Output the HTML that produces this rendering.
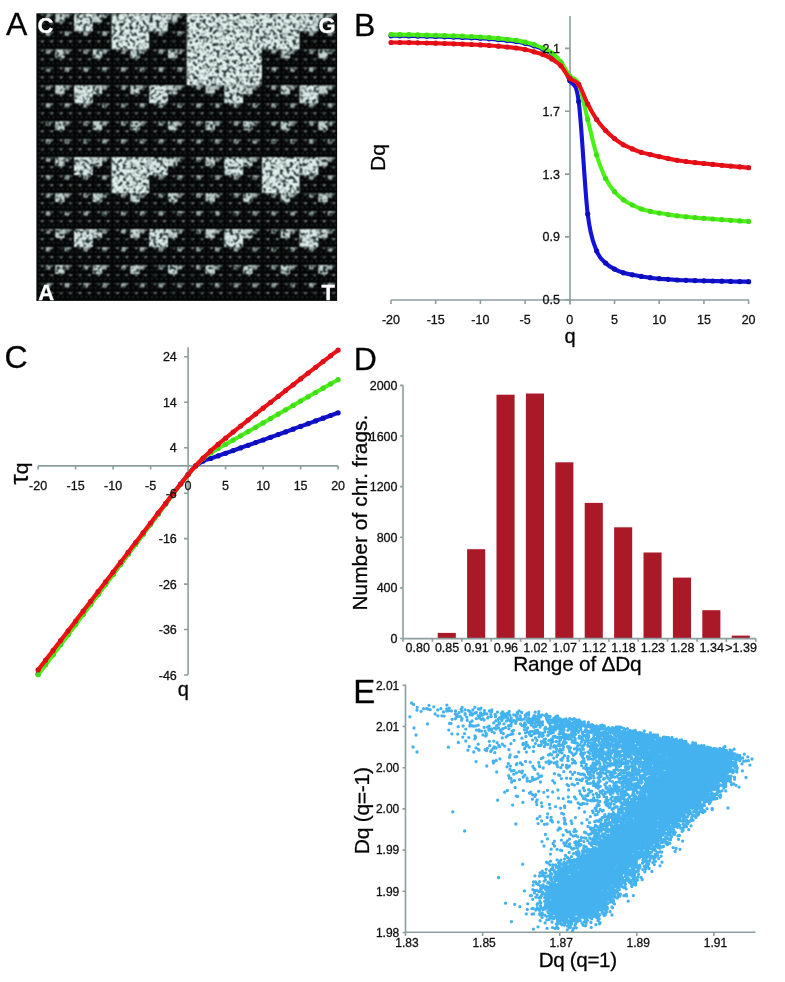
<!DOCTYPE html><html><head><meta charset="utf-8"><style>html,body{margin:0;padding:0;background:#fff;}svg{display:block}text{stroke:#111;stroke-width:.3px}.w text{stroke:#fff}</style></head><body>
<svg width="785" height="982" viewBox="0 0 785 982" style="will-change:transform" font-family="Liberation Sans, sans-serif">
<rect width="785" height="982" fill="#fff"/>
<defs>
<rect id="L0" x=".5" y="0" width=".25" height=".25"/>
<g id="L1"><use href="#L0" transform="scale(.5)"/><use href="#L0" transform="translate(.5 0) scale(.5)"/><use href="#L0" transform="translate(0 .5) scale(.5)"/><use href="#L0" transform="translate(.5 .5) scale(.5)"/></g>
<g id="L2"><use href="#L1" transform="scale(.5)"/><use href="#L1" transform="translate(.5 0) scale(.5)"/><use href="#L1" transform="translate(0 .5) scale(.5)"/><use href="#L1" transform="translate(.5 .5) scale(.5)"/></g>
<g id="L3"><use href="#L2" transform="scale(.5)"/><use href="#L2" transform="translate(.5 0) scale(.5)"/><use href="#L2" transform="translate(0 .5) scale(.5)"/><use href="#L2" transform="translate(.5 .5) scale(.5)"/></g>
<g id="L4"><use href="#L3" transform="scale(.5)"/><use href="#L3" transform="translate(.5 0) scale(.5)"/><use href="#L3" transform="translate(0 .5) scale(.5)"/><use href="#L3" transform="translate(.5 .5) scale(.5)"/></g>
<g id="L5"><use href="#L4" transform="scale(.5)"/><use href="#L4" transform="translate(.5 0) scale(.5)"/><use href="#L4" transform="translate(0 .5) scale(.5)"/><use href="#L4" transform="translate(.5 .5) scale(.5)"/></g>
<g id="L6"><use href="#L5" transform="scale(.5)"/><use href="#L5" transform="translate(.5 0) scale(.5)"/><use href="#L5" transform="translate(0 .5) scale(.5)"/><use href="#L5" transform="translate(.5 .5) scale(.5)"/></g>
<filter id="cgrblur" filterUnits="userSpaceOnUse" x="36.4" y="13.3" width="300.7" height="287.6" color-interpolation-filters="sRGB"><feTurbulence type="fractalNoise" baseFrequency="0.3" numOctaves="2" seed="7" result="t"/><feColorMatrix in="t" type="matrix" values="0 0 0 0 0 0 0 0 0 0 0 0 0 0 0 5 0 0 0 -2.4" result="mask"/><feFlood flood-color="#1c2c2c"/><feComposite in2="mask" operator="in"/><feComposite in2="SourceGraphic" operator="in" result="spk"/><feMerge><feMergeNode in="SourceGraphic"/><feMergeNode in="spk"/></feMerge><feConvolveMatrix order="3" kernelMatrix="1 2 1 2 4 2 1 2 1" divisor="16" edgeMode="none"/></filter>
</defs>
<rect x="36.4" y="13.3" width="300.7" height="287.6" fill="#050707"/>
<g filter="url(#cgrblur)">
<svg x="36.4" y="13.3" width="300.7" height="287.6" viewBox="0 0 1 1" preserveAspectRatio="none">
<use href="#L6" fill="#4a5250"/>
<use href="#L5" fill="#76807e"/>
<use href="#L4" fill="#a4b0ae"/>
<use href="#L3" fill="#c8d6d2"/>
<use href="#L2" fill="#dcebe7"/>
<use href="#L1" fill="#e2f0ec"/>
<use href="#L0" fill="#e4f2ee"/>
</svg>
</g>
<g class="w" font-weight="bold" font-size="22" fill="#fff">
<text x="37.6" y="32.8">C</text>
<text x="335.6" y="32.6" text-anchor="end">G</text>
<text x="38.2" y="300">A</text>
<text x="321.6" y="299.7">T</text>
</g>
<text x="6" y="35" font-size="32">A</text>
<text x="354" y="36" font-size="32">B</text>
<g stroke="#8c9e9e" stroke-width="1.6" fill="none">
<path d="M570 16V304.5M391 300H749"/>
<path d="M565 48.4H570M565 111.2H570M565 174.1H570M565 236.9H570M565 299.8H570M391 300V304M435.7 300V304M480.4 300V304M525.1 300V304M569.8 300V304M614.5 300V304M659.2 300V304M703.9 300V304M748.6 300V304"/>
</g>
<path d="M391 35.8C392.5 35.8 397 35.8 399.9 35.8C402.9 35.9 405.9 35.9 408.9 35.9C411.9 36 414.8 36 417.8 36.1C420.8 36.1 423.8 36.2 426.8 36.3C429.7 36.4 432.7 36.4 435.7 36.5C438.7 36.6 441.7 36.7 444.6 36.8C447.6 36.9 450.6 37 453.6 37.1C456.6 37.2 459.5 37.3 462.5 37.4C465.5 37.5 468.5 37.6 471.5 37.8C474.4 37.9 477.4 38.1 480.4 38.2C483.4 38.4 486.4 38.6 489.3 38.8C492.3 39.1 495.3 39.3 498.3 39.6C501.3 39.8 504.2 40.1 507.2 40.5C510.2 40.8 513.2 41 516.2 41.5C519.1 42 522.1 42.5 525.1 43.3C528.1 44 531.1 44.8 534 45.8C537 46.8 540 47.8 543 49.2C546 50.6 548.9 51.9 551.9 54.2C554.9 56.5 557.9 58.8 560.9 63.2C563.8 67.6 566.8 74.1 569.8 80.5C572.8 86.9 575.8 79.2 578.7 101.5C581.7 123.8 584.7 189.2 587.7 214.1C590.7 239 593.6 242.7 596.6 250.8C599.6 258.9 602.6 259.9 605.6 263C608.5 266.1 611.5 267.5 614.5 269.1C617.5 270.7 620.5 271.9 623.4 272.8C626.4 273.8 629.4 274.2 632.4 274.8C635.4 275.4 638.3 275.9 641.3 276.4C644.3 276.9 647.3 277.3 650.3 277.7C653.2 278.1 656.2 278.4 659.2 278.7C662.2 279 665.2 279.1 668.1 279.3C671.1 279.5 674.1 279.8 677.1 280C680.1 280.2 683 280.2 686 280.3C689 280.4 692 280.5 695 280.6C697.9 280.7 700.9 280.7 703.9 280.8C706.9 280.9 709.9 280.9 712.8 281C715.8 281.1 718.8 281.1 721.8 281.2C724.8 281.3 727.7 281.3 730.7 281.4C733.7 281.4 736.7 281.5 739.7 281.6C742.6 281.6 747.1 281.7 748.6 281.7" fill="none" stroke="#1212d8" stroke-width="4.1" stroke-linejoin="round"/>
<path d="M391 35.8h0M399.9 35.8h0M408.9 35.9h0M417.8 36.1h0M426.8 36.3h0M435.7 36.5h0M444.6 36.8h0M453.6 37.1h0M462.5 37.4h0M471.5 37.8h0M480.4 38.2h0M489.3 38.8h0M498.3 39.6h0M507.2 40.5h0M516.2 41.5h0M525.1 43.3h0M534 45.8h0M543 49.2h0M551.9 54.2h0M560.9 63.2h0M569.8 80.5h0M578.7 101.5h0M587.7 214.1h0M596.6 250.8h0M605.6 263h0M614.5 269.1h0M623.4 272.8h0M632.4 274.8h0M641.3 276.4h0M650.3 277.7h0M659.2 278.7h0M668.1 279.3h0M677.1 280h0M686 280.3h0M695 280.6h0M703.9 280.8h0M712.8 281h0M721.8 281.2h0M730.7 281.4h0M739.7 281.6h0M748.6 281.7h0" stroke="#0e0eb8" stroke-width="5.2" stroke-linecap="round" fill="none"/>
<path d="M391 34.6C392.5 34.6 397 34.6 399.9 34.6C402.9 34.7 405.9 34.7 408.9 34.7C411.9 34.8 414.8 34.8 417.8 34.9C420.8 34.9 423.8 35 426.8 35.1C429.7 35.2 432.7 35.2 435.7 35.3C438.7 35.4 441.7 35.5 444.6 35.6C447.6 35.7 450.6 35.8 453.6 35.9C456.6 36 459.5 36.1 462.5 36.2C465.5 36.3 468.5 36.4 471.5 36.6C474.4 36.7 477.4 36.9 480.4 37C483.4 37.2 486.4 37.4 489.3 37.6C492.3 37.9 495.3 38.1 498.3 38.4C501.3 38.6 504.2 38.9 507.2 39.3C510.2 39.6 513.2 39.8 516.2 40.3C519.1 40.8 522.1 41.3 525.1 42.1C528.1 42.8 531.1 43.6 534 44.6C537 45.6 540 46.6 543 48C546 49.4 548.9 50.7 551.9 53C554.9 55.3 557.9 58.2 560.9 62C563.8 65.8 566.8 72.3 569.8 76C572.8 79.7 575.8 76.8 578.7 84C581.7 91.2 584.7 107.6 587.7 119.4C590.7 131.2 593.6 145.2 596.6 155C599.6 164.8 602.6 172.3 605.6 178.4C608.5 184.5 611.5 188.1 614.5 191.7C617.5 195.3 620.5 197.6 623.4 199.8C626.4 202 629.4 203.5 632.4 205C635.4 206.5 638.3 207.9 641.3 209C644.3 210.1 647.3 210.7 650.3 211.4C653.2 212.1 656.2 212.6 659.2 213.1C662.2 213.6 665.2 214.1 668.1 214.5C671.1 214.9 674.1 215.4 677.1 215.8C680.1 216.2 683 216.5 686 216.8C689 217.1 692 217.3 695 217.6C697.9 217.8 700.9 218.1 703.9 218.3C706.9 218.5 709.9 218.8 712.8 219C715.8 219.2 718.8 219.5 721.8 219.7C724.8 219.9 727.7 220.1 730.7 220.3C733.7 220.5 736.7 220.7 739.7 220.9C742.6 221.1 747.1 221.3 748.6 221.4" fill="none" stroke="#4cf216" stroke-width="4.1" stroke-linejoin="round"/>
<path d="M391 34.6h0M399.9 34.6h0M408.9 34.7h0M417.8 34.9h0M426.8 35.1h0M435.7 35.3h0M444.6 35.6h0M453.6 35.9h0M462.5 36.2h0M471.5 36.6h0M480.4 37h0M489.3 37.6h0M498.3 38.4h0M507.2 39.3h0M516.2 40.3h0M525.1 42.1h0M534 44.6h0M543 48h0M551.9 53h0M560.9 62h0M569.8 76h0M578.7 84h0M587.7 119.4h0M596.6 155h0M605.6 178.4h0M614.5 191.7h0M623.4 199.8h0M632.4 205h0M641.3 209h0M650.3 211.4h0M659.2 213.1h0M668.1 214.5h0M677.1 215.8h0M686 216.8h0M695 217.6h0M703.9 218.3h0M712.8 219h0M721.8 219.7h0M730.7 220.3h0M739.7 220.9h0M748.6 221.4h0" stroke="#42dc18" stroke-width="5.2" stroke-linecap="round" fill="none"/>
<path d="M391 42.5C392.5 42.5 397 42.5 399.9 42.5C402.9 42.6 405.9 42.6 408.9 42.6C411.9 42.7 414.8 42.7 417.8 42.8C420.8 42.8 423.8 42.9 426.8 43C429.7 43.1 432.7 43.1 435.7 43.2C438.7 43.3 441.7 43.4 444.6 43.5C447.6 43.6 450.6 43.7 453.6 43.8C456.6 43.9 459.5 44 462.5 44.1C465.5 44.2 468.5 44.3 471.5 44.5C474.4 44.6 477.4 44.7 480.4 44.9C483.4 45.1 486.4 45.3 489.3 45.5C492.3 45.7 495.3 45.9 498.3 46.2C501.3 46.4 504.2 46.7 507.2 47C510.2 47.3 513.2 47.6 516.2 48C519.1 48.4 522.1 49 525.1 49.6C528.1 50.2 531.1 51 534 51.8C537 52.6 540 53.3 543 54.5C546 55.7 548.9 57.1 551.9 59C554.9 60.9 557.9 62.6 560.9 65.8C563.8 69 566.8 75.2 569.8 78.3C572.8 81.4 575.8 80.1 578.7 84.4C581.7 88.7 584.7 98.2 587.7 104C590.7 109.8 593.6 115 596.6 119.4C599.6 123.8 602.6 127.3 605.6 130.5C608.5 133.7 611.5 136.2 614.5 138.6C617.5 141 620.5 143.1 623.4 144.8C626.4 146.5 629.4 147.6 632.4 148.9C635.4 150.2 638.3 151.5 641.3 152.4C644.3 153.3 647.3 153.9 650.3 154.6C653.2 155.3 656.2 155.9 659.2 156.6C662.2 157.2 665.2 157.9 668.1 158.5C671.1 159.1 674.1 159.8 677.1 160.3C680.1 160.8 683 161.2 686 161.5C689 161.9 692 162.3 695 162.6C697.9 162.9 700.9 163.2 703.9 163.5C706.9 163.8 709.9 164.1 712.8 164.4C715.8 164.7 718.8 165 721.8 165.3C724.8 165.6 727.7 165.9 730.7 166.1C733.7 166.4 736.7 166.7 739.7 166.9C742.6 167.2 747.1 167.6 748.6 167.7" fill="none" stroke="#f01212" stroke-width="4.1" stroke-linejoin="round"/>
<path d="M391 42.5h0M399.9 42.5h0M408.9 42.6h0M417.8 42.8h0M426.8 43h0M435.7 43.2h0M444.6 43.5h0M453.6 43.8h0M462.5 44.1h0M471.5 44.5h0M480.4 44.9h0M489.3 45.5h0M498.3 46.2h0M507.2 47h0M516.2 48h0M525.1 49.6h0M534 51.8h0M543 54.5h0M551.9 59h0M560.9 65.8h0M569.8 78.3h0M578.7 84.4h0M587.7 104h0M596.6 119.4h0M605.6 130.5h0M614.5 138.6h0M623.4 144.8h0M632.4 148.9h0M641.3 152.4h0M650.3 154.6h0M659.2 156.6h0M668.1 158.5h0M677.1 160.3h0M686 161.5h0M695 162.6h0M703.9 163.5h0M712.8 164.4h0M721.8 165.3h0M730.7 166.1h0M739.7 166.9h0M748.6 167.7h0" stroke="#dc0e1c" stroke-width="5.2" stroke-linecap="round" fill="none"/>
<g font-size="12.5" fill="#111" text-anchor="end">
<text x="560" y="52.9">2.1</text>
<text x="560" y="115.7">1.7</text>
<text x="560" y="178.6">1.3</text>
<text x="560" y="241.4">0.9</text>
<text x="560" y="304.3">0.5</text>
</g>
<g font-size="12.5" fill="#111" text-anchor="middle">
<text x="391" y="324">-20</text>
<text x="435.7" y="324">-15</text>
<text x="480.4" y="324">-10</text>
<text x="525.1" y="324">-5</text>
<text x="569.8" y="324">0</text>
<text x="614.5" y="324">5</text>
<text x="659.2" y="324">10</text>
<text x="703.9" y="324">15</text>
<text x="748.6" y="324">20</text>
</g>
<text x="570" y="343" font-size="20" text-anchor="middle">q</text>
<text transform="translate(384.5 157.5) rotate(-90)" font-size="21" text-anchor="middle">Dq</text>
<text x="4.5" y="368" font-size="32">C</text>
<g stroke="#8c9e9e" stroke-width="1.6" fill="none">
<path d="M188.1 347.3V674.8M38.1 465.9H338.1M184 356.8H188.1M184 402.3H188.1M184 447.7H188.1M184 493.2H188.1M184 538.6H188.1M184 584.1H188.1M184 629.5H188.1M184 675H188.1M38.1 465.9V469.5M75.6 465.9V469.5M113.1 465.9V469.5M150.6 465.9V469.5M188.1 465.9V469.5M225.6 465.9V469.5M263.1 465.9V469.5M300.6 465.9V469.5M338.1 465.9V469.5"/>
</g>
<path d="M38.1 674C39.3 672.3 43.1 667.4 45.6 664.1C48.1 660.7 50.6 657.4 53.1 654.1C55.6 650.8 58.1 647.4 60.6 644.1C63.1 640.8 65.6 637.5 68.1 634.1C70.6 630.8 73.1 627.4 75.6 624.1C78.1 620.8 80.6 617.4 83.1 614.1C85.6 610.8 88.1 607.4 90.6 604.1C93.1 600.8 95.6 597.4 98.1 594.1C100.6 590.8 103.1 587.5 105.6 584.1C108.1 580.8 110.6 577.5 113.1 574.1C115.6 570.8 118.1 567.4 120.6 564.1C123.1 560.8 125.6 557.4 128.1 554.1C130.6 550.8 133.1 547.4 135.6 544.1C138.1 540.8 140.6 537.4 143.1 534.1C145.6 530.8 148.1 527.4 150.6 524.1C153.1 520.7 155.6 517.3 158.1 514C160.6 510.7 163.1 507.3 165.6 504C168.1 500.7 170.6 497.3 173.1 494C175.6 490.7 178.1 487.4 180.6 484.1C183.1 480.9 185.6 477.6 188.1 474.5C190.6 471.5 193.1 468.1 195.6 465.9C198.1 463.7 200.6 462.4 203.1 461.1C205.6 459.9 208.1 459.4 210.6 458.5C213.1 457.6 215.6 456.8 218.1 455.9C220.6 455 223.1 454.1 225.6 453.3C228.1 452.4 230.6 451.5 233.1 450.6C235.6 449.7 238.1 448.8 240.6 447.9C243.1 447 245.6 446.1 248.1 445.3C250.6 444.4 253.1 443.5 255.6 442.6C258.1 441.7 260.6 440.9 263.1 440C265.6 439.1 268.1 438.1 270.6 437.3C273.1 436.4 275.6 435.5 278.1 434.6C280.6 433.7 283.1 432.8 285.6 431.9C288.1 431 290.6 430.1 293.1 429.2C295.6 428.2 298.1 427.3 300.6 426.4C303.1 425.5 305.6 424.6 308.1 423.7C310.6 422.8 313.1 421.9 315.6 420.9C318.1 420 320.6 419.1 323.1 418.2C325.6 417.3 328.1 416.4 330.6 415.5C333.1 414.6 336.9 413.2 338.1 412.8" fill="none" stroke="#1212d8" stroke-width="4.1" stroke-linejoin="round"/>
<path d="M38.1 674h0M45.6 664.1h0M53.1 654.1h0M60.6 644.1h0M68.1 634.1h0M75.6 624.1h0M83.1 614.1h0M90.6 604.1h0M98.1 594.1h0M105.6 584.1h0M113.1 574.1h0M120.6 564.1h0M128.1 554.1h0M135.6 544.1h0M143.1 534.1h0M150.6 524.1h0M158.1 514h0M165.6 504h0M173.1 494h0M180.6 484.1h0M188.1 474.5h0M195.6 465.9h0M203.1 461.1h0M210.6 458.5h0M218.1 455.9h0M225.6 453.3h0M233.1 450.6h0M240.6 447.9h0M248.1 445.3h0M255.6 442.6h0M263.1 440h0M270.6 437.3h0M278.1 434.6h0M285.6 431.9h0M293.1 429.2h0M300.6 426.4h0M308.1 423.7h0M315.6 420.9h0M323.1 418.2h0M330.6 415.5h0M338.1 412.8h0" stroke="#0e0eb8" stroke-width="5.2" stroke-linecap="round" fill="none"/>
<path d="M38.1 674.7C39.3 673.1 43.1 668.1 45.6 664.8C48.1 661.4 50.6 658.1 53.1 654.8C55.6 651.4 58.1 648.1 60.6 644.7C63.1 641.4 65.6 638.1 68.1 634.7C70.6 631.4 73.1 628 75.6 624.7C78.1 621.3 80.6 618 83.1 614.6C85.6 611.3 88.1 607.9 90.6 604.6C93.1 601.2 95.6 597.9 98.1 594.6C100.6 591.2 103.1 587.9 105.6 584.5C108.1 581.2 110.6 577.9 113.1 574.5C115.6 571.2 118.1 567.8 120.6 564.5C123.1 561.1 125.6 557.8 128.1 554.4C130.6 551.1 133.1 547.7 135.6 544.4C138.1 541 140.6 537.7 143.1 534.4C145.6 531 148.1 527.6 150.6 524.3C153.1 520.9 155.6 517.5 158.1 514.2C160.6 510.8 163.1 507.5 165.6 504.1C168.1 500.8 170.6 497.5 173.1 494.1C175.6 490.8 178.1 487.5 180.6 484.2C183.1 481 185.6 477.7 188.1 474.6C190.6 471.6 193.1 468.6 195.6 465.9C198.1 463.2 200.6 460.6 203.1 458.4C205.6 456.3 208.1 454.6 210.6 453C213.1 451.3 215.6 450 218.1 448.5C220.6 447.1 223.1 445.7 225.6 444.3C228.1 442.9 230.6 441.5 233.1 440.1C235.6 438.7 238.1 437.2 240.6 435.8C243.1 434.4 245.6 433 248.1 431.6C250.6 430.2 253.1 428.7 255.6 427.3C258.1 425.8 260.6 424.3 263.1 422.9C265.6 421.4 268.1 420 270.6 418.5C273.1 417.1 275.6 415.6 278.1 414.2C280.6 412.7 283.1 411.3 285.6 409.8C288.1 408.4 290.6 406.9 293.1 405.4C295.6 404 298.1 402.5 300.6 401.1C303.1 399.6 305.6 398.2 308.1 396.8C310.6 395.3 313.1 393.9 315.6 392.5C318.1 391 320.6 389.6 323.1 388.2C325.6 386.8 328.1 385.3 330.6 383.9C333.1 382.5 336.9 380.4 338.1 379.6" fill="none" stroke="#4cf216" stroke-width="4.1" stroke-linejoin="round"/>
<path d="M38.1 674.7h0M45.6 664.8h0M53.1 654.8h0M60.6 644.7h0M68.1 634.7h0M75.6 624.7h0M83.1 614.6h0M90.6 604.6h0M98.1 594.6h0M105.6 584.5h0M113.1 574.5h0M120.6 564.5h0M128.1 554.4h0M135.6 544.4h0M143.1 534.4h0M150.6 524.3h0M158.1 514.2h0M165.6 504.1h0M173.1 494.1h0M180.6 484.2h0M188.1 474.6h0M195.6 465.9h0M203.1 458.4h0M210.6 453h0M218.1 448.5h0M225.6 444.3h0M233.1 440.1h0M240.6 435.8h0M248.1 431.6h0M255.6 427.3h0M263.1 422.9h0M270.6 418.5h0M278.1 414.2h0M285.6 409.8h0M293.1 405.4h0M300.6 401.1h0M308.1 396.8h0M315.6 392.5h0M323.1 388.2h0M330.6 383.9h0M338.1 379.6h0" stroke="#42dc18" stroke-width="5.2" stroke-linecap="round" fill="none"/>
<path d="M38.1 669.9C39.3 668.3 43.1 663.4 45.6 660.2C48.1 656.9 50.6 653.7 53.1 650.4C55.6 647.2 58.1 643.9 60.6 640.6C63.1 637.4 65.6 634.1 68.1 630.8C70.6 627.5 73.1 624.3 75.6 621C78.1 617.7 80.6 614.5 83.1 611.2C85.6 607.9 88.1 604.7 90.6 601.4C93.1 598.1 95.6 594.9 98.1 591.6C100.6 588.3 103.1 585.1 105.6 581.8C108.1 578.5 110.6 575.3 113.1 572C115.6 568.7 118.1 565.5 120.6 562.2C123.1 558.9 125.6 555.6 128.1 552.4C130.6 549.1 133.1 545.8 135.6 542.6C138.1 539.3 140.6 536.1 143.1 532.8C145.6 529.5 148.1 526.2 150.6 523C153.1 519.7 155.6 516.4 158.1 513.1C160.6 509.9 163.1 506.6 165.6 503.4C168.1 500.1 170.6 496.8 173.1 493.6C175.6 490.4 178.1 487.2 180.6 484C183.1 480.8 185.6 477.6 188.1 474.6C190.6 471.6 193.1 468.7 195.6 465.9C198.1 463.1 200.6 460.5 203.1 458C205.6 455.5 208.1 453.2 210.6 450.9C213.1 448.7 215.6 446.5 218.1 444.4C220.6 442.3 223.1 440.2 225.6 438.2C228.1 436.1 230.6 434.1 233.1 432.1C235.6 430.1 238.1 428.1 240.6 426.1C243.1 424.1 245.6 422.1 248.1 420.1C250.6 418.2 253.1 416.1 255.6 414.1C258.1 412.1 260.6 410.1 263.1 408.2C265.6 406.2 268.1 404.2 270.6 402.3C273.1 400.4 275.6 398.5 278.1 396.5C280.6 394.6 283.1 392.6 285.6 390.6C288.1 388.7 290.6 386.7 293.1 384.8C295.6 382.8 298.1 380.8 300.6 378.9C303.1 376.9 305.6 375 308.1 373.1C310.6 371.1 313.1 369.2 315.6 367.3C318.1 365.4 320.6 363.5 323.1 361.6C325.6 359.6 328.1 357.7 330.6 355.8C333.1 353.9 336.9 351.1 338.1 350.1" fill="none" stroke="#f01212" stroke-width="4.1" stroke-linejoin="round"/>
<path d="M38.1 669.9h0M45.6 660.2h0M53.1 650.4h0M60.6 640.6h0M68.1 630.8h0M75.6 621h0M83.1 611.2h0M90.6 601.4h0M98.1 591.6h0M105.6 581.8h0M113.1 572h0M120.6 562.2h0M128.1 552.4h0M135.6 542.6h0M143.1 532.8h0M150.6 523h0M158.1 513.1h0M165.6 503.4h0M173.1 493.6h0M180.6 484h0M188.1 474.6h0M195.6 465.9h0M203.1 458h0M210.6 450.9h0M218.1 444.4h0M225.6 438.2h0M233.1 432.1h0M240.6 426.1h0M248.1 420.1h0M255.6 414.1h0M263.1 408.2h0M270.6 402.3h0M278.1 396.5h0M285.6 390.6h0M293.1 384.8h0M300.6 378.9h0M308.1 373.1h0M315.6 367.3h0M323.1 361.6h0M330.6 355.8h0M338.1 350.1h0" stroke="#dc0e1c" stroke-width="5.2" stroke-linecap="round" fill="none"/>
<g font-size="12.5" fill="#111" text-anchor="end">
<text x="176.8" y="361.3">24</text>
<text x="176.8" y="406.8">14</text>
<text x="176.8" y="452.2">4</text>
<text x="176.8" y="497.7">-6</text>
<text x="176.8" y="543.1">-16</text>
<text x="176.8" y="588.6">-26</text>
<text x="176.8" y="634">-36</text>
<text x="176.8" y="679.5">-46</text>
</g>
<g font-size="12.5" fill="#111" text-anchor="middle">
<text x="38.1" y="490">-20</text>
<text x="75.6" y="490">-15</text>
<text x="113.1" y="490">-10</text>
<text x="150.6" y="490">-5</text>
<text x="188.1" y="490">0</text>
<text x="225.6" y="490">5</text>
<text x="263.1" y="490">10</text>
<text x="300.6" y="490">15</text>
<text x="338.1" y="490">20</text>
</g>
<text x="183.3" y="696" font-size="20" text-anchor="middle">q</text>
<text transform="translate(27.6 484.5) rotate(-90)" font-size="21"><tspan font-size="26">τ</tspan>q</text>
<text x="353.8" y="370" font-size="32">D</text>
<rect x="437.7" y="632.9" width="18.1" height="5.7" fill="#aa1928"/>
<rect x="467.1" y="549.2" width="18.1" height="89.4" fill="#aa1928"/>
<rect x="496.5" y="394.7" width="18.1" height="243.9" fill="#aa1928"/>
<rect x="525.9" y="393.5" width="18.1" height="245.1" fill="#aa1928"/>
<rect x="555.3" y="462.3" width="18.1" height="176.3" fill="#aa1928"/>
<rect x="584.7" y="502.9" width="18.1" height="135.7" fill="#aa1928"/>
<rect x="614.1" y="527.3" width="18.1" height="111.3" fill="#aa1928"/>
<rect x="643.5" y="552.5" width="18.1" height="86.1" fill="#aa1928"/>
<rect x="672.9" y="577.6" width="18.1" height="61" fill="#aa1928"/>
<rect x="702.3" y="610.2" width="18.1" height="28.4" fill="#aa1928"/>
<rect x="731.7" y="635.6" width="18.1" height="3" fill="#aa1928"/>
<g stroke="#8c9e9e" stroke-width="1.6" fill="none">
<path d="M403 385.2V638.6H755.8M400.1 638.5H403M400.1 587.9H403M400.1 537.3H403M400.1 486.6H403M400.1 436H403M400.1 385.4H403M403 638.6V641.8M432.4 638.6V641.8M461.8 638.6V641.8M491.2 638.6V641.8M520.6 638.6V641.8M550 638.6V641.8M579.4 638.6V641.8M608.8 638.6V641.8M638.2 638.6V641.8M667.6 638.6V641.8M697 638.6V641.8M726.4 638.6V641.8M755.8 638.6V641.8"/>
</g>
<g font-size="12.5" fill="#111" text-anchor="end">
<text x="397.5" y="643">0</text>
<text x="397.5" y="592.4">400</text>
<text x="397.5" y="541.8">800</text>
<text x="397.5" y="491.1">1200</text>
<text x="397.5" y="440.5">1600</text>
<text x="397.5" y="389.9">2000</text>
</g>
<g font-size="12.5" fill="#111" text-anchor="middle">
<text x="417.7" y="651.5">0.80</text>
<text x="447.1" y="651.5">0.85</text>
<text x="476.5" y="651.5">0.91</text>
<text x="505.9" y="651.5">0.96</text>
<text x="535.3" y="651.5">1.02</text>
<text x="564.7" y="651.5">1.07</text>
<text x="594.1" y="651.5">1.12</text>
<text x="623.5" y="651.5">1.18</text>
<text x="652.9" y="651.5">1.23</text>
<text x="682.3" y="651.5">1.28</text>
<text x="711.7" y="651.5">1.34</text>
<text x="741.1" y="651.5">&gt;1.39</text>
</g>
<text x="513.2" y="671" font-size="20.8" textLength="128.5" lengthAdjust="spacing">Range of ΔDq</text>
<text transform="translate(366.5 610.6) rotate(-90)" font-size="20.8" textLength="196" lengthAdjust="spacing">Number of chr. frags.</text>
<text x="353.3" y="702.7" font-size="33">E</text>
<path d="M689.5 780.1h0M575.1 912.3h0M721.6 754.2h0M679.5 762h0M656 811.4h0M544.8 732.1h0M604.4 872.4h0M684.4 765h0M709.8 763.9h0M580 876.9h0M655.6 746.4h0M535.7 910h0M590.7 854.5h0M679.8 790.7h0M607.9 831.5h0M611.8 738.3h0M654.9 802.1h0M648.6 828.6h0M604.1 876.4h0M647.7 819.7h0M641.6 748.8h0M575.5 875.9h0M660.2 774.6h0M577.9 913.5h0M692.9 747.1h0M623.7 728.4h0M565.2 907.3h0M569.7 905.1h0M728.3 764.7h0M598.7 905.9h0M663.1 835.1h0M628.1 851.8h0M701.7 775.6h0M664.4 830.1h0M581 895.2h0M660.7 828.6h0M616.4 862.9h0M668.7 763.7h0M658.5 812.3h0M608.8 867.9h0M565.1 903.6h0M539.8 716h0M690.1 781h0M622.4 840.8h0M685.1 798.6h0M657.1 765h0M675.4 789.7h0M591.4 885h0M655.6 820h0M584.2 877.9h0M685.2 746.6h0M665.6 810.4h0M683.4 769.2h0M613.3 812.7h0M634.3 868.1h0M701.1 756.7h0M655.8 823.8h0M571.7 878.1h0M641.7 830.7h0M685 762.1h0M615.3 788.5h0M647.6 832.5h0M642.3 756.3h0M710.4 787.1h0M564.5 806h0M667 811.5h0M699.9 790.1h0M574.5 906.2h0M581 899.8h0M594 777.9h0M646.6 758.1h0M619 831.9h0M667.9 748.7h0M677.4 782.2h0M675.4 768.6h0M610.1 885.9h0M511.2 718h0M580.9 892.5h0M604.9 897.6h0M671.9 815.9h0M635 816.8h0M605.9 739.8h0M551.7 910.3h0M604.7 873.6h0M643.7 806.3h0M706 760.5h0M563.8 895.4h0M717.6 778.5h0M735.8 762.2h0M578 886.4h0M639 824.8h0M624.8 850.4h0M637.6 834.1h0M658.5 771h0M594.2 857.7h0M596.9 840.5h0M614.9 777.2h0M622.1 830.5h0M649.7 783.2h0M614 831.5h0M564.6 859h0M694.7 807.2h0M613.9 875.1h0M592 880.9h0M577.2 907.2h0M589.8 861.9h0M710.7 777.2h0M556.3 923.8h0M565.6 894.6h0M678.8 767.1h0M618.8 800.7h0M449.6 723.4h0M623.3 859.9h0M654.3 821.2h0M665.5 792.9h0M705.3 747.7h0M565.7 910.5h0M631.5 826.6h0M609.1 845.6h0M590.2 868.6h0M597.9 879.9h0M685.6 793.7h0M677.4 796.8h0M593.9 902.9h0M661.6 801.5h0M541.6 895.5h0M680.8 775.9h0M702.9 781.6h0M704.3 769h0M730.8 766.7h0M651.8 820.7h0M624.6 863.9h0M567.8 892h0M696.3 767.2h0M697.8 769.1h0M648.8 797.2h0M696.7 789.4h0M615.5 859.4h0M671.6 812.6h0M575.3 914.1h0M704.6 773.2h0M703.4 768h0M696.9 764h0M533.5 779.7h0M595.6 913.6h0M566.7 902.9h0M557.1 762h0M702 808.2h0M567.3 840.8h0M619.3 737.9h0M702.9 798.6h0M651.6 855.8h0M653.6 781h0M669 780.7h0M686.1 795.1h0M599.4 874.9h0M590.4 727.2h0M700.7 748.7h0M697.3 778.6h0M666.8 786.1h0M630.7 750.2h0M688.9 800.4h0M666.8 799h0M568.6 801.7h0M580.2 890.2h0M629.8 775.6h0M686.2 749.8h0M687.1 766.1h0M549.3 898.6h0M679.4 835.5h0M699.2 762.3h0M674.2 747.3h0M712.5 761.8h0M643.2 795.7h0M657.2 766.9h0M569.5 839.1h0M608.1 843.7h0M604.9 736.7h0M697 759.4h0M686.5 809.3h0M606.1 852.5h0M649.7 744.9h0M667.3 742.9h0M621.3 872.9h0M601.5 870.7h0M660 807.4h0M672.5 751.6h0M658.2 841h0M597.5 729.3h0M573.4 888.9h0M646.1 821.4h0M614.7 894.5h0M625.7 880.2h0M625.5 829.8h0M712 762.7h0M596.5 889.6h0M607.3 816.8h0M675.1 767.2h0M713.7 794.2h0M694.4 802.2h0M627.3 860.2h0M693.2 756.2h0M726.2 767h0M655.6 794.7h0M621.2 853.4h0M573.6 895.2h0M639.5 758.2h0M625.3 840.7h0M594.9 729.9h0M572.1 908.3h0M654.2 744.5h0M686.7 774.6h0M651.8 828h0M574 912.9h0M707.1 777.7h0M725.7 751.7h0M644.7 823.2h0M555.4 898.2h0M665 804.3h0M677.5 747.9h0M614.1 790.8h0M652.4 760.5h0M702.9 780.4h0M672.3 768.3h0M680 778.6h0M570.8 871.6h0M619.4 886.4h0M479.2 731.1h0M575.6 900.5h0M593.5 879.9h0M640.5 752.1h0M656 800.8h0M503.3 718.2h0M671.9 800h0M679.6 783.3h0M636.2 826.2h0M675 806.9h0M606.1 855.7h0M640.2 841h0M579.2 883.7h0M474.8 738.8h0M537.8 720.2h0M639.3 852.6h0M702.1 788.6h0M646.4 830.4h0M482.9 734.9h0M563.5 888.6h0M714 771.2h0M687.7 798.2h0M674 780.5h0M596.6 894.6h0M691.1 788.9h0M620.7 885.4h0M670.4 754.2h0M576.4 866.2h0M579.5 886.7h0M722.2 767.7h0M573.6 900h0M669.5 783h0M696.7 752.3h0M648.8 835.7h0M717.1 766.5h0M595.4 893.8h0M602.6 743.9h0M693.5 752.4h0M571.6 913.2h0M672.7 810.1h0M588.5 735.4h0M622.9 781.1h0M666.2 815.4h0M684.9 790.2h0M553.7 752h0M703.8 785.3h0M694 767.4h0M572.2 901.8h0M628.4 766.9h0M563.7 880.2h0M613 738.3h0M619.7 842.4h0M681.3 803h0M572.1 869.4h0M574.3 754.6h0M623.5 826.4h0M651.7 809h0M683.5 821.6h0M568.6 789.9h0M590.9 865.8h0M623 742.2h0M668.2 789.1h0M626.1 831.3h0M653.7 829.1h0M539.9 776.3h0M627 737h0M704.2 790.4h0M577.3 876.9h0M689.2 749.8h0M621.4 860.2h0M716.7 752.8h0M680.9 790.8h0M633.6 776.9h0M638.4 854.2h0M696.9 780h0M625.9 745.1h0M619.3 742.9h0M698.6 755.7h0M614 751.4h0M652.9 803.7h0M659.7 738.4h0M657 826.6h0M616.2 729.5h0M717.8 777h0M622.2 805.5h0M627.1 825h0M582.1 886h0M663.6 761.8h0M629.1 849.7h0M698.6 814.2h0M615.9 840.9h0M674.8 771.2h0M486.3 733.4h0M615.1 855.2h0M583.2 899.5h0M652.2 788.9h0M598.3 893.9h0M706.4 755.8h0M654.3 800.6h0M599.2 854.8h0M693.6 770.7h0M650.6 818.5h0M721.4 766.5h0M678.7 748h0M690.3 806.8h0M600.2 864.7h0M620.3 863h0M607.5 881h0M666.8 771.6h0M679.1 786.3h0M702.8 769.2h0M652.7 828.7h0M731.8 751.2h0M614.6 873.7h0M572.2 725.7h0M637.7 838.4h0M655.4 805.3h0M594.9 891.3h0M687.4 813.2h0M630.4 842.4h0M669.8 808.7h0M697.9 804h0M579.6 895.5h0M619.3 835.8h0M716 794h0M619.1 735.5h0M595.8 848h0M678.5 839.3h0M669.6 773h0M683.9 756.9h0M486.4 735.2h0M673.4 814.5h0M682.4 750.9h0M664.4 752.2h0M659.6 814.1h0M625.8 860.4h0M673.4 783h0M574.7 872.2h0M593.1 886.9h0M681 810.4h0M559.7 728.9h0M626.7 853.1h0M642.9 775.3h0M599.1 735.6h0M573.6 897.6h0M563.8 884.3h0M542.2 888.2h0M683.3 750.6h0M636.9 819.8h0M671.2 756.8h0M725 774.2h0M642.4 776.3h0M617.8 881.3h0M603.7 870h0M592.2 872.2h0M633.5 832.7h0M620.7 798.3h0M641.3 847h0M661.6 753.9h0M644 771.9h0M658.3 739.1h0M616.7 825.9h0M583.3 894.9h0M653.1 748.8h0M607 848.8h0M596 886h0M695.6 744.3h0M684 759.8h0M711.9 756.4h0M557.1 908.9h0M590.9 844.2h0M566.8 883.9h0M681.9 798.2h0M572.2 742.2h0M640.4 803.8h0M551.6 898.1h0M551 913.6h0M632.1 837.2h0M622.6 837.4h0M676.6 788.1h0M567.3 831.8h0M731.5 757.7h0M606.7 885.6h0M600.3 839.1h0M585.7 891.7h0M700.4 783.7h0M605.9 745.6h0M574.2 919.6h0M594 865.2h0M575.2 894.2h0M615 879.4h0M692.8 762.4h0M673.3 804h0M654.6 808.9h0M637.8 835.2h0M600 726.6h0M584 893.4h0M685.1 753.2h0M694.9 799.3h0M700.8 768.8h0M663.7 804.1h0M576.8 911.7h0M601.6 726.6h0M589.8 875.5h0M569.7 890.4h0M637.4 853.7h0M579.3 910.5h0M641.9 856.6h0M637.2 829.1h0M711.5 752.3h0M667.2 803.3h0M586.6 855.2h0M653.4 826.3h0M571.5 881.7h0M644 758.7h0M536.8 719.4h0M618.3 833.8h0M692.3 790.1h0M563.4 899.6h0M591.9 832.7h0M665.8 843.2h0M620.3 764h0M654.1 778.4h0M580.9 844.7h0M598.9 884h0M727 761.6h0M623.2 821.4h0M631.4 758.8h0M607.8 751.5h0M562.6 911.1h0M626.1 888.9h0M663.5 777.5h0M720.4 768.8h0M720.4 754.8h0M580.8 896.4h0M663.4 765.3h0M664 775.9h0M578 876.2h0M731.1 769.4h0M558.5 921.5h0M568.4 903.3h0M624.9 746.8h0M582.1 898.2h0M589.2 883.7h0M650.9 791.6h0M640.6 831.6h0M600.4 873.6h0M616.6 844.8h0M630.9 854.7h0M611 875.6h0M669.4 768.1h0M625.1 843h0M653.5 785.4h0M659.6 795.9h0M634.1 806.2h0M642 836.9h0M591.9 852.1h0M649.2 807.7h0M629 811.6h0M707 751.2h0M569 885.8h0M686.3 743.4h0M617.8 735.6h0M660.1 739.8h0M659.3 793.5h0M615.6 838.2h0M706.4 787.7h0M604.1 851h0M462 711.3h0M656.2 813.1h0M669.9 831.3h0M681 785.8h0M607.3 874h0M587.3 901.3h0M714.9 773.8h0M608 864.7h0M643.5 738.3h0M660.2 804.7h0M538.3 884.4h0M557.3 718.9h0M650.9 748.1h0M654.5 772.3h0M669.9 799.3h0M544.8 915.1h0M557.1 890.5h0M660.7 811.4h0M589.2 879.2h0M597 875.3h0M684.8 760.4h0M669.1 823.8h0M576.3 914.2h0M604.2 740.8h0M573.7 885.9h0M603.1 883.5h0M615.3 847.5h0M583.1 876.1h0M659.9 787.5h0M557.6 910.8h0M547.5 790.3h0M725.2 778.7h0M577.3 859.9h0M516.3 716.3h0M681.8 776.1h0M628.6 802.3h0M727.5 771.1h0M593.5 861.1h0M635.5 755.1h0M671.6 782h0M700.7 771.1h0M670.3 802h0M620.4 860h0M613.7 837.7h0M706.7 757.5h0M537.9 773.9h0M669.3 800.9h0M719.9 777.7h0M574.8 731.8h0M593.4 900.2h0M670.8 811.1h0M525.5 761.4h0M560.4 915.4h0M680.2 760.8h0M679.2 776.8h0M568.2 756.5h0M705 767.9h0M596.2 869.2h0M583.7 759.7h0M636.5 855.8h0M593.6 832.9h0M654.5 823.5h0M672.8 794.5h0M718.7 758.6h0M627.8 761.1h0M666 776.9h0M677 809.9h0M588.2 898.9h0M578 895.9h0M635.4 843.9h0M607 870.8h0M599.1 915.5h0M651 788.5h0M611.1 854.6h0M603.1 766.9h0M682.4 766.9h0M646.8 818h0M644.2 800.3h0M637.6 748.7h0M608 824.3h0M663.3 810.7h0M567.4 886.9h0M641.1 823.8h0M733.2 758.6h0M641.8 839.4h0M668.9 756.4h0M564.5 888h0M715.9 751.8h0M560.8 723h0M618.3 844.5h0M706.1 759.2h0M670.9 789.9h0M584.3 895.1h0M697.7 782.9h0M695.4 750.3h0M711.1 753.8h0M653.9 760h0M590 911h0M633.5 736.4h0M695.9 755.7h0M668.1 752.5h0M723.5 761.6h0M628.7 809.2h0M666.1 783.5h0M597.1 901.9h0M739.1 787.1h0M626.5 877.5h0M588.6 901.5h0M619.5 865.6h0M663.9 801.8h0M644.9 761.6h0M676.9 803h0M713.8 784.7h0M687 771.2h0M693.4 769h0M617.6 872h0M645.9 811.5h0M698.7 765.4h0M639.1 771.5h0M705.8 783h0M602.7 755.9h0M613.3 836.1h0M597.9 874.8h0M628.3 818.9h0M636.2 816.5h0M580.2 877.9h0M590.6 916.4h0M630.3 774.7h0M653.5 824.1h0M642.4 809.9h0M581.9 910.8h0M699.1 782h0M635 800.1h0M662.7 817.4h0M644.9 815.1h0M651.3 808h0M633.4 732.9h0M567.6 916.3h0M596.7 738.3h0M608.4 818.4h0M494.1 761.8h0M620.9 751.4h0M719.7 776.7h0M637.7 814.1h0M607.6 892.3h0M722.8 775.3h0M621.7 818.7h0M570.8 905.7h0M676.9 814.3h0M600.2 872.2h0M691.5 748.8h0M654.7 840.5h0M558.4 900.1h0M638.6 839h0M612.3 828.7h0M626.9 781.4h0M585.4 881.3h0M560.9 897.9h0M592.7 850.7h0M606.1 804.8h0M577.1 892.8h0M630.7 817.6h0M614.8 881.6h0M593.5 800.8h0M636.3 804.3h0M701.8 769.5h0M643.2 812.3h0M731.6 771.7h0M644.4 766.4h0M669.9 765.8h0M579.9 875.1h0M605.2 886.1h0M630 805.7h0M716.2 762.2h0M651.5 857.5h0M603.3 729.1h0M685 766.7h0M639.1 780.9h0M579.9 906.3h0M475.6 737.5h0M628.1 772.9h0M693.7 781.4h0M561.3 913.3h0M611.7 881.5h0M573.6 721.8h0M619.3 816h0M673.5 800.1h0M647.7 751.1h0M724.5 772.3h0M561.1 899h0M582.5 881.2h0M597.3 857.2h0M656.1 763.7h0M708.8 755.6h0M536.7 732.9h0M632.2 852h0M640.6 825.5h0M671.9 738.9h0M716.9 768.5h0M588.5 889.1h0M603.8 859.2h0M650.2 770h0M595.4 888h0M592.3 898.8h0M628.1 867.2h0M578 883.1h0M586.1 877.3h0M648.2 818.7h0M708.8 764.3h0M696.8 776.7h0M661.5 783.5h0M605.5 742.2h0M618 818h0M669.7 820.5h0M660 851.9h0M536.6 909.2h0M626.8 751.8h0M527.7 713.2h0M652.7 837h0M601.9 860.9h0M654.4 774.6h0M687 799.3h0M590.4 725.3h0M636 838.5h0M633.9 870h0M644.4 813.5h0M614.6 744.6h0M639.3 828h0M624 857h0M625.5 884.1h0M642.1 820.4h0M604.2 734.3h0M599.8 895.7h0M661.5 816h0M661.3 832.4h0M622.4 735.2h0M659.8 781.7h0M674.5 750h0M691.2 757.8h0M627 834.4h0M718.3 782.6h0M590.4 883h0M662 755.5h0M658.7 832.8h0M576.2 910.4h0M578.2 900.8h0M653.7 737.9h0M670.6 821.6h0M696.8 756.6h0M599.3 879.1h0M626.2 741.4h0M560.4 875.2h0M673.3 792.5h0M661.7 800.3h0M679.8 775.5h0M564.1 916.8h0M634 830.1h0M668.1 834.8h0M534.5 892.8h0M600 855.7h0M648.6 854h0M651 773.1h0M601.8 886.1h0M498.2 719.3h0M657.5 845.2h0M550.7 873.3h0M572.5 891.8h0M716.8 763.4h0M568.1 908.4h0M643.3 762.6h0M629.8 796.6h0M563.2 878.6h0M576.2 831.3h0M622.2 879.6h0M685.8 767.4h0M461.1 709.5h0M723.2 756.9h0M696.4 771.9h0M639.9 743h0M701.5 786.4h0M601.3 869.2h0M701.1 751.9h0M616.8 819.4h0M677.2 794.4h0M598 749.9h0M533 725.8h0M660.4 830.1h0M667.1 749.9h0M583.4 774.2h0M655.7 828.5h0M533.6 716.9h0M696.1 785.1h0M639.8 836.7h0M634.4 852.1h0M674.3 817.7h0M693 749.9h0M690.9 773h0M693 795.4h0M606.2 768.7h0M584.5 874.8h0M467.3 720.3h0M551.3 915.3h0M567.2 912.3h0M716.3 781.2h0M734.5 777.2h0M659.5 806.2h0M632.7 768.7h0M652.3 832.8h0M704.1 798h0M717.2 782.3h0M590.8 838.8h0M665.6 824.4h0M592.8 843.5h0M575.6 897h0M599.7 863.7h0M689 763.9h0M719.9 751.5h0M539 736.8h0M610.1 851.8h0M664.2 800.8h0M679.3 768.6h0M645.4 784h0M649.3 820.1h0M722.8 766.7h0M595.9 896.6h0M662.3 794.4h0M599.2 901.6h0M566 922.3h0M690.7 804.1h0M586.6 907.4h0M713.1 763.9h0M675.3 808.2h0M643.8 823.9h0M657.9 779h0M702.4 757.6h0M667.2 817.6h0M619.6 874.3h0M697.5 757.5h0M534.1 715.6h0M552.5 927.6h0M568.1 890.9h0M550.8 903.5h0M659.4 764.1h0M616.7 872.7h0M631.5 829h0M621.9 851.6h0M581.8 908.3h0M541.3 758.7h0M633.8 812.5h0M553.4 907.8h0M670.6 804.3h0M650.4 828h0M630.2 852h0M633.3 792.4h0M577.9 897.5h0M710 752.5h0M696 775.4h0M583.6 798.5h0M656.4 797.8h0M578.3 881.1h0M623 838.6h0M563.9 722h0M692.9 757.7h0M629.8 732.1h0M595 867.6h0M651.2 742.2h0M563.7 733.3h0M616.1 833.6h0M663.9 825.7h0M587.1 882.2h0M564.7 913.2h0M533.4 929.1h0M609 895.5h0M572.9 884.2h0M652.1 768.9h0M552.8 726.8h0M728.4 777.3h0M676.1 782.5h0M602.5 899.3h0M617.7 835.4h0M604.7 745.5h0M562.4 724.8h0M646.1 808.3h0M633.2 801.6h0M562 914.9h0M633.3 850.3h0M662.6 797h0M634 748h0M608.3 747.9h0M602.8 866.5h0M647 739.9h0M697.2 750.2h0M621.3 845.1h0M679.9 781h0M564.2 922.4h0M700.4 781.2h0M578.3 889.2h0M562.7 897.2h0M621.3 858.5h0M607 856.4h0M562.8 737h0M571.3 847.9h0M607.3 908.9h0M691.9 779.4h0M657.5 802h0M652.4 802.6h0M612.4 866h0M609.2 892.6h0M687.7 774.4h0M652.9 808.3h0M602.8 877.7h0M738.8 757.4h0M564.9 873h0M593.6 863.1h0M687.4 783.4h0M705.2 753.3h0M599.8 884.9h0M632.8 747.5h0M582 877.2h0M668.4 796.7h0M610.6 745h0M666 759.1h0M713.7 776.7h0M670.8 792.1h0M615.7 839.5h0M641.9 803.3h0M616.1 763.6h0M606.1 868.1h0M699.1 767.9h0M568 894.3h0M686.4 747.9h0M558.1 888h0M596.2 891.1h0M693.5 743.5h0M611.7 731.1h0M645.3 853.8h0M649.3 832.1h0M704.1 778.6h0M695.4 758.2h0M714.6 780.7h0M569.9 909.8h0M571.1 900.1h0M491.9 749.9h0M639.4 829.8h0M553.7 895.7h0M622.3 811.6h0M722.3 758.9h0M551.8 883.9h0M625.3 861.4h0M586.8 872.7h0M711.5 761.5h0M668.4 786.6h0M696.6 809.5h0M601.2 888.7h0M610.5 866.8h0M569 911.6h0M561.2 903.6h0M623.5 848.1h0M594.3 879.1h0M674.3 793h0M683.7 763.1h0M721.6 759.8h0M706.3 774.6h0M690.3 799h0M651.5 749.5h0M589.3 885h0M538 778.1h0M702.6 786.9h0M574.1 859.7h0M701 782.5h0M646.8 799h0M650.7 765.7h0M569.2 902.1h0M548.9 740.4h0M728.6 752.7h0M672.4 781.1h0M658.2 852.3h0M656 780.1h0M618.7 870.4h0M706.5 766.2h0M608.6 874.1h0M582 895.2h0M629 740.3h0M619.4 780.2h0M594.3 896.6h0M655.5 850.7h0M562.4 893.4h0M562.8 908.4h0M644.2 866.3h0M611.9 772.9h0M681.6 811.6h0M652.8 786.5h0M591.7 859.9h0M693.1 753.4h0M573.1 875.3h0M621.1 733.9h0M653.2 792.9h0M664.1 768.9h0M563.7 911.3h0M695.4 769.6h0M609 876.4h0M558.9 883.4h0M618.6 854.6h0M615 826h0M662.8 833.1h0M613 893.4h0M670.3 813.1h0M697.7 785.3h0M645.6 798h0M544.8 906.8h0M639.1 769.7h0M568 760.7h0M716 758.4h0M661.9 814.7h0M628.1 842.9h0M600.5 893.1h0M652.3 755.6h0M657.1 819h0M582.3 912h0M581.9 869.5h0M643.1 743.7h0M569.6 877.1h0M626 823h0M623.9 819.1h0M709.4 785.8h0M593.2 890.9h0M650 780.7h0M556.1 876.3h0M632.3 849.3h0M615.4 871.9h0M601.7 874.2h0M595.3 884.3h0M641 851.1h0M646.3 822.4h0M556.8 723.4h0M735.7 768.1h0M668.7 827.2h0M612.7 882.9h0M615.4 733h0M643.7 847h0M687.1 795.9h0M652 843.1h0M561.8 884.1h0M592.4 877.7h0M669.6 798.1h0M652.1 821.8h0M612.7 834.6h0M587.5 890h0M716.3 774.5h0M678.6 816.2h0M599.6 729.5h0M635.6 741.4h0M574.4 892.6h0M694.6 761.2h0M458.3 742.5h0M669.1 793.4h0M695.9 788.4h0M559.1 909.1h0M640.1 832.9h0M675.8 787.1h0M627.4 859h0M599.4 827.7h0M582 907.1h0M660.2 791h0M595.2 726.6h0M718.7 771.5h0M603.8 884.9h0M547.8 862.9h0M535.2 712.2h0M656.3 757.6h0M599 731.2h0M648.6 763h0M616.3 816.3h0M636.4 843.3h0M600.9 863h0M571 916.3h0M616.3 768.5h0M691.1 795.1h0M565.9 917.6h0M682.3 757.3h0M698.4 751.1h0M644.6 752.9h0M660.2 832.1h0M639.9 746.1h0M604.2 853.1h0M536.5 883.5h0M609.2 859.5h0M652.9 800.3h0M687.7 762.4h0M585.9 896.6h0M665.2 812.8h0M624.6 818.1h0M631.5 855.7h0M623.9 776.3h0M712.3 793.7h0M613.5 763.6h0M599 832.3h0M707.8 779h0M666.3 765.6h0M627.6 868.7h0M599.3 869.3h0M658.9 774.8h0M585.8 895.2h0M649.5 812h0M582.8 874.2h0M566.5 765.1h0M662.3 808.3h0M633.6 742h0M677 777.1h0M712.2 771h0M561.3 724.5h0M590.5 900.5h0M684.4 783.7h0M618.8 826.6h0M573.5 891.5h0M673.2 795.5h0M682.8 788.5h0M628 844.7h0M634.3 801.8h0M501.2 732.3h0M640.9 812h0M674.7 751.4h0M724.9 775.4h0M683.6 790.7h0M615.2 865.2h0M618.5 733h0M535.4 716.2h0M582.8 860.5h0M645.8 856.7h0M713.5 750.9h0M584.8 873.1h0M630.9 786.6h0M519.5 719.4h0M619.4 849.2h0M630.4 773.1h0M610.9 790.4h0M567.2 909.2h0M646.3 846.1h0M702.2 778.7h0M661.4 819.9h0M580.2 898.6h0M567 898.2h0M631.4 832.5h0M563.5 894.4h0M577.7 903.2h0M647 826.2h0M630 839.7h0M532.7 740.2h0M689.8 753.6h0M707 768.6h0M719.2 769.7h0M673.8 819.2h0M585.4 886.7h0M673.7 776.2h0M635.9 747.8h0M642.2 745.4h0M575.6 722.4h0M648.4 839.3h0M650.1 745.9h0M608.1 884.1h0M683.5 776.7h0M666.1 791.4h0M677.8 778.4h0M573 907.3h0M699.2 775.9h0M668.9 790.2h0M688.6 761.9h0M696.2 797.7h0M569.3 915.3h0M609.3 841.3h0M664.3 808h0M558.3 897.1h0M459 712.7h0M583 903.2h0M612.7 773.6h0M619.3 856.4h0M560.5 727.1h0M716.3 760.9h0M626.1 805.1h0M684.2 750h0M597 867.4h0M589 857.4h0M629.9 735.3h0M606.4 900.9h0M591.5 903.8h0M565 845.6h0M571.6 723.3h0M694.2 745.9h0M660.9 765.6h0M625.7 740h0M574.3 876.2h0M639.5 806.3h0M661.8 785.5h0M580.2 871.2h0M664.7 780.2h0M582.8 867.7h0M610.2 879h0M657.6 757.9h0M696 811.9h0M652.3 825.7h0M657.8 800h0M562.4 900.3h0M686.8 803.2h0M636.9 740.9h0M687.9 787.5h0M708.9 759h0M603.4 872.7h0M670.7 784.4h0M584.4 905.6h0M579.3 840.6h0M726.8 755.9h0M571.6 907.1h0M638.4 757.7h0M615.4 857.6h0M683.1 815.2h0M552.2 901h0M549.4 892.6h0M685.5 785.7h0M656 810.2h0M627.6 812.5h0M667.6 774.8h0M690.2 789.3h0M703.1 783.6h0M707.7 755h0M737.1 759.3h0M645.6 792.2h0M675.3 794.1h0M582 913.7h0M671.1 775.5h0M555 891.8h0M688.2 793.9h0M671.1 760.2h0M585 878.5h0M605.6 869.1h0M713 766.7h0M559.5 901.3h0M605.2 857.5h0M598.6 899.5h0M702.1 760.7h0M689.9 795.1h0M660.8 782h0M675.9 820.3h0M703.6 753.5h0M519.4 771.5h0M584.2 837.9h0M645.1 775.5h0M635.5 821h0M690.6 785.5h0M674.4 778.1h0M596.3 844.2h0M609.8 747.5h0M644.9 811.9h0M608.1 733.5h0M591.9 875.9h0M594 889.4h0M592.7 726.5h0M702.1 799.2h0M634.5 835.2h0M580.8 881.8h0M610.7 898.7h0M578.8 867h0M695.9 774h0M650.4 830.4h0M596.1 887.1h0M638.1 857.3h0M693.5 786.5h0M665.9 760.8h0M580.6 879.8h0M599 856.9h0M633.9 858.2h0M654.6 798.4h0M647.6 801.2h0M647.6 835.1h0M626.5 840h0M685.5 776.4h0M715.3 783.7h0M555.5 914h0M553.7 747.1h0M672.5 778.8h0M559.6 894.2h0M711.6 785.9h0M591.5 879.5h0M636.6 777.6h0M657.1 853.4h0M599.8 738.4h0M591.8 911.6h0M574.3 888.2h0M598.1 920.7h0M623.8 861.1h0M660.8 836.5h0M602.8 844.8h0M598.8 881.2h0M653.3 787.7h0M673.4 739.6h0M664.7 822.3h0M658 843.4h0M666.9 767.1h0M656.4 790h0M618.9 731h0M687.3 781.1h0M653.7 839.3h0M617.8 825.5h0M569.1 747h0M580.7 883.9h0M596.6 739.9h0M561.7 875.8h0M469.2 746.4h0M681.5 745.5h0M551.3 740.2h0M624.1 801.7h0M704.4 781.6h0M599.5 876.3h0M578.4 872.7h0M687.9 823.7h0M649.7 805.8h0M674.2 795.2h0M676.9 791.9h0M630.9 836.1h0M648.5 748.8h0M634.2 836.2h0M682.8 767.9h0M708.8 797.2h0M693 787.8h0M690.7 779.3h0M631.8 822.5h0M579.8 897.3h0M614.7 860.5h0M646.4 804.7h0M710.2 769.3h0M647.3 849.6h0M580.8 887.9h0M578.3 885.3h0M630.5 853.3h0M682 790.3h0M597.8 894.7h0M611 837.8h0M659.4 745.2h0M562 887.3h0M697.1 781h0M582.8 906.1h0M656.9 823.4h0M651.3 735.4h0M619.1 766.5h0M709.1 776.7h0M426.6 708.7h0M630.9 860h0M640 776.5h0M631 834h0M720.6 794.8h0M510.2 754.9h0M653.2 753.1h0M575.4 902.4h0M628.3 805.2h0M657.5 810.8h0M607.7 855.4h0M666.1 806.3h0M586.1 860.5h0M663.5 799.9h0M617.8 728.2h0M700 799.7h0M581 910.2h0M668.6 760.6h0M561.7 730.4h0M551.9 873.9h0M634.3 828.2h0M674.9 752.4h0M603.7 761.1h0M677.1 757.7h0M628.1 779.5h0M571.9 894.4h0M648.2 821.6h0M627.5 732h0M595 746.8h0M597.7 881.8h0M569.4 898.2h0M674.6 743.5h0M630 754.9h0M688.2 760.1h0M661.7 822.9h0M630.4 825.4h0M591 908.2h0M648.2 841.1h0M598.3 867h0M731.3 762.4h0M553.6 894.3h0M703.6 770.8h0M668.6 750.7h0M600.5 860.6h0M682.5 794.9h0M683.8 802.3h0M580.2 920.7h0M571.4 895.6h0M639.7 811.7h0M651.9 871.5h0M636.8 849.4h0M696.6 753.7h0M690.8 776.4h0M711.4 792.5h0M636.9 841.3h0M670.3 827.8h0M581.7 884.1h0M690.5 778.3h0M603.2 835h0M583.7 886.6h0M688.5 766.4h0M621 741.6h0M604.1 844.5h0M633.6 861.4h0M728.6 765.7h0M639.9 835.6h0M589.1 881.7h0M653.2 830.5h0M663.6 809.3h0M567 907.6h0M646.3 782.6h0M633.3 744.3h0M588.9 877.2h0M660.1 768h0M553.3 908.9h0M634.2 845h0M667.7 812.7h0M701.1 778.9h0M538.6 717.5h0M675.1 815.3h0M676.5 801.2h0M682.4 746.4h0M661.3 798.1h0M669.9 843.3h0M679 779.3h0M631.9 821h0M595.9 898h0M619.6 885.1h0M593.2 856.3h0M708.7 766.2h0M623 763.6h0M723.2 770.2h0M649.2 817.7h0M544.6 887.2h0M548.5 906.1h0M732.5 756.9h0M692.1 771.6h0M643.6 842.3h0M619.9 829.5h0M596.5 888.2h0M594.2 843.6h0M611.9 887h0M593.6 901.7h0M573.2 869.6h0M705.9 758.2h0M601.3 867.1h0M608 859.5h0M624.5 869.3h0M622.6 809.4h0M581.7 915h0M566.1 906.7h0M644.7 737h0M703.3 764.3h0M726.8 768.8h0M655.9 741.9h0M596.7 760.9h0M611.3 842.3h0M615 863h0M575.2 738.9h0M626.5 766.8h0M647.9 803.5h0M726.7 780.6h0M626.4 734.1h0M719.3 779.4h0M645.7 740.4h0M699.1 757.5h0M598.2 903.2h0M637.7 739.1h0M666.8 748.5h0M648.8 747.7h0M566.6 899.7h0M686.1 790.6h0M588.9 910.2h0M637.6 802.8h0M684.5 786.9h0M723.9 765.2h0M632.4 827.2h0M589.1 900.5h0M626.6 813.7h0M688.3 775.6h0M620.2 731.3h0M588.3 759h0M560.9 874h0M570.7 868.2h0M631.1 866.3h0M506.5 721h0M663.9 762.9h0M556.7 885h0M655.3 832.1h0M608.1 837.8h0M628.8 839.2h0M697.9 792.5h0M658.7 845.5h0M659.9 766.8h0M675.8 774.9h0M574.8 829.4h0M719.9 772.9h0M598.6 855.6h0M694.5 774.6h0M701.1 780.1h0M625.9 855.6h0M585.5 900.5h0M571.6 733.4h0M719.3 785.6h0M628.1 857.3h0M585.3 730.1h0M693.4 777h0M605.1 905.8h0M624.7 845.8h0M557.3 889.6h0M670.4 758.9h0M604.9 846.8h0M647 761.7h0M646.4 756.2h0M586.9 888.7h0M683.5 819.4h0M600.8 868.1h0M608.7 871.4h0M713.9 752.2h0M628.7 775.2h0M616.3 879.5h0M547 905.8h0M713.3 779.6h0M665.4 751.6h0M590.3 917.6h0M680.6 815.4h0M547 897.6h0M593.7 725.9h0M554.4 893.5h0M667.3 780.3h0M663.4 824.2h0M725.9 762.7h0M631.9 746h0M578.7 916.8h0M648.8 814.9h0M575.9 730.3h0M703.4 751.3h0M669.2 758.8h0M493.5 747.8h0M692.5 770h0M583.7 882.9h0M644.4 832.9h0M634.5 842.9h0M595.1 865h0M650.5 797.9h0M649.7 773.9h0M648.1 774.1h0M598.2 896.6h0M686.5 769h0M562.5 873.9h0M603.8 856.8h0M705.7 781.4h0M580.2 894.2h0M678.4 806.7h0M642.9 838.9h0M667.5 809.9h0M628 828.3h0M572.6 896.8h0M575.6 882.1h0M681.7 752.2h0M600.6 887h0M708.3 793.5h0M662.9 750.9h0M688.2 744.7h0M647.2 836.1h0M587.3 732.7h0M617 792.3h0M593.1 782.4h0M692 767.1h0M558.5 879.4h0M634.9 824.1h0M651.5 813.6h0M580.4 907.6h0M574 727.6h0M643.2 815.1h0M698.3 777.2h0M593.3 905.5h0M693.1 803h0M553.2 911.5h0M531.5 719h0M671.5 817.4h0M651.8 851.9h0M655.4 807.5h0M717.2 770.1h0M588.1 865.8h0M629.6 789.3h0M613.1 899.8h0M643.2 748.1h0M702.7 773.6h0M552.3 882h0M615.1 890.6h0M663.5 846.5h0M655.7 841.9h0M651.7 840h0M570.9 890.5h0M682.9 827.8h0M571 903.4h0M568.4 736.2h0M612.1 777.1h0M671.9 790.9h0M603.2 769.6h0M629.6 733.7h0M678.9 803.3h0M685.8 778.5h0M556.9 901.7h0M579.3 873.3h0M700.8 754.7h0M634.1 794.1h0M539.9 816.3h0M631.1 838.6h0M590 890.3h0M678.3 751.8h0M632.5 772.2h0M675 761h0M670.7 809.5h0M550.4 878.6h0M655.3 764.6h0M694.9 806h0M564.5 743.6h0M569.8 903.9h0M727.3 760.3h0M690.9 782.6h0M607.6 872.1h0M674 766.4h0M651.7 818.3h0M668.2 754.9h0M565.4 889.9h0M709.7 748.8h0M648 856.5h0M611.7 814.5h0M662.5 793.5h0M628.7 875.1h0M617 745.9h0M582.3 862.9h0M657.3 807h0M670.6 745.1h0M709.2 783.1h0M718.3 759.8h0M621.6 755.7h0M604 893.2h0M630.2 826.6h0M607.8 735.2h0M669.8 814.9h0M638.4 801.7h0M672.8 805.4h0M559.8 775.4h0M609.2 880.4h0M637.8 807h0M622.4 848h0M626.2 841.3h0M730.3 777h0M690.4 797.8h0M589.3 849.4h0M666.4 754.3h0M683.1 824.1h0M621 879.5h0M580.3 793.9h0M598 888.7h0M560.2 919h0M612.4 858.1h0M684.9 796.2h0M637.2 733h0M572.2 865.5h0M628.2 743.5h0M625.8 858.9h0M670.7 743.1h0M610 858.8h0M681.6 739.8h0M709.5 747.7h0M642.2 770.3h0M553.5 727.8h0M661.8 756.5h0M634.2 808.4h0M565.2 901.1h0M637.8 830.9h0M684.2 812.4h0M581.6 893.7h0M577.1 888.5h0M693.8 776h0M692 765h0M674.1 801.5h0M619.2 753.8h0M649.7 789.1h0M689.1 746.2h0M564.6 881.5h0M602.4 847h0M691.1 760.5h0M611.8 867.9h0M549.6 908.2h0M690.2 811.4h0M679.1 804.9h0M703.1 788.1h0M667.4 764.7h0M603.4 862.6h0M611.3 864.3h0M633.3 824.8h0M636.4 862.9h0M693.4 791.6h0M625.4 770h0M646.1 838.7h0M698.6 791.2h0M707.8 770.2h0M705.7 767h0M654.7 785.1h0M674.6 812h0M613.9 884.7h0M737.2 768.2h0M681.4 774.4h0M555.5 884.6h0M668.8 775.9h0M669.1 818.3h0M657.3 787.5h0M693 772.9h0M644.4 843.8h0M694 758.4h0M699.9 752h0M665.3 764.9h0M597.3 869.3h0M604.3 882.1h0M659.4 756.4h0M604.4 874.7h0M740.7 758h0M618.5 838.8h0M550.2 748.1h0M567.5 872h0M675.4 797.6h0M648.6 777.7h0M707.9 761.2h0M653.9 793.8h0M624.7 852.4h0M574.6 723.9h0M619.8 825.3h0M571.9 897.9h0M579.9 909h0M589.3 855.3h0M579.1 898.9h0M530.5 731.4h0M696.7 792.6h0M594.3 874.7h0M722 763.6h0M625.8 809.6h0M649.1 755.7h0M612.6 820.8h0M610.9 743.6h0M650.2 753.4h0M629 865.4h0M624.9 854.8h0M629.2 843.9h0M706.1 762.8h0M684.7 810.3h0M612.9 873.4h0M675.6 803.1h0M688.1 821.8h0M614.1 804.1h0M587.6 884.2h0M691.2 793.3h0M579.7 915.4h0M614 783.3h0M661 778.1h0M646.8 843h0M696.7 769h0M682.8 778.2h0M588.2 793.8h0M606.6 873h0M588.2 895.7h0M497.4 712.1h0M609.9 874.1h0M660.7 764.3h0M673.1 847.6h0M621.2 837.8h0M617.3 732.5h0M656.5 835.1h0M606.1 788h0M728.2 762h0M625.5 822h0M661.7 745.7h0M643.5 833.4h0M588.6 891.1h0M605.3 826h0M685.3 788.6h0M698.8 801.3h0M695.5 782.3h0M587.2 868.7h0M546.8 719.6h0M580.8 840.3h0M616.5 854.3h0M680 818.3h0M648.4 808.8h0M679.1 753.7h0M585.6 880h0M628.3 837.8h0M643.4 821.9h0M636.9 823.5h0M561.2 733.8h0M717.9 752.2h0M521.7 712.5h0M653.5 815h0M673.9 798.4h0M647.1 828.7h0M698.1 786.6h0M576 886.1h0M535.7 721h0M576.1 889.2h0M623.4 813.6h0M624.4 858.1h0M598.8 887.4h0M644.5 741.3h0M588 917.1h0M590.5 861h0M619.9 871.2h0M632.1 868.3h0M691.7 755.4h0M476.4 718.6h0M714.9 770.1h0M532.7 731.7h0M579 808.1h0M706 773h0M687.5 772.4h0M692.2 801.6h0M713.5 755.2h0M670.6 838.7h0M596.6 908.4h0M665.8 774.1h0M632.7 858.6h0M704.7 783.6h0M600.7 841.9h0M677.6 804.8h0M687.4 756.8h0M599.5 866.7h0M581.2 878.1h0M729.5 760.6h0M661.9 828.6h0M608.1 875h0M551.7 911.4h0M561.7 892.1h0M742.4 770.9h0M671.1 777.6h0M631.7 754h0M610.2 733h0M537.7 903.6h0M564.6 905.6h0M604.9 865.1h0M731.8 765.8h0M558.4 905.7h0M571.9 874.7h0M632.7 841.8h0M632.7 838.5h0M616.9 824.3h0M658.5 791.7h0M590.1 864.9h0M652.8 835h0M672.4 787.3h0M626.1 849.9h0M613.3 857.2h0M568 905.9h0M555.5 909.3h0M713.4 789.6h0M642.1 835.8h0M592.8 841.4h0M573.2 918.3h0M616.3 883.5h0M731.2 776.2h0M616.9 870.5h0M691.4 753h0M629.6 817.7h0M520.2 716h0M591.1 750.5h0M606.9 745.1h0M639.5 735h0M599.7 867.8h0M670.8 831.9h0M451.9 733.8h0M520.5 763h0M576.9 899.7h0M695.8 763.4h0M623.5 747.1h0M623.6 849.6h0M588 894.6h0M649.7 825.7h0M585.9 897.9h0M635.5 762.4h0M584.4 774.9h0M662.8 784.4h0M639.4 823.2h0M675.5 753.3h0M730.4 753.7h0M718.1 775h0M668.5 798.2h0M680.4 800.8h0M485 731.1h0M527.2 781h0M698.7 778.5h0M601 880h0M598.1 781.8h0M679.8 772h0M687.3 753.8h0M613.2 747.4h0M693.7 793.8h0M698.5 788.9h0M587.2 857.4h0M617.3 857.8h0M618.6 859.6h0M669.8 789.2h0M649.4 813h0M602.4 732.6h0M706.3 770.9h0M560.2 896.5h0M664.4 787.9h0M583.9 898.7h0M560.9 767.7h0M611.3 822.6h0M528.7 715.2h0M552.1 892.8h0M668.4 779.7h0M686.8 797.1h0M683.7 804.4h0M567.4 926h0M607.3 835.7h0M572.2 883.4h0M625.9 819h0M566.5 885.9h0M704.1 796.9h0M649.1 735.1h0M577 896.1h0M530.6 735.5h0M582.8 883.8h0M712.6 783.5h0M620.5 867.4h0M631.7 801.6h0M697.3 799h0M565 915.8h0M713.8 765.1h0M594.6 731.2h0M584.7 918.1h0M582.7 852.4h0M612.1 816.2h0M705.2 796.6h0M653.4 842.9h0M611.7 871.1h0M694 751.3h0M583.5 745.4h0M636.6 846.2h0M572.4 882.2h0M591.6 890.8h0M610.6 750.8h0M709.9 772.6h0M678.1 777.1h0M647.6 824h0M619.6 838.3h0M603.4 753.4h0M574.4 870.3h0M637.5 792h0M618.7 850.4h0M612.7 853.5h0M552.8 780.7h0M511 724.4h0M448.8 730.1h0M707.3 785.2h0M575.2 909.5h0M628.1 747.6h0M572.2 892.9h0M660 801.4h0M644 818.9h0M627.8 861.7h0M681.3 784.2h0M687.9 769.1h0M606 770.2h0M555.7 865h0M721.3 750.9h0M653.8 783.8h0M647.8 743h0M692.5 763.6h0M660.4 818.6h0M653.2 814.1h0M588 875.5h0M704.9 764.3h0M699 800.3h0M680.2 774h0M595.7 727.4h0M556.3 741.5h0M676.2 779.5h0M576.4 870h0M684.3 742.5h0M711.7 765.6h0M645 848.5h0M658.8 824h0M653.9 747.3h0M564.9 911.8h0M667.7 805.5h0M623.1 853.2h0M633.1 738.6h0M622.7 740.6h0M652.7 750.4h0M622.3 883.3h0M560.8 906h0M691.6 803.3h0M596.4 793.4h0M602.1 850.8h0M538.9 715h0M598.9 861.1h0M587.3 756.7h0M672.1 763.5h0M545.4 744.3h0M668.3 787.7h0M689.4 757h0M641 813.7h0M672.7 743.4h0M569.8 922.5h0M618.7 883.2h0M626.4 833.6h0M604.8 871.1h0M586.2 906h0M631.7 844.8h0M658.3 818.8h0M677.9 784.4h0M692.4 761h0M536.6 890.4h0M640.9 806.9h0M616.4 756.9h0M610 865.1h0M677.3 807.3h0M669 762.7h0M633.8 826h0M654.2 819.7h0M666.8 805h0M519.4 733.6h0M546.3 886.3h0M655.7 833.9h0M567.3 846.1h0M694.4 779.1h0M607 860.1h0M668.2 795.2h0M545.9 901.7h0M646.3 820h0M679.6 797.3h0M621.8 855.8h0M610.6 872.8h0M609.2 863.2h0M714.7 761.4h0M601.1 864.1h0M664.6 811.9h0M550.5 906.8h0M710.9 748.1h0M635.2 850.9h0M704.5 765.6h0M701.8 776.6h0M671.9 795.3h0M590.4 783.4h0M575.3 891.3h0M559.7 876h0M730 749.8h0M710.7 750.3h0M627.3 870.5h0M554.1 877h0M654.3 749.8h0M614 847.6h0M628.2 872.8h0M623.7 887.5h0M641.8 826.7h0M555.9 899.8h0M701.7 753.6h0M731.9 752.9h0M677.5 761.8h0M641.1 828.4h0M629.2 847.2h0M665.7 797.3h0M642.3 855.5h0M641.4 794.7h0M710.6 773.7h0M674 744.7h0M584.2 881.7h0M667.7 791.8h0M652.3 745.2h0M675.8 762.1h0M576.8 720.2h0M563.6 877h0M640.6 761.7h0M651.4 751h0M598.6 774h0M601.5 865.9h0M674 809h0M584 907.2h0M660.7 803.7h0M656.2 791.5h0M571.9 823.5h0M598.7 882.3h0M642.9 841.5h0M644.4 756.1h0M566.2 892.1h0M593.6 853.1h0M562 752.9h0M606 862h0M558.4 918.8h0M496.6 725.6h0M549.1 903.3h0M634.2 745h0M649.8 736.6h0M585.1 917h0M558 830h0M658.6 836h0M595.9 875.1h0M679 746.6h0M558.6 862.8h0M699.7 755.1h0M594.5 898.8h0M604 880h0M715.3 779.7h0M551.7 820.5h0M423.5 708.7h0M691.5 768h0M586 777.5h0M562 889.3h0M641.5 739.4h0M566.4 724.3h0M583.3 866.1h0M570.8 884.8h0M724.6 753.9h0M638.1 846.1h0M631.6 788.8h0M674.9 786.6h0M609 732.7h0M522.9 802.4h0M639.7 848.9h0M554 904.3h0M566.2 842.9h0M642.3 740.1h0M577.9 855.5h0M650.3 741.6h0M679.9 743.4h0M573.1 730.2h0M543.1 884.8h0M574.3 848.3h0M584 870.3h0M641.2 783h0M654.4 818.7h0M674.2 764.4h0M609.8 881.4h0M621.5 828.4h0M593.3 867.5h0M669.4 788.2h0M573.2 727h0M687.2 746.8h0M616.2 790.2h0M643.5 857.9h0M554.1 912.3h0M655.1 761.9h0M665.5 756.4h0M610 824.6h0M689.7 782.2h0M671 787.3h0M587.1 886.2h0M618 751.3h0M590.1 904.2h0M701.3 772.1h0M545.7 894.2h0M655.5 816.5h0M625.5 824.9h0M703.4 760.5h0M665.6 768.5h0M596.9 883.6h0M649.9 763.5h0M628 853.8h0M604.2 892h0M623.5 829.9h0M633.3 865.3h0M576.6 869h0M696.8 762.4h0M599.4 768.5h0M689.3 791.1h0M513.5 730.5h0M610.2 775.1h0M630 850.7h0M561.1 909.7h0M640.2 799.1h0M624.8 831.6h0M650.5 804.7h0M679.7 764.3h0M627.2 865.6h0M677.1 805.9h0M638.9 817.6h0M623.6 868.5h0M587.7 877.2h0M617.8 893h0M691.8 744.8h0M721.2 777.2h0M650.4 802.7h0M568.7 884.4h0M726.1 769.6h0M721.1 761h0M610.1 844.5h0M662.6 805.6h0M715.9 750.8h0M605 877h0M646.4 840.6h0M602.6 868.3h0M662.2 811.1h0M565 904.7h0M637.7 815.5h0M622.8 833.8h0M634.2 837.3h0M540.5 897.9h0M627.5 842h0M683.1 807.7h0M618 755.6h0M529.4 747.3h0M550.5 861.2h0M701.7 773.4h0M551.2 893.3h0M698.1 775.3h0M652.5 740.7h0M695.3 766.8h0M656.4 807.7h0M619.9 817.7h0M600.3 904h0M722.9 751.7h0M540.7 888.9h0M599.5 758.9h0M669.1 811.9h0M593.6 892.8h0M592.3 858.7h0M564.8 820h0M657.7 817.5h0M617.1 874.5h0M658.5 815.3h0M714.7 759.9h0M547.5 838.9h0M724.4 768.6h0M650.8 819.9h0M687.4 750.8h0M642.8 736.6h0M691.1 754.4h0M657.7 744.9h0M597.7 911.8h0M742 763.9h0M671.4 740.6h0M649 802h0M589.3 895.1h0M691.8 819h0M598.1 891.7h0M560.5 893.1h0M559.9 877.4h0M667.7 765.9h0M688.8 779.2h0M562.7 869.2h0M658.2 803h0M631.7 843.1h0M569.6 751.6h0M620.2 736.1h0M684.7 792.4h0M608.5 835h0M655.5 786.5h0M612 775.3h0M639.3 858.1h0M713.9 763.1h0M711.5 795.2h0M592.3 888.8h0M683.8 786h0M658.8 822.6h0M673.7 774.2h0M641.9 735.7h0M563.3 892.7h0M599.1 761.9h0M527.5 745.2h0M575 879h0M608.3 899.5h0M574.1 864.2h0M549.1 901.2h0M623.4 858.4h0M668.1 778.3h0M629.8 859.7h0M550.7 890.1h0M557.5 716h0M708.2 801.5h0M590.7 870.1h0M571.3 909h0M717.9 765.1h0M574.6 733h0M623.6 828.8h0M583.8 852.1h0M576.4 880.2h0M566.6 896.4h0M619.6 839.5h0M606.7 877.1h0M735.8 761h0M659.1 759.6h0M643.3 739.4h0M616.7 730.4h0M661 821.3h0M677.2 825.2h0M578.6 887.2h0M563.3 742.6h0M574.4 785.1h0M581.8 904.9h0M646.1 859.8h0M686.2 788h0M631.6 740.4h0M634.3 862.1h0M709.1 754.4h0M615.2 866.6h0M576 883.2h0M692.9 774.4h0M583 872.8h0M614.4 771.7h0M648 852.8h0M670.1 757.1h0M681.9 809.2h0M596.8 745h0M667.1 760.4h0M677.2 764.8h0M713.5 775h0M611.6 849.9h0M691.2 770.6h0M587.9 908.8h0M638.2 828.5h0M676.2 751.7h0M636.5 814.8h0M602 879h0M685.9 744.7h0M563.6 904.7h0M676.6 795.2h0M509.1 714.3h0M625 820.6h0M588.4 903.1h0M674.9 819.6h0M633.4 842.6h0M640.3 794.5h0M639.6 856.6h0M557.3 892.1h0M659.7 779.1h0M613.5 845.9h0M663 802.4h0M657.5 762.3h0M627.5 875h0M604.4 737.6h0M661.2 766.6h0M608.5 848.9h0M729 757.4h0M736.9 772h0M661.8 790.6h0M610.2 789.3h0M640.5 771.5h0M567.1 784.7h0M689.2 808.8h0M643.5 837.7h0M660 777h0M699.9 778.9h0M597.3 794.9h0M661.1 796.1h0M588.5 742.6h0M600.9 906.7h0M659.7 797.4h0M597.1 751.3h0M682.3 792.5h0M573.6 896.4h0M601 896.3h0M570.2 892.9h0M556.1 896.5h0M598.1 848.8h0M567.9 910.9h0M680.5 804.5h0M573 909.6h0M557 764.9h0M623.6 863.8h0M694.6 787.1h0M648.1 813.4h0M720.2 763.1h0M550.4 914.8h0M659.1 799.8h0M639.1 810.8h0M658.1 793.4h0M513.7 714.8h0M617.2 851.2h0M650 848.1h0M657.4 831.5h0M514 770.4h0M571.6 719.3h0M576.3 898.3h0M697.8 796.8h0M660.4 802.7h0M661 773.3h0M687.7 780.2h0M687.8 792.3h0M677 746.3h0M568.7 727.7h0M716.5 756.1h0M650.9 816.6h0M564.2 908.3h0M643.4 843.7h0M642.9 808.7h0M587.4 920.3h0M676.8 741.9h0M658.8 805.4h0M623.9 780.4h0M635.2 731.9h0M601.9 872.4h0M524.9 775.2h0M606.7 893.3h0M622.1 864.9h0M676.5 768.8h0M678.4 757.7h0M556 751.8h0M676.6 799.5h0M644.8 825.5h0M622.2 795.1h0M478.2 744.2h0M561.4 778.6h0M659.9 752.6h0M559.5 904.6h0M605.7 878.8h0M566.2 914.8h0M594 827.8h0M685.7 787.1h0M671.2 780.7h0M628.5 833.7h0M632.8 809.2h0M545.1 922.9h0M669.4 803h0M677.9 835.8h0M647.3 810.6h0M566.3 767h0M583.5 854.6h0M617.4 863.4h0M610.8 884h0M651.5 803.6h0M607 853.5h0M545.9 903.5h0M702.3 806.3h0M571.4 892.1h0M491.4 711.7h0M663.8 782.1h0M701.9 759h0M581.3 885.3h0M679.5 771h0M637 741.9h0M698.4 812.2h0M507.3 790.5h0M658.3 754.1h0M616.8 742.3h0M664.1 828.6h0M616.4 731.8h0M727.8 780.9h0M602.2 741.2h0M654.7 829.9h0M695.5 810.4h0M578.6 893.6h0M670.5 805.4h0M636.1 830.4h0M556.2 916.2h0M661.1 856.2h0M577.5 890.6h0M662.9 815.7h0M552 922h0M547.3 894.5h0M686.3 789.6h0M583.5 915.3h0M635 779.7h0M568.4 880.1h0M663.6 796.2h0M625 886.4h0M638.9 804.4h0M708.2 748.9h0M667.3 738.4h0M590.2 731h0M607 747.7h0M656 818h0M560.2 886.7h0M698.3 805.7h0M618.5 812h0M656.3 735.7h0M577.3 848.1h0M668.1 806.9h0M592.5 849.2h0M682.7 803.7h0M639.3 815.3h0M572.5 911h0M618 793.9h0M571.7 889.6h0M565.1 891.3h0M636.3 749.6h0M656.2 771h0M673.4 824.4h0M561.3 719.8h0M627.5 833.5h0M610.9 858.3h0M699.7 768.8h0M580.7 754.1h0M646.9 856.5h0M669.9 746.7h0M699.5 779.9h0M591.4 897.9h0M654 832.4h0M575.6 873.3h0M628.5 822.5h0M675.5 757.8h0M684.7 769.2h0M685.7 797.4h0M674.1 759.8h0M553.1 903.2h0M647.6 797.7h0M659.9 848.2h0M596 854.5h0M540.1 727h0M640.7 778.4h0M674.7 784.5h0M708.1 775.7h0M679.8 750.7h0M566.5 738.8h0M672.8 750.3h0M694.6 764.8h0M618.7 778.3h0M585.9 888.2h0M598.2 862.8h0M719.4 767.9h0M607.8 778.2h0M574.1 878.4h0M560.6 921.4h0M587.7 914.9h0M656.3 845h0M525.8 717.2h0M598.5 738.6h0M622.6 817.6h0M575 905.2h0M651.2 835.4h0M558.3 822.1h0M672.1 776.4h0M694.7 777.9h0M553.4 897.2h0M585.1 889.7h0M613.4 849.6h0M675.3 792.8h0M696.5 765.9h0M553.9 719.8h0M701.4 767.8h0M700.1 760.1h0M697.7 762h0M606.5 912h0M613.4 894.6h0M570.3 925.9h0M608.6 850.5h0M569.5 725.1h0M498.8 745.4h0M674.5 834.4h0M687.6 790.7h0M613.8 871.3h0M632.5 735.2h0M674.2 813.8h0M601.3 909.8h0M688.3 771.1h0M697.8 761h0M615.3 745.8h0M679.9 811.1h0M653.9 810.9h0M597.7 842.5h0M465.8 741h0M603.2 852.5h0M698.3 798h0M545.2 909.1h0M590 867.1h0M598.6 751.2h0M567.5 726.3h0M594 873.1h0M651.4 752.1h0M621 770.1h0M553.6 918.7h0M611.9 896.7h0M643.5 765.7h0M699 748.2h0M620.5 819.2h0M578.2 902.3h0M666.2 833.7h0M669.6 784.3h0M609.9 731.3h0M685.6 812.1h0M558.6 886.4h0M585.4 799h0M702.3 762.5h0M684.3 767.7h0M654.8 806.6h0M612.1 839h0M557.2 894.5h0M722.7 754.4h0M562.5 913.9h0M631.1 846.6h0M574 862.7h0M491.8 728.8h0M577.4 730.4h0M690.7 764.6h0M620.1 883.7h0M654.6 804h0M618.4 861.3h0M604.6 738.9h0M622.1 839.8h0M655 782.2h0M693 768h0M635.6 842.5h0M747.8 756.8h0M517.6 796.5h0M592.6 869.5h0M556.4 906.4h0M576.1 893.8h0M585.9 867h0M666.1 809.5h0M671.7 805.6h0M618 895.7h0M562.9 731.4h0M607.3 771.5h0M602.5 875.1h0M715.1 754.3h0M661.5 824.1h0M559.8 881.9h0M681.1 769h0M645.9 763.5h0M576.2 843.1h0M568.8 867h0M623.9 895.7h0M637.4 793h0M620.9 825.2h0M704.3 760.1h0M582.6 882.5h0M598.6 863.9h0M647.3 839.9h0M638.2 826.5h0M589 886.9h0M718.4 781.1h0M643.6 828.1h0M699.8 792.2h0M580.7 873.4h0M606.2 841.8h0M596.1 879.2h0M680.5 765.8h0M524 719.1h0M614.9 851.3h0M663.6 826.7h0M634 786.4h0M696.1 778.3h0M597.7 726.7h0M557.4 914.9h0M587.2 912.6h0M682.7 796.8h0M566.3 904.6h0M694 747.1h0M720.1 767.1h0M681.9 760.1h0M674.3 788.1h0M682.9 784.9h0M600.3 877.4h0M628.7 820.3h0M684.3 820.5h0M699.1 749.6h0M673.3 817.4h0M482.9 718.6h0M673.1 790.5h0M684.7 771.1h0M687.4 747.8h0M618.8 841.7h0M581.6 765.6h0M611.3 856.4h0M678.4 744.8h0M606.4 863.5h0M616 858.6h0M671.8 811.2h0M676.5 818.1h0M541.3 741.6h0M602.5 882.4h0M568.6 921h0M562.8 906h0M669.6 741.6h0M629.5 853.8h0M574.4 868.6h0M681.2 789.3h0M588.9 906.1h0M565.3 908.3h0M585.8 901.5h0M589.8 753.6h0M675.1 780.2h0M703 750.3h0M584.8 731.4h0M610 847.4h0M711 759.9h0M648.4 861.5h0M686.3 780.6h0M609.8 729.7h0M595.7 859.8h0M645.8 817.7h0M667.2 793.7h0M599.7 891.9h0M738.6 758.8h0M701.4 792.8h0M681.7 777.9h0M670.9 798.5h0M530 720.5h0M580.1 861.4h0M692.6 748.6h0M652.3 776.6h0M600.4 857.5h0M618.4 847.2h0M572.6 915h0M677.8 774.2h0M614.2 728.1h0M628.7 830h0M636.1 810.8h0M569 887.3h0M603.7 837.5h0M620.9 865.9h0M606.3 839.7h0M588.1 882.5h0M631.8 809h0M601.8 751.7h0M690.1 751.9h0M580.9 858.4h0M555.9 895.1h0M573.6 903.7h0M726.4 750.4h0M709.3 761.2h0M594.4 870.9h0M602.8 834h0M624.8 730.8h0M650.1 858.9h0M640.5 842h0M583.3 896h0M595.6 757.4h0M670.5 839.8h0M604.7 759.7h0M662.5 842.5h0M661 813.1h0M599.5 844.4h0M633 805.6h0M716.4 749h0M668.6 831.7h0M596.3 830.1h0M711.3 770.4h0M615.6 738.7h0M575 918.4h0M671.9 746.1h0M608 841.4h0M651.3 781.5h0M650.1 823.9h0M660.5 769.1h0M588.5 911.7h0M505.6 727.6h0M609.2 737.7h0M637.1 813.1h0M675.8 756.5h0M646.5 743.1h0M613.6 860.2h0M701.8 796.2h0M667.5 820.3h0M677.9 749.3h0M615.4 854.2h0M614.3 858.1h0M656 772.9h0M542.8 894h0M640.5 826.7h0M687.7 777.2h0M678 742h0M573.9 902.8h0M650 785.7h0M645 758.9h0M612.2 825.6h0M609.2 807.4h0M646 770.2h0M634.5 751.4h0M661.1 839.9h0M698 747.5h0M689.4 774.4h0M625.7 873.2h0M650.1 771.7h0M618.5 774.6h0M706.9 761.8h0M674.9 825.2h0M669.7 764.7h0M604.7 884.1h0M601.6 897.8h0M597.1 814.6h0M670.2 779.8h0M585.9 883h0M686.3 753.3h0M677.7 819.4h0M707.8 772.5h0M680.8 828.2h0M689.3 821.7h0M608.4 877.3h0M609.3 748.4h0M645.3 835.6h0M576.2 887.9h0M634.8 877.8h0M633.1 839.5h0M669.9 778.6h0M572 784.2h0M664.3 773.6h0M495.7 715.6h0M640.4 839.9h0M570.3 747.7h0M604 855.7h0M637.2 824.6h0M602.6 912.9h0M687.3 761.3h0M589.2 871.2h0M604.9 829.4h0M581.9 879.7h0M645.8 778.3h0M642.8 860.2h0M659.5 815.6h0M684.7 781.7h0M638.1 782.3h0M595.8 756.3h0M528.7 712.7h0M577.7 868.4h0M604 889.8h0M640.8 737.3h0M571.9 886.9h0M660.2 816.9h0M659 776.9h0M537.4 721.1h0M628 769.3h0M581.5 867.7h0M681.1 796.5h0M538 926.8h0M580.5 727.9h0M664.4 742.9h0M664.3 821.2h0M508.3 763.7h0M609 852.1h0M629 845.1h0M665.9 741.2h0M476.1 761.6h0M643.8 808.2h0M609.7 740h0M507.3 713.5h0M579.4 878.9h0M670.5 806.8h0M679.5 815.7h0M555.7 890.4h0M636.3 772.3h0M709.5 780.2h0M532.8 766.3h0M675.4 741.8h0M679.6 795.2h0M645.7 800.1h0M686.7 806.6h0M708.9 762.6h0M676.4 766.4h0M709 752.9h0M629.2 828.8h0M640.6 753.6h0M597.6 914h0M693.4 764.4h0M634.6 810.7h0M592.9 883h0M675.1 813h0M641.7 833.8h0M659.9 761.2h0M698.2 748.8h0M555.8 716.7h0M634.8 758.9h0M570.4 887.1h0M611.5 862.4h0M602.7 735.4h0M590 858.1h0M596.6 906.5h0M550.7 917.2h0M622.6 828.2h0M623.1 755.1h0M684.6 763.7h0M660.6 833.7h0M602.9 750.8h0M585.8 875.9h0M705.4 776.9h0M647.2 783.5h0M717.2 751.5h0M695 794.1h0M611.9 892.8h0M564.1 869.9h0M657 812.2h0M656.3 777.5h0M614.5 876.7h0M565.6 881h0M712 768.3h0M620.6 849.2h0M636.4 737.2h0M695.3 753h0M609.7 831.1h0M535.5 730.5h0M568 889.3h0M658.6 813.4h0M534.4 733.5h0M602.7 900.7h0M638.3 823.1h0M582.9 722.4h0M604.6 762.1h0M700.1 765.6h0M600 744.7h0M657.6 748.4h0M666.7 778.7h0M671.4 744.4h0M701.4 764.1h0M608.5 858.6h0M561 889h0M647.1 816.3h0M698.9 783.3h0M670.4 773.9h0M618.8 828.5h0M488.3 717.1h0M683.8 745.9h0M604.1 841.9h0M623.6 846.9h0M607.8 893.9h0M614.5 903.9h0M607.8 863.1h0M716.6 764.8h0M618.3 789.2h0M700.8 791.9h0M595.7 915.5h0M589 864.4h0M712.5 758.5h0M583.1 891.6h0M499.5 746.7h0M643.8 831.8h0M669.7 828.8h0M718.6 768.7h0M630.8 849.1h0M704.7 758h0M577.1 894.3h0M625.5 838.5h0M563.6 891.6h0M558.5 913.6h0M703.2 776.8h0M683.2 773.5h0M673.7 789.7h0M602.8 825.7h0M724.2 756.5h0M661.6 762.8h0M646.1 829.1h0M684.3 803.5h0M635.9 818.8h0M595.8 754.5h0M666.2 800.7h0M544.6 897.6h0M592.3 886h0M620 739.7h0M590.3 746.6h0M585.3 871.9h0M637.9 755.8h0M587.1 736.8h0M685 784.5h0M660.4 759.7h0M606.8 824.8h0M666.7 789.3h0M589.3 897h0M684.2 794.8h0M604.3 887.5h0M605.9 874.3h0M717.6 762.5h0M592.5 884.2h0M653.8 791h0M472.6 713.8h0M630.6 843.8h0M708.7 768.9h0M658.6 809h0M629.5 761.2h0M655.1 769.3h0M568.4 925.8h0M618.7 864.4h0M689.3 776.4h0M666.8 763h0M631.6 841.1h0M664.2 746.5h0M715.5 753h0M615.3 773.1h0M683 810.5h0M637.9 820.2h0M661.2 758.9h0M706.7 776.4h0M688.7 810.7h0M660.6 809.2h0M656.6 782h0M642.5 863.2h0M509.2 711.4h0M745.9 760.9h0M634.2 739.5h0M560.2 888.4h0M675.3 777.1h0M604.1 794.4h0M664.7 775.1h0M590.8 769.4h0M597.9 730.6h0M540.7 891.7h0M607.9 885.4h0M559.4 737.1h0M629 813.2h0M567.8 861.1h0M508 735.3h0M725.7 783.4h0M587.8 752.1h0M685.2 774.8h0M596.7 892.8h0M539.7 913.7h0M566.4 875.5h0M683.8 809.1h0M725.4 755.7h0M639.4 813.1h0M554.3 888h0M704.6 750.5h0M572.3 876h0M594.3 855.6h0M631.4 775.5h0M700.5 795.5h0M582.2 896.7h0M554.4 773.7h0M480.6 713h0M617.8 730h0M693.6 811.6h0M722.2 771.4h0M596 734.6h0M677.2 786.4h0M657.5 855.5h0M578.6 879.7h0M697.2 754.7h0M722.6 760.3h0M595.7 877.7h0M589.5 898.5h0M579.4 845.8h0M662.2 846.8h0M680.3 782.1h0M593.5 747.5h0M679.2 789.4h0M564.6 725.9h0M652.4 743.4h0M579.2 858h0M644.1 854.4h0M619.3 761.9h0M604.1 901.5h0M633.1 806.7h0M679 761h0M539.7 766.7h0M704.3 792.2h0M681.3 757.6h0M549.4 888.6h0M550.1 883.6h0M550.4 731.8h0M586 769h0M616.2 728h0M604.3 869.1h0M687 748.9h0M556.8 722h0M626.1 868.8h0M582.4 917.1h0M662.7 767.1h0M668.3 770.9h0M571.7 880.4h0M685.8 802.7h0M640.4 816.8h0M641.5 805.6h0M690.1 784.1h0M692.4 750.7h0M652 785.9h0M602.5 759.9h0M652.4 782.4h0M725.7 759.1h0M616.7 761.3h0M629.2 881.9h0M605.2 822h0M564.4 925h0M703 812.5h0M560.7 907.6h0M728.2 768.4h0M564.8 883.5h0M500.3 730.3h0M696.8 801.1h0M624.6 786.9h0M674 772.9h0M618.1 836.6h0M584 903.5h0M568 720.8h0M579.3 855.9h0M633.8 798.2h0M581 911.5h0M565.6 900.1h0M568.4 914.4h0M654.3 736.4h0M620.1 782.3h0M606 871.3h0M549.7 917.1h0M698.7 764.1h0M672 806.8h0M584.1 867.8h0M635.5 761.2h0M640.2 747.1h0M569.3 896.5h0M589.5 843.2h0M687.1 820.4h0M583.7 767.9h0M664.7 817.4h0M616 797.3h0M665.8 805.2h0M510 769.3h0M560.2 872.3h0M697.1 787.7h0M567.2 880.2h0M548.1 899.8h0M642.1 816.7h0M711.9 774.2h0M634.6 838.9h0M670.6 750.2h0M630.3 833.2h0M636.2 745.8h0M681.7 804.1h0M555.9 728.4h0M619.4 833.3h0M618.6 848.5h0M579.2 853.5h0M631.7 757.6h0M631.3 735.3h0M626.2 894.4h0M668.6 777h0M635.3 767.4h0M467.9 750.2h0M622.7 731.4h0M675.3 781.4h0M540.6 732.8h0M579.5 866.3h0M523 744.8h0M683.1 758.4h0M565.7 823.9h0M613.7 852.6h0M586.3 917.9h0M644.1 753.7h0M667.1 806.4h0M661.9 782h0M588.1 862h0M658.6 788.4h0M573.3 860.5h0M558.8 868.7h0M647.9 778.5h0M688.4 767.8h0M696.2 799.1h0M552.2 886.7h0M682.9 783.6h0M616.6 785.6h0M654.2 766.2h0M553.6 889.9h0M580.6 901.6h0M629.3 861.3h0M549.1 875.9h0M673.5 823.3h0M706.3 769.5h0M603.1 876.3h0M662.1 770.4h0M645.3 750.5h0M607.2 869.1h0M695.5 773.1h0M726 760.4h0M611.2 836.6h0M494.5 748.1h0M640.9 843.3h0M691 751.2h0M599.9 888.9h0M686.7 752.3h0M585.7 727.4h0M590.9 887.2h0M575.8 835.4h0M648.9 787.2h0M670 781.6h0M631.7 818.8h0M584.9 725.9h0M660.3 827.2h0M683.6 747.1h0M670.5 783.2h0M596.9 859.9h0M598.6 877.6h0M622 747.7h0M647.4 812.1h0M639.2 766.8h0M564.2 862.3h0M592.8 768.8h0M566.7 919.7h0M659.3 828.7h0M651.8 845.1h0M655.3 837.4h0M591.8 745.3h0M680.4 770.4h0M604.1 912.8h0M602.6 909.3h0M575.2 740.5h0M589.2 905.1h0M539.2 909.4h0M595.5 903.3h0M588.1 738.3h0M671.1 751.4h0M695.8 780.7h0M612.7 827.7h0M547.7 876.2h0M655.3 831.1h0M639.4 787.6h0M633.3 833.8h0M702.6 792.1h0M636.6 809.6h0M564.6 919.2h0M457.7 734.1h0M640.8 809.2h0M539.5 876h0M661.2 842.6h0M715.2 748.9h0M674.3 804.7h0M688.5 748.2h0M581.4 837.5h0M711.6 787.9h0M568.2 898h0M623.5 808.2h0M620.9 821.6h0M607.3 866.4h0M449.3 708.1h0M689.2 759.3h0M606.5 864.7h0M644.4 744.6h0M579.8 748.9h0M638.9 772.9h0M713.5 780.7h0M656.1 793.6h0M548.6 722.5h0M608.2 829.1h0M690.7 774.9h0M679.6 752.6h0M606.7 831.3h0M647.9 831.4h0M712.9 778.5h0M668.4 802.2h0M628.5 825.2h0M669.7 785.5h0M588.4 870.3h0M695.2 759.7h0M610 845.9h0M571 724.6h0M621.7 834.5h0M659.8 809.9h0M658.2 797h0M659.2 783.1h0M708.9 773.9h0M576.6 779.4h0M608.3 739.3h0M556.1 911.7h0M544.8 729.4h0M692.9 784.3h0M590.7 871.5h0M713.4 782.3h0M633 793.8h0M672.7 758.1h0M716.6 770.9h0M579.5 859.1h0M651.8 823.9h0M595.9 852.1h0M503.6 715.9h0M569.6 846.7h0M676.9 756.4h0M705.3 795.4h0M706.4 778.4h0M542.5 733.5h0M631.7 874h0M533.9 727.3h0M635.3 803.3h0M638.2 829.6h0M616.3 746.8h0M726.2 774.9h0M555.5 910.8h0M704.2 803h0M581 891.3h0M604.2 758.1h0M525.3 715h0M704.9 811.3h0M692.1 785h0M595.7 882.2h0M584.1 884.8h0M673.1 807.6h0M636.5 858.8h0M560.7 869.7h0M733.8 783.9h0M631.5 852.8h0M558.1 717.6h0M569.2 893.6h0M623.8 733.4h0M708.1 784.4h0M721.8 749.5h0M634.9 830.6h0M606.3 882.1h0M679.9 741.4h0M622.5 772.9h0M597 898.4h0M660.4 822.9h0M651.3 792.8h0M643.9 789.2h0M612.5 907.8h0M643.9 810.6h0M576.1 852.3h0M662.5 788.6h0M607.3 842.7h0M625.9 865.7h0M561.6 911.8h0M598.4 834.8h0M584.4 858.4h0M673.2 811.1h0M595.3 872.8h0M696.7 746h0M574.5 882.3h0M719.9 758.5h0M640 846.7h0M696.2 783.6h0M593.7 737.4h0M578.3 844.5h0M582.5 889.9h0M623.5 745.1h0M557.1 859.8h0M723 753.2h0M590.9 748.8h0M726.2 764.9h0M669.6 804.9h0M671.6 836.4h0M650.8 801.1h0M625.7 862.4h0M556.1 904.8h0M665.1 819.9h0M648.5 815.9h0M634.9 855.9h0M666.7 825.8h0M539.6 881.6h0M593.4 872.3h0M597.4 732.4h0M704.1 762.2h0M559.3 745.7h0M657.7 808.7h0M646.6 780.5h0M678.2 791.7h0M681.5 813.9h0M648.7 768.6h0M612.5 843.3h0M700.8 776.4h0M688.2 803.4h0M615.6 864h0M571.4 888.2h0M652.8 810.2h0M611.6 834.1h0M588.4 885.5h0M612.6 880.2h0M594.2 885.4h0M666.7 787.7h0M651.4 799.7h0M645.4 810.6h0M634.4 875.6h0M635.1 853.3h0M564.4 736.7h0M679.3 754.8h0M705.7 789.1h0M644.9 829.4h0M724.1 759.9h0M596.7 870.8h0M657.2 836.1h0M695.5 789.9h0M628 763.8h0M639.1 796.3h0M636.9 805.8h0M594 753.4h0M592.1 861.5h0M705.2 779h0M707.5 749.8h0M686.1 800h0M661.2 794.7h0M637.6 798.7h0M609.5 866.2h0M599.2 796.8h0M687.5 809.7h0M594.9 892.6h0M643.8 803.6h0M670.5 793.4h0M567.4 921.3h0M586.9 726.3h0M654.8 813.9h0M630.9 863.9h0M705.9 752.2h0M727.4 763.7h0M638.2 812h0M630.8 845.6h0M667.5 756.3h0M671.4 771.1h0M574.5 761.1h0M616.8 886.2h0M602.1 911.9h0M599.4 852.5h0M587.1 895.3h0M682.3 787.4h0M565.8 887.7h0M639.2 798.8h0M704.8 771.4h0M581.6 722.8h0M663.9 744.3h0M597.4 739.4h0M575 907.6h0M707.2 773.5h0M692.6 778.5h0M564 897.5h0M630.7 766.2h0M605.4 732.1h0M586.3 893h0M688.5 783.5h0M674.7 803.5h0M630.6 734.3h0M626.7 866.7h0M625.9 812.8h0M620.4 873.6h0M656.2 799.4h0M621.3 874.5h0M729.3 770.8h0M583.3 856.7h0M568.4 909.5h0M676 798.5h0M563 918.5h0M613.3 878.8h0M730.1 763.3h0M694.7 771.4h0M597 900.5h0M632.1 737h0M667.1 795.3h0M694.8 803.6h0M701.3 766.7h0M576.6 918.4h0M682.5 813.5h0M660.3 789.5h0M592.4 906.6h0M572.6 899.5h0M629.6 827.7h0M559 733.9h0M572.6 774.4h0M655.3 821.3h0M679.7 758.7h0M558.5 721h0M682.6 763.1h0M621.4 850.2h0M582.1 865.6h0M699.2 753.4h0M646.4 833.2h0M607.3 788.5h0M675.8 755h0M628.7 832.1h0M651.5 810.9h0M660.8 814.5h0M561.9 867.9h0M565.8 876.5h0M668.9 804h0M696.2 802.6h0M706.8 753.5h0M703.7 786.4h0M577 885.3h0M706.6 793.2h0M566.9 891.2h0M510.5 720.1h0M566.9 894.9h0M617.6 860.1h0M641 815.8h0M595.9 836.5h0M624.1 835.7h0M511 725.9h0M700.1 757.8h0M610.5 892.7h0M606.1 856.9h0M642.2 879.7h0M626.6 858.1h0M716.5 776.1h0M658 737.4h0M689.9 791.9h0M470 725h0M608.2 744h0M624.5 799.3h0M491.9 709.9h0M701.5 804.6h0M566.1 901.8h0M659.3 780.3h0M699 759.2h0M684.8 758.2h0M638.9 792.6h0M588.1 897.9h0M665.9 781.4h0M605.9 730.3h0M602 876.7h0M644.9 765h0M699.3 806.4h0M622.4 759.4h0M556.3 875h0M609.9 792.3h0M646.5 857.9h0M690.7 796.3h0M544.2 881.1h0M724.4 750.1h0M733.8 766.1h0M657 789.2h0M611.8 764.3h0M692.8 742.6h0M559.9 892.2h0M699.8 785.4h0M590.4 872.5h0M605.2 823.2h0M655.9 827.4h0M576.8 908.6h0M542.5 724.8h0M635.1 819.5h0M593.2 763h0M591 893.3h0M517.1 717.3h0M688.9 793h0M596.4 728.3h0M665 776.3h0M690.6 758.8h0M705.5 787.2h0M656 774.1h0M558.6 870.8h0M593 875.2h0M661.8 852.1h0M702.8 755.4h0M680.4 805.8h0M547.8 719.8h0M600.4 772h0M590.3 894.5h0M551.7 729h0M682.3 769.3h0M605.9 733.2h0M563.6 919.5h0M648 785.3h0M601.4 770h0M657.9 743.7h0M689 812h0M622.6 776.7h0M590.1 884h0M624.6 849.2h0M712.4 760.3h0M577.9 905h0M713 751.8h0M517.6 713.7h0M635.3 845.6h0M725.5 771.3h0M609.2 837.9h0M640.3 852.3h0M577.2 873.4h0M676 785.4h0M712.1 749.3h0M659.6 746.9h0M692.8 780.4h0M686.8 782.6h0M589.5 908.3h0M605.5 792.2h0M606.1 800h0M620.4 773.2h0M534 768.3h0M685.9 741.5h0M579.9 864.1h0M611.3 874.3h0M570.2 894.5h0M675.9 791.7h0M697.3 803h0M624.7 841.8h0M672.1 784.5h0M641.1 877.4h0M544.1 742.5h0M552.3 890.2h0M701.2 758.2h0M683.7 818.4h0M655 812.5h0M632.2 784.4h0M641.7 840.5h0M567.5 876.3h0M669.2 745.9h0M615.8 873.5h0M551.5 730.4h0M660.3 751.5h0M629.2 772.6h0M642.8 844.8h0M663.9 783.6h0M649.1 741.9h0M608.7 771.6h0M711.3 755.6h0M567.4 862.8h0M683.7 793.7h0M677.4 750.8h0M658.3 786.1h0M706.7 764.1h0M711.4 783.7h0M479.1 730h0M601.5 791.4h0M555.9 721h0M652.6 783.6h0M593.1 912.7h0M709.1 750.3h0M641.5 850.2h0M612.5 781.6h0M575.2 864.8h0M718.5 780h0M629.4 743.3h0M684.7 756.1h0M605.1 880h0M655.6 754.4h0M523.2 743.5h0M636.1 733.6h0M532.4 799.2h0M576.6 867.6h0M669.9 817.8h0M642.4 829.5h0M619.9 845.1h0M682.2 805.1h0M707.2 800.6h0M653.4 773.2h0M635 833.2h0M577.5 917.9h0M598.5 853.2h0M600.2 752.3h0M621.1 795.2h0M576.3 874.8h0M627.4 800.9h0M635 813.2h0M683.3 765.5h0M644.4 816.1h0M609.6 763.8h0M564.6 896.4h0M619.6 882.4h0M647.8 771.2h0M649.6 861.1h0M640.6 791.7h0M532.6 722.5h0M625.2 766.6h0M562.6 902.5h0M586.8 900.1h0M485.7 736h0M489.4 711h0M662.8 787.2h0M662.9 825.3h0M705.1 749.3h0M556.3 880.3h0M579.2 891.9h0M717.6 758.7h0M716.5 788h0M651.8 777.9h0M667 769.5h0M591.5 870.7h0M676.9 784.1h0M609.6 839.1h0M628 840.7h0M646.1 768.4h0M648.6 765.2h0M587 769.7h0M566.3 893.7h0M590.3 828h0M650.5 787.3h0M570.8 802h0M569.3 927.6h0M655.8 775.8h0M595.7 909.8h0M700.8 750.2h0M567.2 873.1h0M710.6 774.7h0M560.1 910.3h0M699.6 756.5h0M583.8 900.7h0M561.9 890.3h0M568.1 885.4h0M590.4 850h0M675.9 746.7h0M564.9 886.7h0M699.9 747.2h0M617.8 840.2h0M632.1 865.1h0M721.1 756.6h0M646.1 741.8h0M677.6 767.1h0M595.4 825.4h0M546.4 892.7h0M590.8 876.3h0M695.6 743.2h0M568 888h0M681.4 764.7h0M650.7 794.5h0M567.9 899.3h0M662.6 768.6h0M599.8 850.3h0M575.4 719.8h0M645.3 832.3h0M653.9 807.4h0M557.8 766.8h0M566.4 726.2h0M695.9 747.7h0M688.1 789.7h0M637.4 867.5h0M691.7 762.5h0M721.7 752.7h0M562.8 758h0M588.6 904.2h0M555.1 746.6h0M603.8 866h0M569.3 858.6h0M588.4 879.7h0M597.2 800.3h0M574.7 734.7h0M694.8 795.8h0M569.6 843.9h0M730.4 759.8h0M417.2 707.3h0M720.2 756.1h0M645.2 747.6h0M604.6 896.2h0M577 722.2h0M593.1 896.5h0M689.4 785.7h0M642.8 869.6h0M665.9 785.2h0M607.3 857.9h0M629.3 870.4h0M560.4 739.8h0M651.7 767.5h0M552.9 864.8h0M633.1 803.5h0M674.4 755.3h0M701.5 783.9h0M709.2 781.2h0M653.4 820.6h0M563.6 865.3h0M607.5 850.4h0M693.4 754.4h0M575.6 724.2h0M702.3 765.6h0M601 883.6h0M625.8 835.3h0M669.2 791.2h0M614 877.6h0M599.7 882h0M625.7 842.1h0M650.4 732.9h0M687.1 793.4h0M651.1 762.8h0M588.8 736.7h0M648 829.8h0M577.4 919.2h0M570.5 889.5h0M635.9 739.3h0M622.8 835.6h0M737.6 756.2h0M685.8 777.4h0M561.6 863.9h0M703.6 756.4h0M675.2 790.8h0M641.8 741.6h0M622.7 815.4h0M686.7 802.1h0M642.5 807.4h0M579.2 720h0M484.4 710.6h0M595.2 738.7h0M672.4 779.8h0M638.3 787.5h0M601.4 745.4h0M678.1 810.3h0M653 791.7h0M624.8 777h0M615.5 731h0M665.3 745.9h0M654.4 780.1h0M679.8 740.2h0M625.6 851.7h0M663.1 829.2h0M437.7 709.9h0M560.3 902.5h0M719.9 748.5h0M601.4 878h0M642.2 737.6h0M583.7 908.2h0M602.8 885.3h0M591.6 726h0M678.1 763.6h0M552.7 792h0M572.4 895.7h0M633.8 788.9h0M608.4 882.7h0M625.9 749h0M708.9 790.6h0M586.7 894.3h0M610.9 840.1h0M635.3 827.4h0M621.3 847.6h0M548.1 902.9h0M686 766h0M574.9 889.2h0M650.2 792.7h0M727.4 779.7h0M612.1 737.3h0M563.7 914.2h0M661.1 806.4h0M730.2 758.4h0M530.7 792.2h0M463.1 726h0M604.4 860.2h0M594.6 830.1h0M572.5 849.2h0M589.4 725.1h0M681.4 781.6h0M613.7 785.8h0M635.7 806.4h0M567 917.5h0M583.5 888.8h0M676.8 811.3h0M539.6 745.7h0M686.9 804.4h0M656.3 778.6h0M610.8 772.2h0M559.3 884.8h0M681.3 753.5h0M651.7 815.8h0M635.7 831.5h0M619.6 851.8h0M535 769.4h0M689.4 814.1h0M572.5 759.3h0M600.7 734.2h0M560.5 895.4h0M701 761.6h0M553.9 721.2h0M596.1 820.8h0M680 767h0M599.4 880.2h0M596.7 878.1h0M640.7 845.3h0M647.2 852.1h0M689 807h0M657.5 754.9h0M650.2 809h0M540.5 906h0M603 892.3h0M657.8 760.5h0M667.1 745h0M603.9 861.5h0M614.9 787h0M653 833.6h0M662.4 831.6h0M527.5 728h0M665.3 807.8h0M641 801.4h0M611.5 894.2h0M634.7 814.8h0M691.7 817.3h0M602.3 725.1h0M557.1 900.3h0M636.8 738.6h0M472.2 715.1h0M538.8 762.5h0M558.2 903h0M670 777.3h0M619.9 754.5h0M650.2 811.1h0M581.7 889.2h0M559 910.3h0M576.2 872.3h0M607.5 896h0M676.1 745.2h0M645.8 809.6h0M599 753.6h0M624.9 847.3h0M592.6 839.1h0M610.7 804h0M560 889.5h0M697.9 766.6h0M577.7 836.8h0M631.6 875.9h0M614.7 761.1h0M700.8 789.6h0M578.5 908.3h0M653.8 805.5h0M677.4 755.5h0M623.5 870.6h0M612.9 776.2h0M629.8 863.7h0M623 744.2h0M589.9 851.2h0M599.9 896.8h0M526.4 752.1h0M493.4 762.9h0M562.6 903.8h0M619.2 889.7h0M602.3 901.6h0M693.3 805.5h0M592.9 895h0M688.3 785.2h0M531.2 725h0M585.3 907.6h0M573.5 882.6h0M596.6 881.4h0M635.4 746.7h0M585.9 910.6h0M578.4 918.7h0M694.1 808.1h0M693.7 785.4h0M577.5 858.9h0M628.2 835h0M594 913.3h0M590.6 902.9h0M672.8 798h0M708.8 799.1h0M584.7 910.1h0M600.6 886h0M556.5 887.7h0M618.9 813.8h0M660.8 770.4h0M692.8 765.9h0M604.8 816.5h0M512.4 721.7h0M695.8 761.3h0M618.8 876.8h0M688.7 829.7h0M618 885.3h0M685.2 817.5h0M660.8 761.7h0M639.9 775.3h0M634.9 864.8h0M597.7 885.9h0M712.1 775.6h0M619.2 852.7h0M621.2 735.4h0M661.4 791.7h0M672.8 802.1h0M571.2 883.5h0M617.4 753.9h0M673.2 765h0M552.5 895.3h0M620 846.6h0M639.4 753.4h0M595 906.8h0M620.4 855.3h0M665.7 836.9h0M582.9 755.1h0M552.7 917.1h0M593.5 785.4h0M579.8 726.9h0M599.8 841.6h0M429 705.3h0M594.2 850.4h0M545.4 834.4h0M681 793.9h0M599.2 873h0M683.3 780.7h0M685.9 759.5h0M665.3 795h0M601.2 820.3h0M609.4 862h0M568.3 878.9h0M581.7 887h0M688.8 772.1h0M597.6 852.1h0M675.5 772.4h0M693.6 790h0M510.9 743.7h0M616.2 841.9h0M524.4 726.7h0M634.9 826.3h0M585.9 838.2h0M704.7 755h0M667.8 792.9h0M632.9 836.2h0M678.1 812.2h0M719.2 764h0M624.5 865.9h0M671.3 794.4h0M597.8 820.9h0M608.7 860.8h0M540.5 782h0M669.3 795.1h0M701.8 782h0M678.8 824.5h0M616 801.7h0M681.5 772h0M619.5 790.4h0M549.2 915.7h0M678.3 780.7h0M694.7 790.8h0M618.2 873h0M684.8 773h0M586.2 729.4h0M582.7 887.7h0M654.1 757.1h0M479.4 718h0M733.3 764.9h0M700.1 807.1h0M590.7 899.3h0M703.2 800h0M559 888.6h0M704.4 805.6h0M708.9 771h0M570.4 918.1h0M580.8 905.4h0M735.9 756.9h0M647.4 782.5h0M653.5 802.4h0M641.3 775.9h0M607.2 828.9h0M599.3 776.1h0M594.7 838.2h0M626.3 870.4h0M626.3 846.2h0M574.3 898.8h0M638.2 742.5h0M723.7 747.6h0M699.8 786.6h0M612 906.9h0M575.6 734.2h0M621.1 803h0M658.9 781.2h0M730.5 761h0M657.4 805.7h0M620.4 894.1h0M665.2 840.2h0M682.7 841.1h0M621.6 827.1h0M698.2 771.6h0M612.8 750.2h0M602.5 864.9h0M613 891.5h0M657.5 735h0M649.7 840h0M662.3 743h0M473.8 752h0M627.7 846.4h0M584.2 916.4h0M734.1 749.2h0M662.1 779.8h0M594.4 900.1h0M653.7 817.9h0M587 819.7h0M659.5 794.6h0M582.3 900.7h0M541.7 776h0M599.8 749.5h0M413.6 704.5h0M558.7 915.4h0M577.8 724.3h0M640.4 738.6h0M651.7 837.4h0M614.9 819h0M718.2 788.3h0M680.2 746.9h0M584.9 863.3h0M592.2 842.5h0M636.5 864.6h0M720.8 765.2h0M613.4 814.7h0M576.9 878.7h0M683.2 791.7h0M543 757.6h0M550.8 720h0M647.3 838.5h0M655.6 743.4h0M558.1 901.6h0M562.5 915.9h0M702.1 756.2h0M672.9 770.1h0M548.1 718.2h0M649 737.8h0M540.5 716.9h0M664.5 777.6h0M597.6 796.9h0M538.5 724.4h0M591.5 845.3h0M589.6 880.3h0M548.9 761h0M598.4 897.6h0M617.8 843.2h0M503.3 733.7h0M536.3 801.9h0M640.9 788.7h0M584.6 744.3h0M504.7 792.2h0M622.9 846h0M567.7 746.4h0M631.1 813.7h0M602.7 869.6h0M654.3 864.6h0M655.8 804.1h0M722.5 761.8h0M596.4 865h0M645.8 831.2h0M578.3 725.2h0M630.8 821.9h0M671.3 763h0M494.8 752.7h0M570.4 901.4h0M637.1 851.1h0M542.3 875.7h0M551.6 754.8h0M709.5 756.4h0M561.8 901.2h0M670.7 767.6h0M709.5 765.5h0M573.3 913.9h0M569.2 852.4h0M700 761.6h0M607.4 846.1h0M697.7 763.1h0M698.2 756.6h0M658 777.7h0M605.1 909.7h0M577.3 743.2h0M590.7 833.9h0M642.5 798.1h0M653.8 846.9h0M596.9 873.5h0M675.4 823.4h0M593.2 745.2h0M533.4 751.4h0M683.3 741.6h0M606.7 858.9h0M680.4 755.8h0M638.7 834.3h0M579.8 744.8h0M606.1 758.3h0M663.5 798.4h0M607.6 729.9h0M561.7 879h0M631.7 848h0M627.5 838.9h0M573.7 742.4h0M622.6 877.9h0M566.9 888.9h0M620.4 756.5h0M610.8 728.9h0M693.1 797.1h0M584.4 790.6h0M669 815.6h0M630.4 830.4h0M510.7 734.4h0M642.4 817.7h0M644.5 734.5h0M636.6 785.9h0M626.2 811.5h0M657.2 822.1h0M610.5 869.6h0M575.9 877.9h0M619.4 847.8h0M688.2 781.9h0M557.8 909.7h0M496.1 729h0M430.2 709.7h0M680.8 787.4h0M545.7 898h0M608.9 896.9h0M636.4 763.7h0M550.9 884.7h0M620.5 797.3h0M587.3 904.1h0M630.5 871.7h0M534.9 796.4h0M559.6 878.6h0M607.3 741.5h0M611.8 859h0M584.2 761.5h0M642.6 832.8h0M605.2 833.7h0M598 876h0M668.1 759.3h0M644 793.9h0M600.6 900.8h0M669.9 834.5h0M646.1 843.9h0M647.9 865.3h0M630 834.6h0M676.7 749.6h0M553.8 891h0M710.6 762.7h0M597.2 887.3h0M708.1 780.8h0M650.6 760.3h0M409.9 716.8h0M722.6 778.4h0M542.9 909.5h0M595.6 732.3h0M539.5 734.5h0M592.8 755.6h0M590.1 874.2h0M634.7 825.1h0M629.1 749.3h0M554.7 878.4h0M581.4 917.2h0M545.4 742.2h0M707.5 765.5h0M686.8 758.7h0M581.3 762.5h0M569.8 900.3h0M581.8 755.4h0M665 815.1h0M631.7 886.5h0M617.4 798.7h0M548 888.1h0M675.4 765.9h0M661.5 771.8h0M683.2 806h0M682.4 771.3h0M597.6 878.8h0M679.1 800.9h0M597 915.7h0M691.3 800.9h0M627.9 807.4h0M684 752.1h0M596.2 841.9h0M550.3 909.6h0M622.6 745.4h0M595.2 870.3h0M554.3 898.9h0M679.3 784.6h0M679.5 802.1h0M636.3 807.3h0M635.3 730.3h0M612.8 888.4h0M610.7 841.1h0M593.6 894.1h0M608.2 853.8h0M605.5 793.2h0M498.9 722.5h0M525.7 724.7h0M591.3 850.6h0M671.7 828.5h0M646.9 774.1h0M607.3 758.3h0M605.6 904.4h0M547.4 890.3h0M649.9 827h0M551.4 722.9h0M612 792.1h0M435.1 714h0M548.2 912.6h0M633 746.5h0M658 795.7h0M650 845.6h0M686.3 756.2h0M626.7 785.1h0M637.8 779.8h0M613.6 863.6h0M612.6 847.9h0M627.1 822.3h0M641.1 747.6h0M639.6 865.2h0M635.1 734.6h0M569 901h0M647.2 789.5h0M622.8 732.7h0M734.5 758.9h0M603.2 727.8h0M585.3 921.5h0M654.5 770.7h0M663.7 748.1h0M628.3 860.8h0M620.5 876.3h0M650 777.3h0M602.5 880.3h0M621.8 876.1h0M582.4 870.9h0M493.2 761.1h0M567.5 857.5h0M659.2 763h0M580.2 903.5h0M639.2 819h0M658.8 752h0M610.1 773.6h0M617.1 763.8h0M614.3 822.8h0M631.5 827.8h0M720.6 752.1h0M704.4 763.2h0M642.7 749.8h0M666.8 776.2h0M717.2 779.9h0M692.5 775.4h0M720.4 759.8h0M576.7 854.4h0M588.3 871.9h0M685 748.6h0M612.5 830h0M582.7 725.8h0M567.3 929.8h0M717.5 749.9h0M541.6 820.9h0M715.9 765.8h0M674.2 791.4h0M639.7 820h0M645.7 790.9h0M698 770.3h0M564.7 898.8h0M727.2 765h0M593.8 742.7h0M676 783.6h0M574.8 772.3h0M627.5 863.9h0M697.8 784h0M594.3 741.3h0M607.1 776.2h0M638.8 748.6h0M575.8 729.2h0M561.9 924.8h0M661 847h0M654 859.5h0M680.1 799.2h0M596.4 748.7h0M638.4 833.2h0M650.1 837.3h0M622 871.6h0M598.8 821.3h0M585.1 884.7h0M607.3 739.8h0M621.7 727.6h0M616.8 852.9h0M616.6 832.4h0M582.3 857.4h0M649.1 743.9h0M713.3 786.8h0M715.9 777.6h0M601.3 876h0M552.6 913.9h0M592.6 750.3h0M608.3 866.6h0M637.3 852.6h0M685.1 780.4h0M598.4 755h0M592.6 910.9h0M580.4 912.5h0M592.5 916.7h0M674.7 758.8h0M646.3 802h0M692.3 806.3h0M645.9 789.7h0M599.5 754.7h0M722.6 765.3h0M680.1 808.2h0M623.4 866.1h0M704.4 766.8h0M636.5 820.8h0M681 807.7h0M694.3 797.9h0M686 761.6h0M703.4 749.3h0M612 801.1h0M552.2 720.9h0M668.8 825.6h0M653.9 776.4h0M688.5 807.9h0M660.5 838h0M525.3 732.8h0M680.9 758.9h0M629.2 755.8h0M583.3 736h0M593.1 812.6h0M663.4 780.5h0M639.6 797.8h0M612.8 859.2h0M551.2 762.2h0M653.4 795.7h0M683.5 800h0M633.7 740.8h0M563.5 747.1h0M710.9 779.5h0M588.9 779.2h0M472.9 710h0M629.1 816.4h0M585 913h0M693.4 779.5h0M657.6 784.7h0M617 752.3h0M692.7 759h0M570.5 878.4h0M558.7 744.1h0M534.9 875.8h0M608.8 894h0M615 797.8h0M698.3 779.5h0M580 888.8h0M702.3 748.2h0M554.2 909.6h0M615.2 829.6h0M623.7 734.5h0M586.2 912.1h0M581 913.5h0M715.6 775.4h0M719.7 749.8h0M569.3 889h0M569 870.2h0M551 908.5h0M696.8 795.3h0M611.9 739.3h0M556.1 762.7h0M572.8 920.4h0M546.6 715.5h0M496.1 748h0M588 858.8h0M602.3 843.8h0M558.7 774.9h0M588.3 859.8h0M547.9 735.4h0M595.5 856.4h0M696.7 813.9h0M646.5 819h0M671.3 796.6h0M676.1 848.5h0M595.8 905.7h0M604.4 854.6h0M608.9 765.2h0M499.7 717.8h0M504 713.6h0M569.9 866.7h0M597.9 854.8h0M617.3 887.4h0M633.4 848.8h0M671.6 797.8h0M576.2 725.9h0M583.1 925.3h0M727.8 753.8h0M548.8 896.5h0M571.1 821h0M643.1 801.1h0M667.1 822.7h0M624 770.5h0M538.9 891.5h0M613.3 881.8h0M649.5 794.2h0M617.3 877.6h0M581.9 872.1h0M713.1 773.9h0M561.3 902.6h0M673.3 787.2h0M542.3 736.3h0M685.7 762.8h0M679.8 825.5h0M653.9 769.1h0M643.6 777.9h0M571.4 910h0M712.6 754.1h0M648.7 759.6h0M591.7 855.4h0M682.6 754.5h0M610.8 798.7h0M613.4 740.9h0M566.5 884.8h0M624.1 779.1h0M635.9 735.9h0M664 740.6h0M601 728.9h0M618.2 734h0M594.6 878h0M630.1 737.7h0M633.2 884h0M624.2 772.1h0M656.3 766.4h0M475.7 725.9h0M662.4 775h0M665.1 738.4h0M560.8 720.9h0M665.1 739.8h0M648.8 800.6h0M632.4 764h0M671.3 807.7h0M526 736.4h0M641.6 799.5h0M718.9 751.6h0M601 843h0M655.6 839.4h0M532.5 780h0M606.6 883.2h0M523.2 777h0M594.8 866.3h0M617.5 838.1h0M703.3 747.6h0M685.9 754.6h0M569.4 872.8h0M585.3 858h0M711.7 767h0M584.4 753h0M524.4 890.9h0M703.3 759.2h0M569.9 860.1h0M570.7 882.6h0M554.6 882.2h0M668.6 784.2h0M651.9 839h0M672.6 748.8h0M504.7 746.1h0M578.6 915.3h0M697.8 808.1h0M551.3 888.3h0M651.3 774.7h0M721.1 771.7h0M584.6 891.8h0M562 880.1h0M569.8 917.1h0M649.2 842.3h0M717 794.5h0M558.4 898.3h0M632.5 859.9h0M673.6 768.9h0M564.5 872h0M639.6 751h0M569.7 891.8h0M724.8 765.9h0M670.6 818.9h0M672.3 772.5h0M590.3 775.8h0M572.5 890.4h0M575.3 920.8h0M591.5 882.9h0M569.7 718.6h0M609.7 890.2h0M591.6 892.1h0M708.5 767.7h0M484.4 713h0M588.4 892.3h0M638.5 842.9h0M679.8 788.6h0M648.5 864.2h0M570.9 834.4h0M698 753.8h0M564.5 921.2h0M490.7 751.4h0M683.7 798.3h0M715 767.8h0M554.7 900.8h0M604.7 878.1h0M579.7 790.9h0M655.5 751.1h0M611.6 826.5h0M725 762h0M611.9 790.7h0M690.8 750h0M585.8 904.6h0M584.8 887.9h0M610.2 807h0M586.5 738.2h0M573.6 887.2h0M733.6 754.9h0M700.5 774.1h0M579.8 917.9h0M578.5 731.1h0M586.8 902.4h0M637.7 848.1h0M678.5 813.7h0M602 891.9h0M542.3 871.1h0M659.9 819.9h0M709.6 775.8h0M624.3 752h0M608.3 887.3h0M574 916.6h0M625.3 808.3h0M586.2 741h0M719.1 773.6h0M571.5 872.4h0M566.7 866.6h0M593.6 887.9h0M645.5 840.2h0M640.8 819.1h0M681.7 800.2h0M677.5 744.4h0M672.5 756.3h0M546.1 762.2h0M632.3 845.7h0M691 791.9h0M622.7 862.6h0M678.3 826h0M710.8 751.4h0M664.9 782.3h0M685.2 808h0M516.5 772.8h0M626.4 867.6h0M714.2 777.7h0M577.1 900.7h0M667.6 754h0M605.9 890.7h0M658.2 747.4h0M662.6 764h0M667.9 772.7h0M581.6 804.5h0M659.7 785.9h0M609.9 902.2h0M553 887.5h0M581 876.6h0M648.5 848.4h0M641.9 733.2h0M606.1 845.3h0M692.9 799.4h0M590.7 829.2h0M644.4 827.1h0M672.9 822.4h0M643.6 797.3h0M648.2 822.7h0M712.2 764.7h0M588 826.4h0M524.5 748.6h0M698.4 795.9h0M553.2 904.9h0M623 856.3h0M582.2 902.1h0M692.1 804.7h0M596.9 876.5h0M637 774.6h0M577.9 871.7h0M569.1 882.8h0M684.5 801.6h0M592.4 904.4h0M644.6 787.8h0M568.8 735.1h0M610.1 836.8h0M588.3 726.5h0M568.8 739h0M590 852.7h0M633.9 840.5h0M563.8 923.5h0M730.1 780.8h0M515.1 756.8h0M650.9 821.6h0M636.1 852h0M650.9 806.6h0M599.3 870.7h0M664.2 813.9h0M717 754.4h0M700.3 772h0M583 911.1h0M612.1 835.7h0M610.1 878h0M648.3 766.9h0M579.3 868.2h0M620.1 861.8h0M598 756.7h0M596.7 866h0M669.6 839.3h0M705.4 785.5h0M527.5 732.1h0M695.4 748.8h0M657.4 815.6h0M651.8 757.1h0M579.6 736.1h0M586.6 915h0M588.9 856.4h0M723.8 785.4h0M646.3 815.3h0M600 890.2h0M666.3 780.2h0M652.2 774.2h0M557.1 897.4h0M619.1 799.5h0M660 865.8h0M665.8 802.6h0M582.7 893.3h0M608.9 728.8h0M604.8 866.3h0M574.1 865.5h0M547.2 908h0M623 842.1h0M627.6 735.1h0M599.4 923.8h0M640.7 742.1h0M546.3 900.5h0M522.2 764.7h0M654.3 755.3h0M718.4 766.1h0M639.6 843.6h0M591.8 893.9h0M626.9 856.9h0M689.1 801.7h0M653.4 739.9h0M609.9 867.7h0M592.7 764.7h0M590.8 863.5h0M558.1 880.6h0M601.9 884.5h0M644.3 853h0M650.7 844.3h0M640.4 745.2h0M676.3 793.7h0M575.7 911.4h0M696.9 805.1h0M587 879.9h0M682 806.3h0M653.2 751.5h0M667 821.4h0M715.5 772.8h0M607.5 851.9h0M469.9 726.1h0M606.7 908.1h0M552.8 867.1h0M611 859.7h0M562.3 870.4h0M545.6 727.3h0M582.8 880.1h0M690.2 761.5h0M723.8 782h0M572.2 921.6h0M599.5 894.5h0M588.6 834.6h0M728.1 755.2h0M584.9 896.1h0M639.9 780.2h0M702.6 766.7h0M585.3 874.1h0M535.4 723.6h0M705.4 798.9h0M630.4 824h0M562.9 885h0M637.8 877.2h0M663.6 757.9h0M587.8 863.3h0M688.2 757.6h0M585.1 851.6h0M574.3 911.1h0M502.3 737.9h0M613.8 770.5h0M729.3 776.1h0M585.6 869.5h0M577.4 910.9h0M540.6 745.5h0M593.4 859.1h0M726.8 777.3h0M603.4 894.1h0M665.1 754.3h0M624.2 837.8h0M654.7 797.3h0M460.4 716.6h0M599.7 898.3h0M620.3 850.8h0M603 790.3h0M569.4 766h0M574.6 873.8h0M544.6 901.3h0M554.6 846h0M683.9 784.6h0M566.2 873.1h0M636.3 854.7h0M740.2 759.3h0M663.3 818.7h0M684.3 775.8h0M615.3 800.7h0M626.9 847.8h0M624.5 816.7h0M685.6 771.9h0M630.7 819h0M702.3 746.2h0M661.2 743.4h0M559.6 914.4h0M578.5 906.4h0M649.6 766.1h0M643.4 734.9h0M613.5 889.8h0M584.1 735.4h0M593.7 876.2h0M643.5 786.7h0M630.6 746.4h0M584.6 812h0M672 737.4h0M573.4 755.3h0M616.6 849.1h0M658.4 807.5h0M679.7 812.3h0M536.1 726.4h0M636.7 751.7h0M625.6 815.1h0M440.9 708.7h0M530.1 781.4h0M721.5 769.6h0M664.9 798.2h0M562.7 920.7h0M642.4 734.4h0M592 739.4h0M593.6 729.9h0M656.8 747.4h0M652.6 806.4h0M631.5 831.4h0M635.3 822.4h0M569.4 906.3h0M673.1 784.9h0M659 773.3h0M658.1 756.5h0M688.3 799.1h0M597.6 736.8h0M723.4 776.6h0M640.3 853.6h0M648.8 780.2h0M617.8 813.9h0M519.2 710.9h0M719.4 761.3h0M611 887.7h0M585.5 903.4h0M602.6 768.2h0M604.3 915.4h0M547.4 896.6h0M623.7 851.7h0M596 883.2h0M649.6 816h0M581.4 915.9h0M666.7 829.6h0M622.2 736.7h0M694.4 769.8h0M488.9 730.1h0M660.3 793.1h0M592.5 866.5h0M550.7 820.3h0M650.2 767.6h0M587 870.3h0M570.6 863.6h0M713.7 769.2h0M714.4 756.3h0M589.4 756.6h0M656.5 744.6h0M602.1 842.3h0M619 888.1h0M556.6 893.1h0M569.6 832h0M669.4 810.8h0M571.5 896.6h0M542.2 912.9h0M606 735.8h0M564.2 740.8h0M621 869.9h0M568.8 721.9h0M639.7 732.5h0M686 810.4h0M668.1 811.3h0M592.4 864.6h0M568 871.1h0M637.3 880.2h0M650.3 757.5h0M603.3 863.6h0M614.7 741.2h0M649.9 803.5h0M695 776.1h0M691.3 784.4h0M686.6 786h0M576.4 906.2h0M611.3 832.4h0M587 891.9h0M461.5 720.2h0M612.2 861.2h0M651.8 739.2h0M622.5 738.8h0M615 840.2h0M646.4 752.1h0M556.3 866.3h0M671.5 748h0M649.1 746.4h0M687.2 785.1h0M561.3 840.1h0M448.7 710.8h0M595.8 862.2h0M615.3 843.8h0M582.6 761.2h0M540.1 920.7h0M694 815.6h0M609.7 898.3h0M624.6 738h0M693.2 814.9h0M630.8 882.5h0M702.8 794.7h0M601.8 851.8h0M670 763.3h0M646.9 834.1h0M609.1 856.2h0M610.7 763.3h0M641.6 796.5h0M586.9 909.6h0M569.5 880.5h0M584 803.6h0M560.2 868h0M678.9 755.7h0M674.6 822.6h0M596 787.1h0M663.6 839.5h0M636.6 753.5h0M672.5 808.4h0M665.1 758.1h0M667.7 842.3h0M677.3 788.7h0M720.8 773.6h0M577.4 750.2h0M587.7 873.9h0M556.7 899h0M691.1 825.8h0M687.7 816.4h0M684 779.1h0M671.5 758.6h0M684.3 815.1h0M632.3 816.7h0M598.6 836.3h0M649.1 754.2h0M645.5 847.3h0M640.4 759.5h0M653.6 812.4h0M464.5 733.6h0M629.1 797.8h0M575 925.3h0M560.9 860.1h0M562.2 896.3h0M617.3 776.3h0M478.2 725.2h0M591.2 740.2h0M538.6 716.1h0M654.3 763.7h0M685.5 783h0M710.7 756.9h0M712.5 799h0M643.8 746h0M632.4 856.4h0M602.3 827.8h0M693.8 759.5h0M671.7 809.6h0M535.5 881.9h0M609.5 854.4h0M673.9 830.4h0M684.8 824.8h0M601.5 757.4h0M479 750.2h0M674.7 782.4h0M615.4 821.9h0M612.7 867h0M695.4 756.8h0M571.9 884.8h0M688 763.8h0M636.2 871.8h0M676.8 823h0M593.6 797.9h0M699.8 764.4h0M652.2 795.2h0M529.5 734.2h0M587.1 852.5h0M633.2 837.5h0M503.2 728.7h0M603.4 888.3h0M723.3 768.3h0M699.2 770.4h0M649 752.1h0M595.2 814.9h0M701.6 794.1h0M621.6 835.8h0M616 891.8h0M676.5 753.3h0M652.9 816.7h0M593.1 754.1h0M593.3 851.9h0M612.2 751.1h0M728.6 758.8h0M562.7 917h0M679.5 820.8h0M678.3 759.2h0M586.9 849.8h0M614.4 834.3h0M607.1 907.1h0M744.3 754.2h0M575.7 860.1h0M594.3 882.7h0M637 783.3h0M700 797h0M721.2 762.3h0M633 815.8h0M592.1 867.9h0M567.4 882.4h0M598 829.7h0M709.1 757.4h0M693.9 756.8h0M707.1 795.6h0M642.4 804.3h0M618.6 863.1h0M610.4 835.7h0M602.8 740.1h0M633.7 874.3h0M645.1 834h0M617.2 806.8h0M550.4 726.1h0M607.1 737.8h0M623.2 784.8h0M619.8 896.2h0M470.2 714.8h0M499.9 758.8h0M573.5 853.6h0M633.6 834.8h0M704 779.7h0M655.8 767.7h0M620.2 841.3h0M637.3 842.5h0M596.2 730.6h0M643.8 792.8h0M707.7 799.6h0M629.6 821.2h0M593.4 847.6h0M643.1 819.4h0M685.3 764.6h0M543.9 739.7h0M537.1 894.8h0M685.6 768.5h0M572.5 917.4h0M608.5 872.8h0M656.8 830.6h0M603.2 726h0M595.9 763h0M604.5 904.7h0M603.2 913.9h0M688.8 795.9h0M634.3 855.1h0M736.4 757.9h0M686.7 817h0M627.6 831.2h0M688.8 753h0M666.4 813.1h0M703.8 775.2h0M603 829.3h0M635.5 847.9h0M595.9 876.2h0M580.5 774.3h0M703.2 778.3h0M562.4 764.9h0M736.1 785.3h0M539.9 908.6h0M632.4 770.6h0M515.4 715.1h0M597.8 865.8h0M601.1 750h0M591.1 873.8h0M624.8 814.4h0M549 919.4h0M673.1 762.3h0M596.1 747.1h0M616.5 846.9h0M667.6 800.6h0M604.1 796.4h0M591.8 918.9h0M474.9 735.8h0M559.6 912h0M612.8 837.2h0M735.8 763.9h0M593.5 870.4h0M688.6 773.4h0M539 720h0M681.7 742.6h0M600.6 854.8h0M559.4 725.4h0M562.4 881.3h0M596.3 884.6h0M568.1 868h0M578.1 851.2h0M712.6 772.9h0M631.9 742h0M646.2 737.5h0M666.4 772.9h0M636.8 827.3h0M630.7 857.7h0M650.8 825.1h0M494.6 728.1h0M656.8 739.9h0M606.7 797.4h0M621.9 785.2h0M660.1 784.5h0M664.9 790.2h0M678.1 795.9h0M654.5 734.9h0M584.8 899.7h0M587.4 848.8h0M613.8 758.7h0M627.8 871.7h0M709.9 782.1h0M611.3 773.7h0M613.1 821.9h0M649.1 868.5h0M589.7 758.8h0M630.5 782.4h0M597 805.7h0M490.1 729.2h0M645.4 780.2h0M567.1 734.8h0M646 866.2h0M582.7 748.4h0M605.7 902.3h0M719.8 753.8h0M689.9 770.3h0M668.7 739.7h0M688.6 777.9h0M582.8 734.1h0M601.5 747.5h0M542.5 893h0M602.4 888.4h0M665.6 799.6h0M560.6 912.5h0M589.7 837.8h0M662.6 739h0M603.9 903.1h0M651.8 794.1h0M622.4 823.6h0M682.9 760.3h0M573.7 879.5h0M700.5 798.4h0M552.3 908h0M610.6 870.8h0M532 914.1h0M675.2 816.5h0M717.5 790.9h0M670.7 795.7h0M556.8 903.6h0M672.1 783.5h0M686.8 764h0M682.1 801.5h0M703.4 810.3h0M605.8 830.4h0M605.4 859.3h0M619 868.3h0M661.2 740.4h0M580.2 885.5h0M557.9 877.6h0M560.6 850.2h0M687.7 779.1h0M656.3 838.6h0M701.4 762.7h0M683.2 774.8h0M628.4 849h0M667.8 747.2h0M590.6 800.5h0M527.1 720.3h0M541.3 744.5h0M586.2 923.2h0M608.5 819.8h0M572.5 731.3h0M667 737.4h0M650.2 852.7h0M668.4 839h0M546.4 714.2h0M685.9 801.5h0M697.6 767.8h0M602.1 853.9h0M611.3 891.6h0M711.2 771.8h0M508.7 775.7h0M511.5 921.7h0M624.7 867.5h0M677.8 775.4h0M647.4 763.8h0M613 840.4h0M613.5 862h0M641.8 853.3h0M697 791h0M701.3 777.6h0M588.3 854.5h0M614.1 870.2h0M614.9 884.1h0M446.7 711.1h0M612.7 872.5h0M585.6 735.9h0M618.9 759h0M681.3 792.1h0M565.9 734.8h0M600.5 825.4h0M577.4 746.3h0M578.9 890.3h0M636.2 732.4h0M683.6 761.5h0M667.3 802.1h0M647.8 804.7h0M699.6 802.9h0M726.8 751.9h0M571.5 735.7h0M633.3 855.7h0M646.3 760.6h0M614 734.1h0M698.2 773.2h0M574.6 900.8h0M621.5 832.4h0M725.8 773.6h0M551.5 895.9h0M616.7 843h0M560 917.3h0M628.8 778.8h0M594.7 821.7h0M605.3 848.9h0M594.7 853.2h0M648.6 789.9h0M722.3 774h0M615.4 830.8h0M611.6 847.6h0M589.8 915h0M615.7 807h0M559.3 741.4h0M600.7 845.9h0M664.2 754.9h0M631.8 734.2h0M620.4 833.4h0M662.4 795.5h0M582.6 851h0M630.7 744.5h0M613 732.2h0M646.9 765.3h0M601.7 895.3h0M607.5 763.1h0M621.9 777.8h0M670.4 835.4h0M669.5 819.5h0M602.6 859.1h0M606.4 887.4h0M683.2 744.1h0M589.6 892.7h0M638.4 751.1h0M688.9 789.1h0M636.6 769.3h0M648.7 791.3h0M603.7 886.5h0M560.7 876.4h0M633.7 754.3h0M563 898.6h0M621.4 861.6h0M608.5 727.7h0M636.1 861.6h0M607.8 746.6h0M659.7 740.9h0M592.3 772h0M552.5 869.6h0M557.1 871.9h0M706.8 780.5h0M644.6 739.5h0M668.9 757.4h0M710.4 789.9h0M654.6 825.4h0M565.4 878.4h0M608.9 870.1h0M718 767h0M599.2 728.3h0M685.1 799.8h0M612.5 729.7h0M689.7 766.2h0M649.4 829.9h0M568.9 766.9h0M637.9 754.4h0M564.8 822.5h0M624.4 758.6h0M682.4 748h0M636.1 825.1h0M559.9 883.8h0M666.4 807.4h0M665.4 761.8h0M634.3 774.6h0M593.6 781.3h0M606.1 786.6h0M614.2 800.6h0M604 732.4h0M630.3 880.7h0M617 827h0M508.9 728.8h0M486.5 750.7h0M641.2 802.5h0M557.7 737.7h0M602.1 834.8h0M692.8 789.1h0M456.6 716.9h0M659.7 744h0M674.2 797.3h0M595.5 830.9h0M628.7 780.8h0M565 892.3h0M723.4 763.9h0M585 870.4h0M441.9 715.8h0M597.7 786.2h0M577.6 862.8h0M718.3 786.9h0M546.2 869.3h0M667.9 783h0M612 848.9h0M630.4 837.8h0M524.7 723h0M576.1 903.2h0M615.7 835.4h0M722 790.8h0M628.5 757h0M528.7 718.3h0M720 775.3h0M645.3 803.3h0M540.3 722h0M732.8 762.2h0M667.5 790.4h0M666.4 820.4h0M629.1 840.7h0M587.9 853.5h0M615.8 760.5h0M627.9 737.8h0M653.1 825.1h0M595.5 752.2h0M682.7 781.8h0M562.5 727.8h0M626.2 776.1h0M675.1 759.7h0M749.9 765.1h0M629.3 751.3h0M616.8 769.5h0M571.6 923.9h0M631.8 850.9h0M533.7 746.7h0M645.2 820.2h0M593.1 794.6h0M611.5 901.3h0M462.1 707.4h0M567.9 730.3h0M647.6 752.3h0M610.9 830.4h0M596.4 895.6h0M635.1 783.8h0M671.5 764.4h0M681.6 767.7h0M663.7 806h0M658.3 763.6h0M716.5 772.3h0M548.5 731.9h0M723.2 762.8h0M642.2 824h0M603.3 742.8h0M579 737.9h0M684 789.6h0M667.3 818.8h0M575.3 870.8h0M571.6 856.6h0M665.1 789h0M589.4 872.8h0M665.2 766.5h0M641.8 746.6h0M583.7 758.6h0M645.8 827.6h0M553.2 910.5h0M589.5 822.7h0M572.1 736.5h0M630.5 815.7h0M625.4 780.4h0M554.3 885.3h0M656.6 846.7h0M677.9 745.9h0M584.7 868.6h0M605.3 767.6h0M570.6 897.6h0M646.8 788.4h0M633.4 877.8h0M574.5 797h0M564.5 823.5h0M655 847.8h0M652.8 798.8h0M578.3 878.1h0M714.9 763.6h0M614.9 735.4h0M568.6 907.5h0M583.6 890.5h0M642.9 825.7h0M691.7 746.1h0M468.4 710.3h0M591 906.1h0M646.4 824.1h0M704.4 788.9h0M509.9 715.2h0M620.5 727.2h0M618.6 809.3h0M566.1 830.3h0M653.5 849.6h0M624.7 839.6h0M647.2 862.4h0M638.6 840.9h0M631 783.4h0M548.2 891.9h0M630 736.6h0M587.8 745.2h0M571.8 753h0M626.1 777.3h0M651 833.5h0M655.4 760.9h0M610.5 849.2h0M631.9 870.1h0M687.4 754.9h0M611.3 828.9h0M560.1 731.3h0M563.5 863.5h0M643.5 836h0M684.5 741.3h0M566.1 865.5h0M613.2 809h0M564.5 876.4h0M711 763.8h0M639.4 754.5h0M722.6 772.8h0M626.3 802.9h0M599.1 778.9h0M628.8 878.7h0M546.1 728.9h0M610.1 911.7h0M657.3 751.9h0M572.8 871.9h0M620.2 801.5h0M627.7 855.3h0M654.1 827.5h0M547.8 744.3h0M638.5 866.6h0M537.1 904.5h0M572.2 877.1h0M667.9 814.9h0M684.8 806.8h0M569.7 722.2h0M605.7 773.7h0M689.1 755.1h0M559.1 719.2h0M616.9 821.8h0M555.2 894.3h0M543.2 735.5h0M653 779.6h0M703.6 752.4h0M644.8 804.4h0M678.7 808.2h0M631.7 824.9h0M622.9 798.4h0M683.3 755.9h0M634.2 872.1h0M634.5 737h0M565.5 897.3h0M697.7 815.2h0M644.2 749.8h0M746 777.5h0M662.1 749.9h0M600.1 819.3h0M645.1 799.3h0M581.7 780.7h0M617.6 841.7h0M614.1 854.4h0M710.5 799.3h0M643.1 744.9h0M618.3 857.4h0M674.5 775.1h0M552.9 898.9h0M687.8 812h0M549.8 870.7h0M633.7 760.9h0M583.6 910.1h0M653.5 775.2h0M597 917.8h0M554.7 889.6h0M608.8 815.8h0M665.8 826.2h0M615.6 869.8h0M615 756.6h0M664.5 750.8h0M604.7 845.8h0M578.9 911.4h0M625.2 753.8h0M606.4 854.3h0M614.9 749.9h0M709.8 759.8h0M628.3 814.6h0M608.9 755.8h0M710.6 758.9h0M654.7 838.2h0M600.7 725.6h0M609 843.2h0M701 787.4h0M665.8 775.6h0M595.8 840.2h0M546.7 916.3h0M657.5 782.7h0M656.7 814h0M631.7 810.7h0M550.1 716.5h0M605.5 820.1h0M661 749.6h0M572.8 868.2h0M682.1 831.4h0M642.3 822.7h0M638.3 805.4h0M655.4 861.3h0M649.9 740.1h0M644.3 770.3h0M622.9 819.9h0M659.2 769.2h0M612.1 732.8h0M605.3 851.6h0M643.5 848.3h0M675.1 851.5h0M623 843.6h0M623.8 796.1h0M719 762.3h0M538.6 745.4h0M724.2 777.2h0M711.4 757.7h0M571.1 898.8h0M526.6 714h0M706.6 748.8h0M662.4 804.2h0M661.2 780.6h0M698.1 794.2h0M593.4 915.5h0M600.2 828.8h0M591.5 732.4h0M704.1 745.6h0M614.4 730.2h0M606.2 849.6h0M573.1 904.9h0M594.1 837.2h0M544.4 824.3h0M610.2 850.2h0M714.9 757.8h0M680.8 783.1h0M683.6 787.7h0M642.4 789.7h0M627.1 755.9h0M592.5 800.1h0M581.7 874.1h0M635.9 840.8h0M644.6 807.4h0M630.8 739.1h0M587.5 800.3h0M622.4 791.5h0M587.1 865.8h0M670.5 739.4h0M651.4 822.7h0M517 763.6h0M656.5 738h0M506.3 714.1h0M614.4 739.9h0M645.9 759.5h0M547.1 824h0M489.7 745.7h0M636.9 859.7h0M570.9 920.5h0M743.7 761.2h0M663.1 813.7h0M699.1 787.5h0M646.1 850.9h0M648.7 851.8h0M608.5 753.3h0M582.1 923.3h0M582.1 732.4h0M574 890.5h0M509.4 757.3h0M603.1 895.1h0M574.6 897h0M624 880.6h0M644.1 840.3h0M686.3 792h0M695.8 817.5h0M603.5 759.1h0M631.5 799.6h0M636 756.4h0M712.2 809.7h0M624.3 864.8h0M659.8 845.7h0M682.1 779h0M708.2 753.6h0M588.7 789.7h0M727 773.7h0M563.6 814.1h0M714.4 753.3h0M581.3 875.2h0M681.9 783.1h0M605.6 753.5h0M676.7 774.3h0M647.6 786.8h0M635.3 809.1h0M660.3 798.6h0M446.9 705.1h0M603.3 843.3h0M687.2 794.7h0M617.7 868.3h0M592 854.3h0M557.5 921h0M649.9 799.9h0M678 793.1h0M645.8 785.5h0M472.1 721h0M658 826h0M592 913.3h0M563 875.3h0M532.8 889.6h0M645 767.6h0M554.9 905h0M602.5 857.9h0M607.9 862h0M654.8 787.5h0M498.5 727.8h0M523.3 790.6h0M574.4 737.4h0M655.7 792.4h0M594.2 909.2h0M586.9 871.3h0M641.9 814.8h0M634.9 881.8h0M597.7 906h0M600.4 748.2h0M466.9 717.3h0M602.1 817.6h0M653.5 796.9h0M654.9 756.5h0M583.8 762.4h0M608.3 736.1h0M512.1 780.8h0M615.8 739.7h0M704.6 774.5h0M514.1 740.3h0M695.4 804.4h0M654.5 815.6h0M583.2 897.5h0M473.5 726.2h0M657.8 838.6h0M676.3 759.8h0M712.8 797.6h0M602.6 849.3h0M620.7 791.6h0M481.4 731.1h0M598.1 858.9h0M596.8 853.6h0M601.4 829.8h0M567.3 901h0M594.2 883.9h0M579.4 899.9h0M591.7 791.1h0M530.2 762.2h0M610.9 886.7h0M657.2 753.3h0M520.5 723.8h0M575.4 817.6h0M606.3 827.1h0M501.4 716.3h0M635.8 835.9h0M593.9 735h0M566.2 722.6h0M554.8 901.9h0M573.2 836.2h0M673.2 741.9h0M582 774.1h0M632.4 814.8h0M475.1 713.2h0M645.8 749.5h0M694.2 800.1h0M551.2 869.4h0M581 751.4h0M560.3 750.4h0M646.6 786.7h0M593.9 897.6h0M640.5 854.9h0M647.7 792h0M514.5 780.6h0M731.5 763.5h0M491.3 716.7h0M630.3 812.4h0M559.3 750.9h0M595.1 890h0M595.5 740.5h0M574.4 748.9h0M653.1 756.4h0M628.9 836h0M692.6 815.9h0M604.5 858.4h0M520.5 718.6h0M633.3 773.5h0M617.2 890.8h0M596.1 810.5h0M597.6 838.5h0M515.2 787.5h0M526.2 742.5h0M576.7 897.3h0M547.4 893.1h0M648.8 784.6h0M673.5 793.8h0M631.3 751.5h0M609.8 786.1h0M590.9 922.5h0M680.6 798h0M658.1 847.5h0M579.6 881.5h0M557.3 924.2h0M633.3 869.1h0M681.4 748.6h0M665.2 786.1h0M566.1 742.6h0M662.9 782.7h0M720.5 784.9h0M476.4 730.1h0M578.8 852h0M554.4 841.2h0M694.8 785.1h0M636.9 787.7h0M666.8 746.7h0M730 767.5h0M602.6 908.1h0M691.5 777.7h0M733.8 771.4h0M618.2 851.6h0M598.6 843.9h0M665.1 748h0M673.7 753.7h0M624.5 791.4h0M695.9 786.2h0M462.8 737.1h0M657 796.5h0M677.5 771.9h0M580.3 872.4h0M554.4 762.9h0M691.8 772.7h0M532.3 777.3h0M665.2 759.9h0M646.3 865h0M665.5 749.6h0M582.3 736.8h0M585.4 919.2h0M506.7 715.1h0M564 727.5h0M734.9 766.2h0M607.5 791.9h0M665.7 811.7h0M622.5 857.2h0M662.6 776.2h0M693.7 772h0M578.1 899.5h0M699.9 794.4h0M427.9 709h0M620.2 733.1h0M513.8 774.2h0M732.4 755.8h0M565.8 898.5h0M701.1 811.6h0M598 907.3h0M535.3 743.6h0M569.7 869.2h0M653.3 735h0M626 747.8h0M656.9 741.3h0M695.3 745.9h0M676.7 743.5h0M557.8 908h0M623.3 803.2h0M660.7 744.4h0M605.9 848h0M609.8 780.8h0M601 840.5h0M683.2 749.5h0M580.9 864.3h0M591.1 901.5h0M596.4 726h0M702.9 789.5h0M639.6 868.1h0M605.6 837.3h0M646.2 753.4h0M667.2 751h0M648.6 753.1h0M590.2 791.9h0M707 808.6h0M600.3 733.1h0M565.9 870.6h0M608.7 790.2h0M616 886.9h0M623.9 844.5h0M581.4 866.5h0M569.8 861.8h0M628 873.8h0M556.7 726.4h0M673.1 812.8h0M612.4 727.7h0M599.3 909.7h0M666.9 824.3h0M640.1 828.8h0M676.4 767.5h0M634.2 735.6h0M674.3 757.5h0M433.8 706.8h0M708.9 794.3h0M634.4 866.8h0M547.8 721.5h0M637.3 785h0M563.1 887.2h0M689.3 760.4h0M614.2 844.3h0M704.7 775.7h0M634.1 827.1h0M613.7 892.2h0M698.2 780.6h0M652 772h0M649.5 855.7h0M621.9 880.8h0M620.4 835.7h0M575.5 923.9h0M566 920.9h0M507.8 720h0M625.9 874.5h0M575.7 895.8h0M628.3 739.6h0M550.5 854.1h0M635.7 796.3h0M556.8 756.3h0M606.9 822.8h0M537.2 907.7h0M560.4 923.6h0M667 797.3h0M651.4 740.3h0M510.4 766.1h0M543.7 908.3h0M626 752.9h0M648.5 739.1h0M611.2 845.6h0M698.9 754.5h0M619.2 787.4h0M666.2 794.7h0M624.5 757.6h0M672.5 831.8h0M551.1 817.3h0M623.2 882.4h0M650.6 768.9h0M704.8 786.4h0M627.2 823.9h0M604.5 765.6h0M604.2 864.5h0M698.5 790.1h0M558.4 876.3h0M591.5 889.7h0M671.4 822.7h0M560.3 749.2h0M592.6 873.8h0M646.1 855.7h0M556.6 749.1h0M636.6 848.4h0M580.9 729.8h0M607.3 825.7h0M602.4 855.2h0M586.2 868.2h0M502.1 729.2h0M623.4 839.6h0M588.1 723.7h0M573.7 734.8h0M602.6 848.1h0M517.3 712.5h0M560.9 890.2h0M700.1 788.2h0M589.4 772.6h0M590.7 743.3h0M618.8 739.4h0M613.6 850.7h0M670.5 770.5h0M703.9 795.2h0M575 884h0M655.9 824.8h0M660 742h0M641.6 792.2h0M673.2 833.5h0M658 749.5h0M601.8 754h0M465.1 709.9h0M721.1 779.2h0M576.3 927.8h0M654.8 835.9h0M609 814.1h0M606.4 802.4h0M600.4 768.6h0M633.5 860h0M706.4 797.2h0M694.6 811.1h0M543.2 768h0M710.1 771h0M639.3 821.4h0M742.7 757.9h0M654.8 796.1h0M678.6 765.9h0M600.2 786.4h0M681.8 780.2h0M678.6 750.5h0M665.1 783.4h0M654.4 822.4h0M626.9 837.6h0M637.2 757.9h0M661.9 835h0M558.1 928.4h0M733 769.8h0M660.7 800.7h0M554.7 917.3h0M557.1 849.4h0M595.8 904.3h0M465.1 713.6h0M710.3 755.7h0M585.3 865.5h0M537.2 799.8h0M521.9 772.8h0M610.8 788.4h0M643.5 776.1h0M672.9 801.1h0M527.1 778.2h0M644.6 857.4h0M598 803.6h0M630.7 802.1h0M565.8 883.1h0M635.5 885.1h0M605.9 760.2h0M625.3 871.2h0M630.4 751.9h0M590.7 855.7h0M550 808.2h0M598.5 741h0M619.9 828.4h0M690.8 813.3h0M541 907.5h0M600.4 902.5h0M618.6 752.8h0M553 741.8h0M639.5 786.2h0M658.8 758.3h0M658.6 761.8h0M615.2 783.8h0M627.5 836h0M596.6 834.3h0M601.2 823.4h0M672.1 788.8h0M619.4 877.7h0M657.6 750.7h0M725.7 779.8h0M673.8 778.9h0M648.3 825.9h0M623.3 790.9h0M710.1 778.9h0M691.9 769.2h0M651 759h0M492 731.4h0M646.7 803.6h0M705.5 757.3h0M610.1 888.6h0M637.3 803.9h0M547 928.4h0M646.6 847.6h0M604.7 843.1h0M636.3 790.8h0M696.1 764.9h0M562.8 883.8h0M644.1 769.1h0M662.2 830.1h0M710.4 766.4h0M687.5 800.2h0M642.5 811.6h0M624.4 763h0M549.5 910.4h0M621.3 857.2h0M571.5 917.2h0M588.1 778.1h0M626.7 826.8h0M578.6 874.5h0M618.2 866.5h0M561.8 760.3h0M568.6 876.1h0M715.1 786.7h0M643.3 752.7h0M680 793.6h0M611.7 745h0M602.9 733.8h0M603.4 747.5h0M465.8 729.1h0M699.3 771.9h0M620.3 809.5h0M656.9 792.7h0M573.3 898.7h0M553.5 884.3h0M651.1 811.9h0M592 729.7h0M579.2 904.3h0M633.3 844.6h0M671.1 786.2h0M713.3 772.2h0M660.7 748.1h0M641.4 744.6h0M620.9 829.3h0M563 749.6h0M644 743.2h0M632.2 749.8h0M625.5 844.1h0M630.8 804h0M612.1 741.7h0M636 879.9h0M630.8 748.2h0M647.5 844.9h0M611.1 852.7h0M600.1 781.3h0M638.3 816.6h0M670.2 826.7h0M618.1 845.7h0M652.8 842h0M594.5 910.2h0M719.6 796.2h0M556.5 867.6h0M614.9 820.7h0M476.3 712.5h0M571.8 739.8h0M641.3 793.7h0M659.2 830.3h0M632.6 795.2h0M627.1 789.7h0M586.9 896.8h0M499.6 723.3h0M691.7 756.8h0M545.7 895.9h0M623 750.2h0M598.7 908.1h0M710.3 767.7h0M563.8 843h0M670.6 830.3h0M716.3 784.3h0M694.4 754.2h0M598 734.6h0M634.7 884.5h0M576.3 901.5h0M583.7 902.1h0M696.8 770.2h0M675.6 810.6h0M542.4 885.6h0M648.6 794.9h0M623.5 850.7h0M657.7 804.4h0M622.4 825.5h0M665 791.4h0M634.7 760h0M599.8 801.5h0M677.4 820.9h0M585.5 893.7h0M668.6 737.7h0M625.7 756.7h0M604.4 778.4h0M663.3 790.2h0M580.1 737.9h0M590.8 877.4h0M629 874h0M645.5 734.8h0M676 826.6h0M600.2 809.5h0M540.7 724.2h0M594.2 759h0M559.2 865.7h0M748.3 760.7h0M544 846h0M546.5 888.5h0M621.1 842.9h0M536.9 740.4h0M645.3 742.5h0M582.2 856.3h0M660.8 825.6h0M647.2 769.6h0M699.4 774h0M603.6 836.3h0M599.2 918.7h0M638.4 797.9h0M603.6 779.3h0M576 892.1h0M656.1 829.7h0M654.7 828.8h0M566.9 890h0M575.8 742.9h0M609.5 875.2h0M535.9 897.2h0M620.4 778.7h0M539.6 910.4h0M637 736h0M551.8 879.3h0M669.9 749.1h0M619.6 834.7h0M677 770.4h0M608.1 856.4h0M642.1 767.3h0M534.7 718.2h0M689.2 751.4h0M623.8 824.9h0M615.1 874.9h0M564.1 730.1h0M551.1 880.2h0M618 875h0M612 870.1h0M673.7 827.3h0M600.4 792.5h0M692 782.6h0M734.7 753.8h0M590.1 749.9h0M636 834.1h0M554.9 908.4h0M600.8 755.8h0M609.8 883.7h0M540.1 872.8h0M561.5 897.1h0M564.7 807.6h0M553.3 736.6h0M715.6 769.4h0M620.9 840.4h0M628.5 745.9h0M537.2 818.7h0M592.3 751.3h0M671.4 802.3h0M623.7 814.7h0M698.7 746h0M570.3 927.4h0M446.8 709h0M611.3 890.2h0M724.4 760.9h0M617.7 849.3h0M594.6 733h0M649.3 833.2h0M662.7 741h0M605.4 899.3h0M616.7 840.2h0M629.2 852.8h0M582.5 757.1h0M607.4 836.7h0M470.2 722.3h0M709.4 803.5h0M679.5 744.9h0M691.9 797.2h0M641 764.3h0M562 722.2h0M635.8 770.2h0M638.8 741.3h0M718.5 756h0M607.4 819h0M546 907.8h0M531.9 908.6h0M657.8 825h0M724.1 767.1h0M527.3 909.5h0M713.9 758.4h0M516.7 756.6h0M575.3 867.8h0M652 830.3h0M615.9 849.9h0M613.2 764.9h0M639.1 739.2h0M570.6 911.2h0M732.1 754.2h0M589.7 889h0M707.3 788.2h0M543.4 873.2h0M553.4 732.6h0M609.7 887h0M548.1 895.4h0M710.8 801.3h0M593.2 914.4h0M582.8 753.7h0M633.1 763.3h0M591.6 857.8h0M629 768.2h0M628.8 735.4h0M599.5 904.8h0M607.6 766h0M549 734.3h0M642.9 840.2h0M581.9 746.1h0M529.1 722.6h0M564.8 865.4h0M554.6 783h0M673.6 816.1h0M522.4 771.1h0M662.2 758.3h0M599.7 906.2h0M606.4 755h0M725.8 790.9h0M647.4 749.4h0M712.2 808.3h0M643.2 826.9h0M642.9 852.3h0M575.6 861.7h0M553.1 843.5h0M614.2 866.2h0M604.3 767.6h0M691.8 759.5h0M470.4 712.3h0M671.9 766.9h0M678.4 794.5h0M594.6 749.4h0M676.6 740.7h0M626.5 836.1h0M667.7 762.3h0M688.3 786.6h0M615 790h0M647.2 809h0M628.1 794.6h0M592.1 724.7h0M636.4 844.7h0M547.7 813.9h0M678.2 788.2h0M643.9 757.6h0M604.7 746.6h0M590.4 891.4h0M625.4 736.8h0M675.6 750.7h0M696.7 807.8h0M668.5 773.6h0M554.4 871.5h0M636.6 835h0M578.4 773.4h0M593.6 839.8h0M650.8 755.9h0M583.4 871.7h0M586.4 885h0M632 834.4h0M501.8 720.5h0M718.2 753.5h0M679.5 760h0M557.2 721h0M624 798.1h0M683.4 772.4h0M699.4 805.3h0M624.7 825.6h0M632 880.5h0M602.7 846h0M692.3 791.6h0M550.5 891.7h0M531.4 895.6h0M485.1 749.7h0M639.7 809.6h0M642.1 781.8h0M688.2 805h0M656 750h0M657 840.9h0M603 794.2h0M708.9 788.9h0M679.4 769.8h0M644.7 778.2h0M592.2 908.9h0M614.6 814.4h0M509.4 778.2h0M638.4 808.7h0M672.4 773.6h0M680 849.3h0M595.9 924.7h0M560.9 916.7h0M585.1 912h0M587.7 840.7h0M562.8 910.1h0M669.9 751.2h0M650.8 743.4h0M595 895.1h0M695 780h0M569.4 908.1h0M720.4 797.3h0M680.2 777.2h0M585 742.3h0M661.8 807.1h0M647.2 736.8h0M627.9 826.3h0M673.8 785.8h0M652.6 812.6h0M673 760.2h0M593 765.7h0M662.5 809.7h0M634 878.8h0M555.5 806.6h0M618.6 816.8h0M664.8 832.7h0M715.1 789h0M665.2 778.6h0M531.6 720.3h0M583.6 904.5h0M682.8 742.5h0M560.6 808.1h0M626 760.4h0M639.4 738.2h0M591.5 895.8h0M664.6 737.1h0M653.7 856.9h0M733.1 753.6h0M592.4 759.2h0M538 722.1h0M645.4 796.1h0M564.3 874.3h0M597.4 850.5h0M705.7 801.5h0M626.9 762.8h0M611.4 877.5h0M673.6 771.6h0M599.2 886.4h0M547.2 817.4h0M671 814.4h0M587 803.8h0M544.3 893.9h0M534.2 719.5h0M603.2 810.5h0M645 746.1h0M600.9 905.2h0M628.4 785.7h0M695.3 797.1h0M652.6 758.7h0M571.2 876.4h0M596.7 863.1h0M641.5 835h0M538.1 732h0M553.8 758.1h0M647 747.4h0M597.1 826.4h0M603.6 898.7h0M664.1 756.3h0M674.6 821.5h0M617.2 855.8h0M694 783.1h0M576.6 748.4h0M701.4 745.7h0M608 740.6h0M549.9 864.8h0M512.8 733.9h0M549.3 886.8h0M601.3 900h0M538.1 823.6h0M661.4 810.4h0M625.7 795h0M692.6 798h0M628.9 858.7h0M614.3 827.4h0M671.5 793.2h0M563.2 798.6h0M572.6 930.7h0M554.1 870.2h0M693.8 796h0M619.6 880.8h0M569.8 914.4h0M705.4 793.7h0M574.2 718.6h0M658.1 830.4h0M594.3 886.8h0M625.1 729.4h0M663.3 795h0M474.9 707.3h0M585.5 909.6h0M729.9 751.9h0M639.9 866.9h0M577.6 727.5h0M456.6 714.4h0M609.3 736.6h0M671.9 801.1h0M625.6 827.7h0M677.3 773.2h0M602.2 739.1h0M634.6 849.2h0M588.2 746.2h0M571.4 860.6h0M632.3 829.9h0M603.8 839.9h0M610.8 896.1h0M687.9 808.8h0M639.9 818.1h0M526.7 729.3h0M674.1 832.6h0M656.4 801.7h0M643.1 816.3h0M478.4 709h0M618.6 747.2h0M593.6 746.4h0M598.2 910.1h0M713.4 788.3h0M601.1 836.1h0M655 776.4h0M695.9 795.9h0M651.1 744.6h0M571.9 918.7h0M707.5 760.2h0M691.2 780.9h0M590.8 767.7h0M596.6 764.3h0M652 805.2h0M612.5 833.3h0M605.9 860.6h0M681.4 763.2h0M591.2 927.4h0M581.5 903h0M583 877.5h0M586 730.9h0M550.3 754h0M577.1 881.4h0M669.7 797.1h0M664 816.7h0M631.6 774.1h0M608.7 879.3h0M583.3 787.9h0M601.1 776.4h0M706.5 799.3h0M605.3 915h0M699.3 766.6h0M656.4 808.8h0M588.8 893.9h0M617.8 820.1h0M719.8 765.9h0M592.4 897.8h0M626.1 793.2h0M651 809.9h0M549.4 804.4h0M555.7 885.9h0M722.8 779.7h0M659.3 802.8h0M622.7 786.2h0M683.7 753.6h0M595.3 912.3h0M635.4 802.2h0M610 882.5h0M669.5 760.9h0M573.4 901.6h0M458.2 726.7h0M617.9 744.5h0M635.2 859.7h0M563.5 734.5h0M683.7 811.3h0M495.4 716.8h0M570.6 778.5h0M590.5 774.8h0M710.1 784.1h0M713.8 760.8h0M584.1 846h0M639.2 765.5h0M627.6 744.6h0M483.9 714.3h0M590.3 816.6h0M599.9 763.7h0M627.7 816.8h0M648.4 836.7h0M535.7 794.6h0M531.3 721.3h0M622.4 866h0M652 780.2h0M578.5 909.4h0M538.6 791.3h0M706.5 771.9h0M570.4 771.8h0M675.9 778.2h0M730.8 782.1h0M631.7 762.7h0M690.4 768.5h0M635 754h0M664.4 784.9h0M552.4 738.6h0M604.9 814.6h0M571 879.6h0M644.9 797.2h0M716.5 767.3h0M581.8 892.1h0M613.9 867.4h0M538.7 714h0M691.5 799.6h0M624.9 782.5h0M631.5 778h0M711.9 751.3h0M496.2 760.4h0M624.5 859.2h0M624.2 832.8h0M497.6 800.2h0M660.6 757.3h0M561.7 813.3h0M665.9 828.9h0M625.7 743.3h0M625.7 857.2h0M679.2 792.6h0M508.6 725.7h0M542 806.4h0M723.9 758.9h0M574.9 886.5h0M654.3 817.1h0M462.1 718.6h0M612.5 850.3h0M542.2 714.9h0M541.5 802.9h0M613.2 744.8h0M560.6 864.5h0M578.1 803h0M563 901.2h0M586.2 847h0M630.1 822.6h0M596.5 770.1h0M653.1 836h0M680.9 741.7h0M630.3 730.4h0M621.7 782.7h0M469.7 711.5h0M663.5 737.2h0M548.3 882.1h0M633.8 749.1h0M702.6 770.6h0M592.8 743.4h0M677.1 785.3h0M645.1 795h0M737.1 754.9h0M672.6 825.1h0M603.1 772.9h0M579.2 722.4h0M637.7 759.5h0M607.2 844.2h0M629.5 784.9h0M638.7 855.4h0M609 758.4h0M516.3 721.2h0M582 864.4h0M599.8 914.7h0M634.4 733.8h0M577.6 783.5h0M683 801h0M661.5 741.6h0M726 776.1h0M648.6 806.2h0M628.2 784.1h0M660.7 786.2h0M655.9 843.5h0M465.1 714.8h0M571.6 866.6h0M635.2 871.6h0M458.1 716.2h0M547.9 796.8h0M641.1 776.9h0M535.4 737.8h0M576.2 904.8h0M632.8 862.9h0M559.5 861.6h0M529.5 793.2h0M573.3 866.7h0M703.9 772.4h0M603.2 905.5h0M589.5 869.7h0M620.6 761.3h0M625.7 790.6h0M634.9 841.4h0M642.1 743.5h0M615.1 861.8h0M632 765.6h0M649.1 786.1h0M620.8 745.7h0M600 765.7h0M667.3 782.1h0M644.8 871.8h0M716.9 785.7h0M601.1 831.1h0M608.1 889.1h0M651.1 746.5h0M596.1 833.2h0M601.3 859.6h0M532.7 899.3h0M646.6 806.5h0M643 849.3h0M659.5 812.1h0M667.4 768.2h0M706.8 782.6h0M516.3 796.1h0M647.1 850.7h0M610.7 843.6h0M558.5 798.2h0M627.4 753h0M534.5 890.5h0M700.1 801.8h0M658.5 740.2h0M577.9 864h0M640.5 829.9h0M632.2 748.5h0M728.4 769.6h0M647.2 734.6h0M493.8 741.1h0M584.7 876.2h0M495.9 720.8h0M635.6 769.2h0M586.4 874h0M658.6 858.5h0M580.3 721.5h0M677 790.8h0M678.2 799.9h0M522 725.6h0M641.2 844.4h0M665.9 821.3h0M620.9 807h0M618.6 781.9h0M596 850h0M602.3 811h0M625.4 876.5h0M707.4 767.1h0M650.8 841.6h0M519.5 779.6h0M609.6 753h0M672.3 792h0M476 747.8h0M690.3 756h0M552.5 896.4h0M601.8 856.1h0M678.7 798.5h0M551.1 742.9h0M664.2 758.9h0M670.4 772.3h0M615.4 846.1h0M714.2 748.4h0M545.4 880.1h0M734.4 765h0M632.9 872.5h0M690.2 748h0M681 779.2h0M609.6 822.4h0M629.7 838.5h0M586 765.7h0M716.9 798.5h0M530.6 722.6h0M486.8 766h0M594.2 841.6h0M633.9 822.8h0M597.1 897.1h0M561.4 885.2h0M726.2 772h0M545.3 904.6h0M539.3 765.6h0M609.5 759.5h0M621.4 808.8h0M650.1 735.5h0M480.1 709.2h0M489.1 726.2h0M639.7 855.5h0M596.2 857.2h0M487.7 717.9h0M536.8 804.6h0M552.3 739.9h0M614.8 755.6h0M627.8 806.1h0M563 723.6h0M692 787.3h0M739.8 760.7h0M599 846h0M558.5 892.3h0M612.2 809.5h0M629.3 779.9h0M532.5 794.6h0M664 815.3h0M639.6 750h0M575.1 903.4h0M565.6 721.5h0M675.8 814.2h0M600.1 859.5h0M585.7 795.8h0M621.4 883.7h0M560.9 744.9h0M633.3 751.3h0M724.9 785.7h0M616.9 837.1h0M592.5 879h0M703.3 804.5h0M675.5 739.6h0M664.3 772.5h0M451.4 710.9h0M569.9 895.7h0M567.7 902.4h0M723.9 752.2h0M557.8 728.1h0M629.4 862.3h0M686.2 751.1h0M600.4 750.9h0M628 749.5h0M613.5 901h0M689.5 802.8h0M567.2 723.3h0M621.3 868.3h0M587.4 771.5h0M711.7 777.1h0M558 884.1h0M634.7 738h0M655.5 753.3h0M633.4 778.8h0M583.2 739.7h0M626.5 808.6h0M644.8 773.3h0M657.9 746.1h0M598.7 859.8h0M594.5 758h0M611.7 753.1h0M670.9 788.9h0M679 809.5h0M563.9 912.4h0M626.2 732.7h0M650.9 848.6h0M566.8 874.4h0M583.3 749.2h0M689.4 793.9h0M625.7 764h0M702.1 752.6h0M506.2 736.9h0M616.5 743.3h0M637.1 837h0M607.7 903.6h0M616.8 861h0M564.6 902.1h0M584.9 860.9h0M627.4 728.6h0M734 763.1h0M620.6 765.6h0M725.8 786.4h0M686 757.2h0M519.9 906.7h0M621.3 799.1h0M598.6 892.8h0M636.7 822.1h0M451 723.5h0M672.2 814.3h0M678.8 743.1h0M671.2 768.9h0M548.7 904.9h0M624.6 882.7h0M604.4 742.1h0M589.1 912.7h0M625.9 864.1h0M709.6 777.8h0M596.2 807.7h0M593.6 738.5h0M582.7 778.9h0M590.8 843.1h0M622.3 788.8h0M620.2 864.1h0M540.5 886h0M616.4 726.9h0M613.9 807.8h0M623.5 748.2h0M715.4 756.1h0M597.8 762.8h0M721.7 755.4h0M634.2 846.5h0M623.9 773.2h0M565.5 855.4h0M699.9 809.1h0M604.7 891h0M716.7 759.8h0M606.7 782.7h0M659.5 776h0M548.3 898.1h0M510.9 778.4h0M568.5 785.7h0M561.8 726.7h0M554.6 896.8h0M526.3 913.9h0M661.5 776.2h0M605.5 888.8h0M683.9 755h0M574.4 908.6h0M595.3 767.4h0M650.2 751.7h0M584.2 921.8h0M607.4 878.5h0M512.6 805.1h0M618.8 727h0M611.6 878.8h0M621.4 846.5h0M577 886.8h0M594.8 754.9h0M584.4 850.8h0M610.9 861.6h0M641.5 757.5h0M638.3 844.9h0M621.4 820.5h0M557 926.6h0M553.5 886.2h0M646.2 812.8h0M594.8 914.1h0M677.6 743.1h0M621.3 792.7h0M502.4 744.2h0M635.9 798.7h0M504 723.9h0M707 790.7h0M593.5 728.5h0M629.5 753h0M648.4 824.6h0M654.9 748.1h0M588.1 768.2h0M650.8 796h0M641.5 762.1h0M633.5 791.1h0M646.9 813.6h0M582.3 795.9h0M595.1 808.2h0M722.9 757.9h0M648.6 811.3h0M706.3 754.4h0M497.1 742.7h0M620.4 827h0M455.3 714h0M627.5 799.7h0M723.8 788.1h0M567.1 768.1h0M560.3 718.8h0M629.6 741.9h0M521.7 719.9h0M681.6 765.9h0M641.3 822.4h0M613.2 902.7h0M527.7 903.8h0M581.9 823.2h0M713.4 757.4h0M593.5 868.9h0M656.1 806.1h0M666.1 752.7h0M515.6 723.3h0M633.3 767.2h0M671.9 803.4h0M675.2 748.9h0M712.3 779.6h0M551.5 739.1h0M655.6 814.9h0M573 741.3h0M507 766.8h0M655.3 789.7h0M493.7 722.9h0M704.7 756.5h0M551.5 905.8h0M608 800.5h0M563.1 871.9h0M656.8 759h0M588.3 774.2h0M637.8 735.4h0M693.2 820.3h0M634.7 770.6h0M576 841.6h0M668.3 742.8h0M652.9 763.2h0M646.4 784.5h0M635.7 811.8h0M662.8 753.4h0M605.6 838.6h0M610.1 760.6h0M552.7 730.3h0M641.8 825.3h0M585.9 832.9h0M663.7 792.4h0M564 719.7h0M668.5 769h0M587.8 795.6h0M661 738.8h0M661.9 786.7h0M591.7 730.9h0M607.4 805.6h0M600.4 774.3h0M668.7 816.7h0M629.4 783.9h0M570.3 906.8h0M601.1 858.5h0M544.5 876.2h0M615 832.6h0M619.4 858.5h0M656.8 802.9h0M675.8 796.2h0M606 842.9h0M652.9 827.6h0M669 743.7h0M622.1 863.9h0M626.7 743.6h0M670.4 748.2h0M692.2 808.3h0M728.6 779.3h0M707.7 747.1h0M563.8 771.7h0M710.5 781.2h0M575.2 899.2h0M655.2 854.4h0M580.3 724.9h0M583.3 859.4h0M615.7 827.1h0M581.7 861h0M597.4 864.8h0M659 748.6h0M626.2 782.8h0M478.4 749.3h0M584.5 832.2h0M654.9 783.9h0M600 922.6h0M524.5 729.6h0M692.2 754.4h0M686.8 776h0M617 828.1h0M642.2 778.7h0M576.1 753h0M597.3 773.3h0M591.2 770.3h0M707.4 789.6h0M662.7 772.6h0M610.8 754.1h0M690.2 792.9h0M591.7 800.8h0M565.4 864h0M501.2 713.6h0M555.4 729.9h0M570.4 728.5h0M480.4 715.5h0M596.3 880.4h0M588.4 722.3h0M618.2 879.2h0M547.6 715.9h0M686.5 826.7h0M546.8 919.9h0M525.9 744.6h0M659.1 817.5h0M616.8 754.9h0M647.7 807.7h0M631.8 861.6h0M629.7 856.1h0M630.5 743h0M665.5 818.6h0M609.4 743.6h0M716.8 789.6h0M693.8 773.5h0M656.1 783.6h0M610.8 736.2h0M582.7 909.2h0M604.9 784.5h0M640.8 821h0M632.5 774.9h0M663.1 749.4h0M587.8 731.1h0M708.3 758.2h0M511.6 782.1h0M564.6 755.6h0M537.4 730.1h0M565.7 879.5h0M556.3 724.9h0M583.7 848.3h0M505.1 717.2h0M661.5 799.3h0M591.8 915.1h0M671.5 820h0M683.2 830.3h0M533.2 885.2h0M690.5 820.7h0M674.2 810.1h0M615.3 753.7h0M558.6 894.2h0M571.7 863.4h0M726.1 757.2h0M617.2 847.7h0M739.7 755.5h0M618.4 886.9h0M611.2 757.1h0M706.2 750.3h0M674.9 799.3h0M668.8 747.8h0M637.3 744.4h0M658 835h0M662 748h0M526.2 746.2h0M632.2 731.4h0M550.1 894.5h0M652.1 737.5h0M663 822.1h0M595.5 916.7h0M634.2 847.7h0M673.8 756.1h0M639 802.6h0M542.4 891.9h0M495.1 714.5h0M551.5 902.5h0M586.3 764.4h0M689.5 767.9h0M714.8 798.9h0M695.1 800.6h0M579.4 901h0M609.2 803.7h0M614.2 841.5h0M681.6 816.4h0M554.7 726.1h0M567.8 883.7h0M567.8 895.8h0M539.9 901.3h0M591.3 828.2h0M481 708.1h0M557.9 790h0M610.1 817.3h0M657.4 813.2h0M517 719.4h0M594.2 849.1h0M644.3 731h0M646.9 841.9h0M507.7 717.8h0M685.9 770.9h0M641.7 842.1h0M665.6 743h0M563.4 896.5h0M573.2 877.5h0M593.7 881.3h0M549.2 728.7h0M679 818.6h0M587.6 783.4h0M620.2 774.7h0M633.7 814.4h0M508.9 749.7h0M602.7 749.4h0M569.7 750.6h0M673.3 775.2h0M560.3 828.7h0M603.5 907.6h0M625.6 772.5h0M452.1 719.3h0M720.7 749.7h0M632.6 777.6h0M655.5 803.1h0M630.9 883.6h0M455.5 710.9h0M568 913.2h0M668.9 781.7h0M676.4 739.2h0M633.4 895.6h0M655 846.4h0M575.6 881h0M684 827h0M481.3 719.3h0M559.6 738.7h0M630.1 809.9h0M549.8 889.7h0M663 807.1h0M590 856.8h0M494.2 746.8h0M521.9 738.2h0M638.9 831h0M653.5 848.3h0M632.4 780.2h0M666.7 796.2h0M637.9 810.1h0M680.1 779.7h0M533.1 908.4h0M487.6 727.2h0M542.2 914.5h0M641.1 755.4h0M564.6 893.5h0M574 831.6h0M672.8 818.7h0M633.4 730.9h0M564.2 906.7h0M484.1 727.4h0M569.7 738.3h0M666.2 816.9h0M560.9 737.5h0M674.1 741.4h0M484.1 720h0M714.9 782h0M720 791.6h0M595 834.9h0M579.4 779.8h0M638.3 871.2h0M640 739.9h0M595.3 745.7h0M630.2 787.6h0M598.9 795.3h0M545.4 889.3h0M542.7 722h0M557.8 906.6h0M557 905.5h0M601.7 887.4h0M627.3 773.5h0M587.1 898.9h0M647.9 772.3h0M593.7 772.6h0M568.3 797h0M636.7 831.2h0M547.8 883.1h0M723.6 783.7h0M616.5 749.1h0M669.8 822.6h0M635.7 883.2h0M634.6 763.1h0M623.9 872.8h0M593.3 775.6h0M612.2 876.7h0M634.7 766.3h0M500.6 718.3h0M647.6 866.3h0M679 763.3h0M655.2 744.9h0M568.6 748h0M563.6 873.1h0M665.8 788.2h0M700.9 784.8h0M681.5 786.7h0M627.9 850.4h0M597.6 872.7h0M513.7 720.4h0M632.8 790.1h0M677 763h0M558.9 873.2h0M626 768.6h0M648.1 754.6h0M615.2 815.6h0M719.9 770.9h0M679 787.5h0M555.6 720h0M598.4 811.9h0M548.3 908.1h0M695 752h0M578.3 732.3h0M502.6 711.9h0M555.1 928.5h0M654.7 834.4h0M575.5 763.1h0M563.2 744.5h0M560.5 904.7h0M734.6 779.2h0M652.9 862.6h0M644.7 846h0M533.7 913.9h0M547.7 911.6h0M586.4 735h0M580.4 863.3h0M603.4 824.3h0M551.2 849.2h0M631 806.9h0M643.9 821h0M649.6 821.3h0M614.5 817.9h0M558.6 916.8h0M604.9 863.6h0M714.5 772.6h0M687.5 810.7h0M601.8 903.1h0M582 739.3h0M612.5 855.3h0M443.4 711.9h0M516.3 764.6h0M677.7 827.3h0M576 845.3h0M630.6 862.7h0M616.8 876.1h0M629.6 731.1h0M604.5 838.1h0M593.4 849.8h0M565 884.9h0M648.3 740.1h0M455.3 718.8h0M730.4 779.2h0M548.2 901.7h0M650.3 761.8h0M677.8 802.5h0M598.2 788.3h0M620.3 858.9h0M622 886.6h0M627.5 802h0M605.1 802.3h0M638.7 743.8h0M628.8 738.5h0M596.3 784.9h0M616.6 788.1h0M722.2 781.4h0M702.8 785.6h0M634.1 820.1h0M619.4 729h0M553.4 899.8h0M650 817h0M717.3 773.1h0M577.4 921.5h0M693.6 760.7h0M558.4 722h0M579.2 863h0M650.6 814.2h0M578.3 722h0M633.5 831.5h0M535 731.5h0M651.7 790.4h0M582.8 803.3h0M673.3 777.2h0M626.4 872.3h0M542.1 917.4h0M691.8 776.6h0M554.5 722.8h0M714.4 796h0M612.2 796.9h0M608.1 764.6h0M633.2 784.1h0M583.9 841.6h0M628.5 753.8h0M632.7 753.4h0M638 870h0M655.2 857.4h0M549.1 763.8h0M620.8 812.7h0M585 724.8h0M611.2 882.5h0M597.6 835.6h0M658.7 798.7h0M512.1 731.1h0M694.4 749.9h0M550.8 745.6h0M601.4 849.6h0M643.3 790.5h0M592.3 830.8h0M585.8 856.4h0M549.8 730h0M482.3 715h0M546.6 717.9h0M543 874.1h0M687.8 752.4h0M715.8 764h0M575.9 798.9h0M697.1 786.4h0M555.1 879.9h0M478.1 715.6h0M642.5 842.7h0M468.8 737.6h0M593.1 862.2h0M699.4 777.2h0M654.3 741.6h0M628.7 788.6h0M693.6 763.1h0M677.9 809h0M624.5 804.3h0M676.5 821.6h0M722.5 785.6h0M599.4 830.2h0M604.1 867.6h0M560.4 880.7h0M702.5 754.2h0M643.6 856.5h0M610.2 765.9h0M626.7 829.3h0M566 718.8h0M613.9 749.9h0M662.5 799.1h0M677.6 783.3h0M561.7 850.7h0M580.6 869.2h0M682.3 761.1h0M616.1 890.3h0M731.6 784.6h0M573.5 928.5h0M616.1 737h0M566.3 913.4h0M545.4 739.1h0M636.2 829h0M540.1 896.9h0M639.8 783h0M542 841.6h0M622.3 762.2h0M580.1 804.3h0M663.7 774.6h0M676.7 816.1h0M645 861.8h0M661.4 789h0M632.9 811.3h0M551.2 733.3h0M599 805.4h0M652.5 823h0M697.2 772.7h0M494.3 732.8h0M580.9 904.2h0M618.2 770.2h0M448.4 747.2h0M679.9 749.3h0M640.4 787.6h0M559.9 752.2h0M487.3 748.3h0M613.5 828.8h0M620.3 837h0M636.7 833.4h0M588.4 850.1h0M573.7 893.9h0M590.7 778h0M625.6 801.6h0M643.5 751.4h0M623.5 793.1h0M600.9 847.7h0M705.3 770.3h0M617.4 817.1h0M698 759.5h0M581.4 742.2h0M589 874.2h0M607.8 756.6h0M548.5 755h0M667.3 844.7h0M595 770.5h0M695.1 791.8h0M676.2 764.8h0M657.9 773.1h0M682.3 802.7h0M603.1 841.5h0M618.2 797.1h0M557.6 754.9h0M598 777.8h0M626.7 895.9h0M545.2 715.6h0M736.5 766h0M721 780.5h0M498.8 724.3h0M486.8 713.9h0M678.8 774.9h0M628.2 901.2h0M736.7 769.9h0M560.8 759.6h0M572.5 763.1h0M633.7 799.2h0M695.4 754.7h0M604.2 763.4h0M724.9 746.5h0M586.7 878.7h0M613.9 887h0M572.3 903.3h0M671.8 754.8h0M613 793h0M678.6 772.7h0M489.3 741.3h0M627 880.3h0M551.6 918.1h0M595 750.6h0M632.3 751.2h0M545.8 872.9h0M669.2 809.6h0M597.6 733.4h0M645.7 869h0M640.9 750h0M586.5 781.2h0M533.5 881.8h0M605.1 853.9h0M656.2 836.4h0M567.5 893.4h0M638.7 762.3h0M531.9 735.3h0M686.3 807.9h0M597.5 745.9h0M732.8 772.6h0M591.2 766.2h0M636.3 788.7h0M729.3 754.2h0M710.5 797.3h0M609 750.1h0M726.8 754h0M566.6 778.2h0M614.9 897.2h0M663.2 841.2h0M656.1 784.7h0M621.1 854.6h0M616.2 856.3h0M490.8 714.3h0M639.5 800.5h0M555.4 873.5h0M611.6 873.2h0M552.4 821.9h0M695.1 768.4h0M567.7 758.4h0M584.6 885.8h0M630.5 840.7h0M686.7 822.6h0M549.5 723.5h0M613.2 788.8h0M563.1 835h0M678.3 768.8h0M663.2 759.7h0M610 857.3h0M667.3 837.9h0M635 857.9h0M621 738.6h0M628.2 733.8h0M556.8 878.2h0M518.7 752.1h0M564.1 818.1h0M682.3 753.3h0M595 861.5h0M728.8 771.8h0M691.3 765.9h0M580.4 900.6h0M569 865.8h0M594.8 764.9h0M592.4 901.3h0M618 742.1h0M636.6 762.5h0M612.5 819.1h0M620.9 823.5h0M627.8 815.7h0M437.9 715.8h0M538.7 711.6h0M572.7 862.8h0M621.5 740.1h0M544.9 728.3h0M675.8 804.5h0M650.4 812.7h0M595 871.7h0M642.4 763.4h0M524.2 725.1h0M616.1 765.8h0M672.6 796.6h0M617.5 898h0M574.8 842.5h0M603.4 904.4h0M540.8 903h0M607.2 867.5h0M634.1 795.9h0M584 724.5h0M671.6 761.4h0M579 913.2h0M606.3 728.6h0M697.7 751.9h0M605.4 894.2h0M544.3 746.5h0M654.2 753.6h0M657.1 780.2h0M628.8 823.9h0M600.7 736.2h0M657.1 769.8h0M656.8 842.8h0M566.9 736h0M613.6 839.2h0M510.4 721.2h0M701.8 755.1h0M582.5 854.8h0M723.9 774.6h0M647.7 757h0M557.2 918.9h0M417 710.2h0M570.7 904.6h0M555.1 736.1h0M705.7 765.5h0M546.6 862.2h0M566 869.5h0M610.4 794.2h0M554.1 892.3h0M651.6 763.8h0M585.4 925.8h0M633.3 821h0M615.7 877.8h0M650 759.5h0M604.3 752.1h0M648.6 845.4h0M577.8 891.7h0M610.2 778.3h0M427.4 723.9h0M606.4 889.4h0M444.1 716.1h0M691.2 786.6h0M663 755.9h0M612.8 874.8h0M578.5 842.4h0M580 893.2h0M577 883.5h0M585.2 914.3h0M625.6 757.8h0M627 749.8h0M605.2 893h0M689.5 788.1h0M623.6 751.2h0M588.1 740.4h0M619.8 755.6h0M597.2 769.1h0M559.4 827.8h0M589.5 768.8h0M603.7 817h0M628.1 736.3h0M647.8 745.4h0M661.7 792.8h0M588.7 732.4h0M556.2 746.2h0M595.2 743.7h0M602.1 863.4h0M634.6 873.6h0M669.3 752.1h0M421.1 711.3h0M662 862.2h0M697 811.6h0M634.7 753h0M600 791.3h0M587.5 739.3h0M649.1 771.9h0M604.4 725.9h0M589.9 901.8h0M599.4 742.6h0M583.4 880.9h0M603.6 871.5h0M564 737.9h0M570.5 908.5h0M535.2 717.3h0M559.8 899.5h0M565 867.4h0M584.3 722h0M561.4 894.6h0M606 898.3h0M572 906h0M644 817.7h0M562.6 745.6h0M624.8 742h0M686.1 784.4h0M661.4 768.3h0M555.4 737.2h0M471.7 725.6h0M679.5 757.1h0M646 754.9h0M530.4 895.7h0M594.9 800.3h0M571.4 730.2h0M539 897.9h0M645.1 808.5h0M639.7 839.1h0M617.7 830.6h0M598.5 851.4h0M553.8 718.3h0M617.9 821.8h0M626 787.5h0M595.3 784h0M597.4 904.6h0M667.8 741.2h0M599 907.1h0M598.3 783.6h0M496.7 772h0M511.6 770.9h0M543.8 792.3h0M717.6 792.5h0M616.1 782.4h0M554.4 745.6h0M662.2 827.3h0M592.5 810.9h0M608.7 844.6h0M628 869.6h0M644.6 785.8h0M546 905.6h0M623.9 862.1h0M544.9 877.3h0M718.5 790.6h0M571.1 727.6h0M663.6 791.4h0M634.8 807.3h0M535.6 779.1h0M611.7 872.1h0M638.6 874.4h0M680.9 820.9h0M730.9 755.7h0M568.6 923h0M675.3 832.3h0M528.1 722.1h0M550.8 877h0M452.8 811.8h0M464.6 831h0M498.6 877.5h0M522.7 864.2h0M505.5 903.2h0M514.7 904.3h0M515.8 824h0M411.5 703h0M414 728h0M416 735h0M413 747h0M417 752h0M752 759h0M728 808h0M612 915h0M540 915h0" stroke="#44b2ee" stroke-width="3.3" stroke-linecap="round" fill="none"/>
<g stroke="#8c9e9e" stroke-width="1.6" fill="none">
<path d="M405.5 684.5V932.3H755.4M402.5 932.5H405.5M402.5 891.3H405.5M402.5 850.1H405.5M402.5 808.9H405.5M402.5 767.7H405.5M402.5 726.5H405.5M402.5 685.3H405.5M405.5 932.3V936M482.6 932.3V936M559.7 932.3V936M636.8 932.3V936M713.9 932.3V936"/>
</g>
<g font-size="12" fill="#111" text-anchor="end">
<text x="399.3" y="936.8">1.98</text>
<text x="399.3" y="895.6">1.99</text>
<text x="399.3" y="854.4">1.99</text>
<text x="399.3" y="813.2">2.00</text>
<text x="399.3" y="772">2.00</text>
<text x="399.3" y="730.8">2.01</text>
<text x="399.3" y="689.6">2.01</text>
</g>
<g font-size="12" fill="#111" text-anchor="middle">
<text x="407" y="947">1.83</text>
<text x="484.1" y="947">1.85</text>
<text x="561.2" y="947">1.87</text>
<text x="638.3" y="947">1.89</text>
<text x="715.4" y="947">1.91</text>
</g>
<text x="538.7" y="966.7" font-size="20.6" textLength="78.4" lengthAdjust="spacing">Dq (q=1)</text>
<text transform="translate(368.8 854.2) rotate(-90)" font-size="21" textLength="87.2" lengthAdjust="spacing">Dq (q=-1)</text>
</svg></body></html>
